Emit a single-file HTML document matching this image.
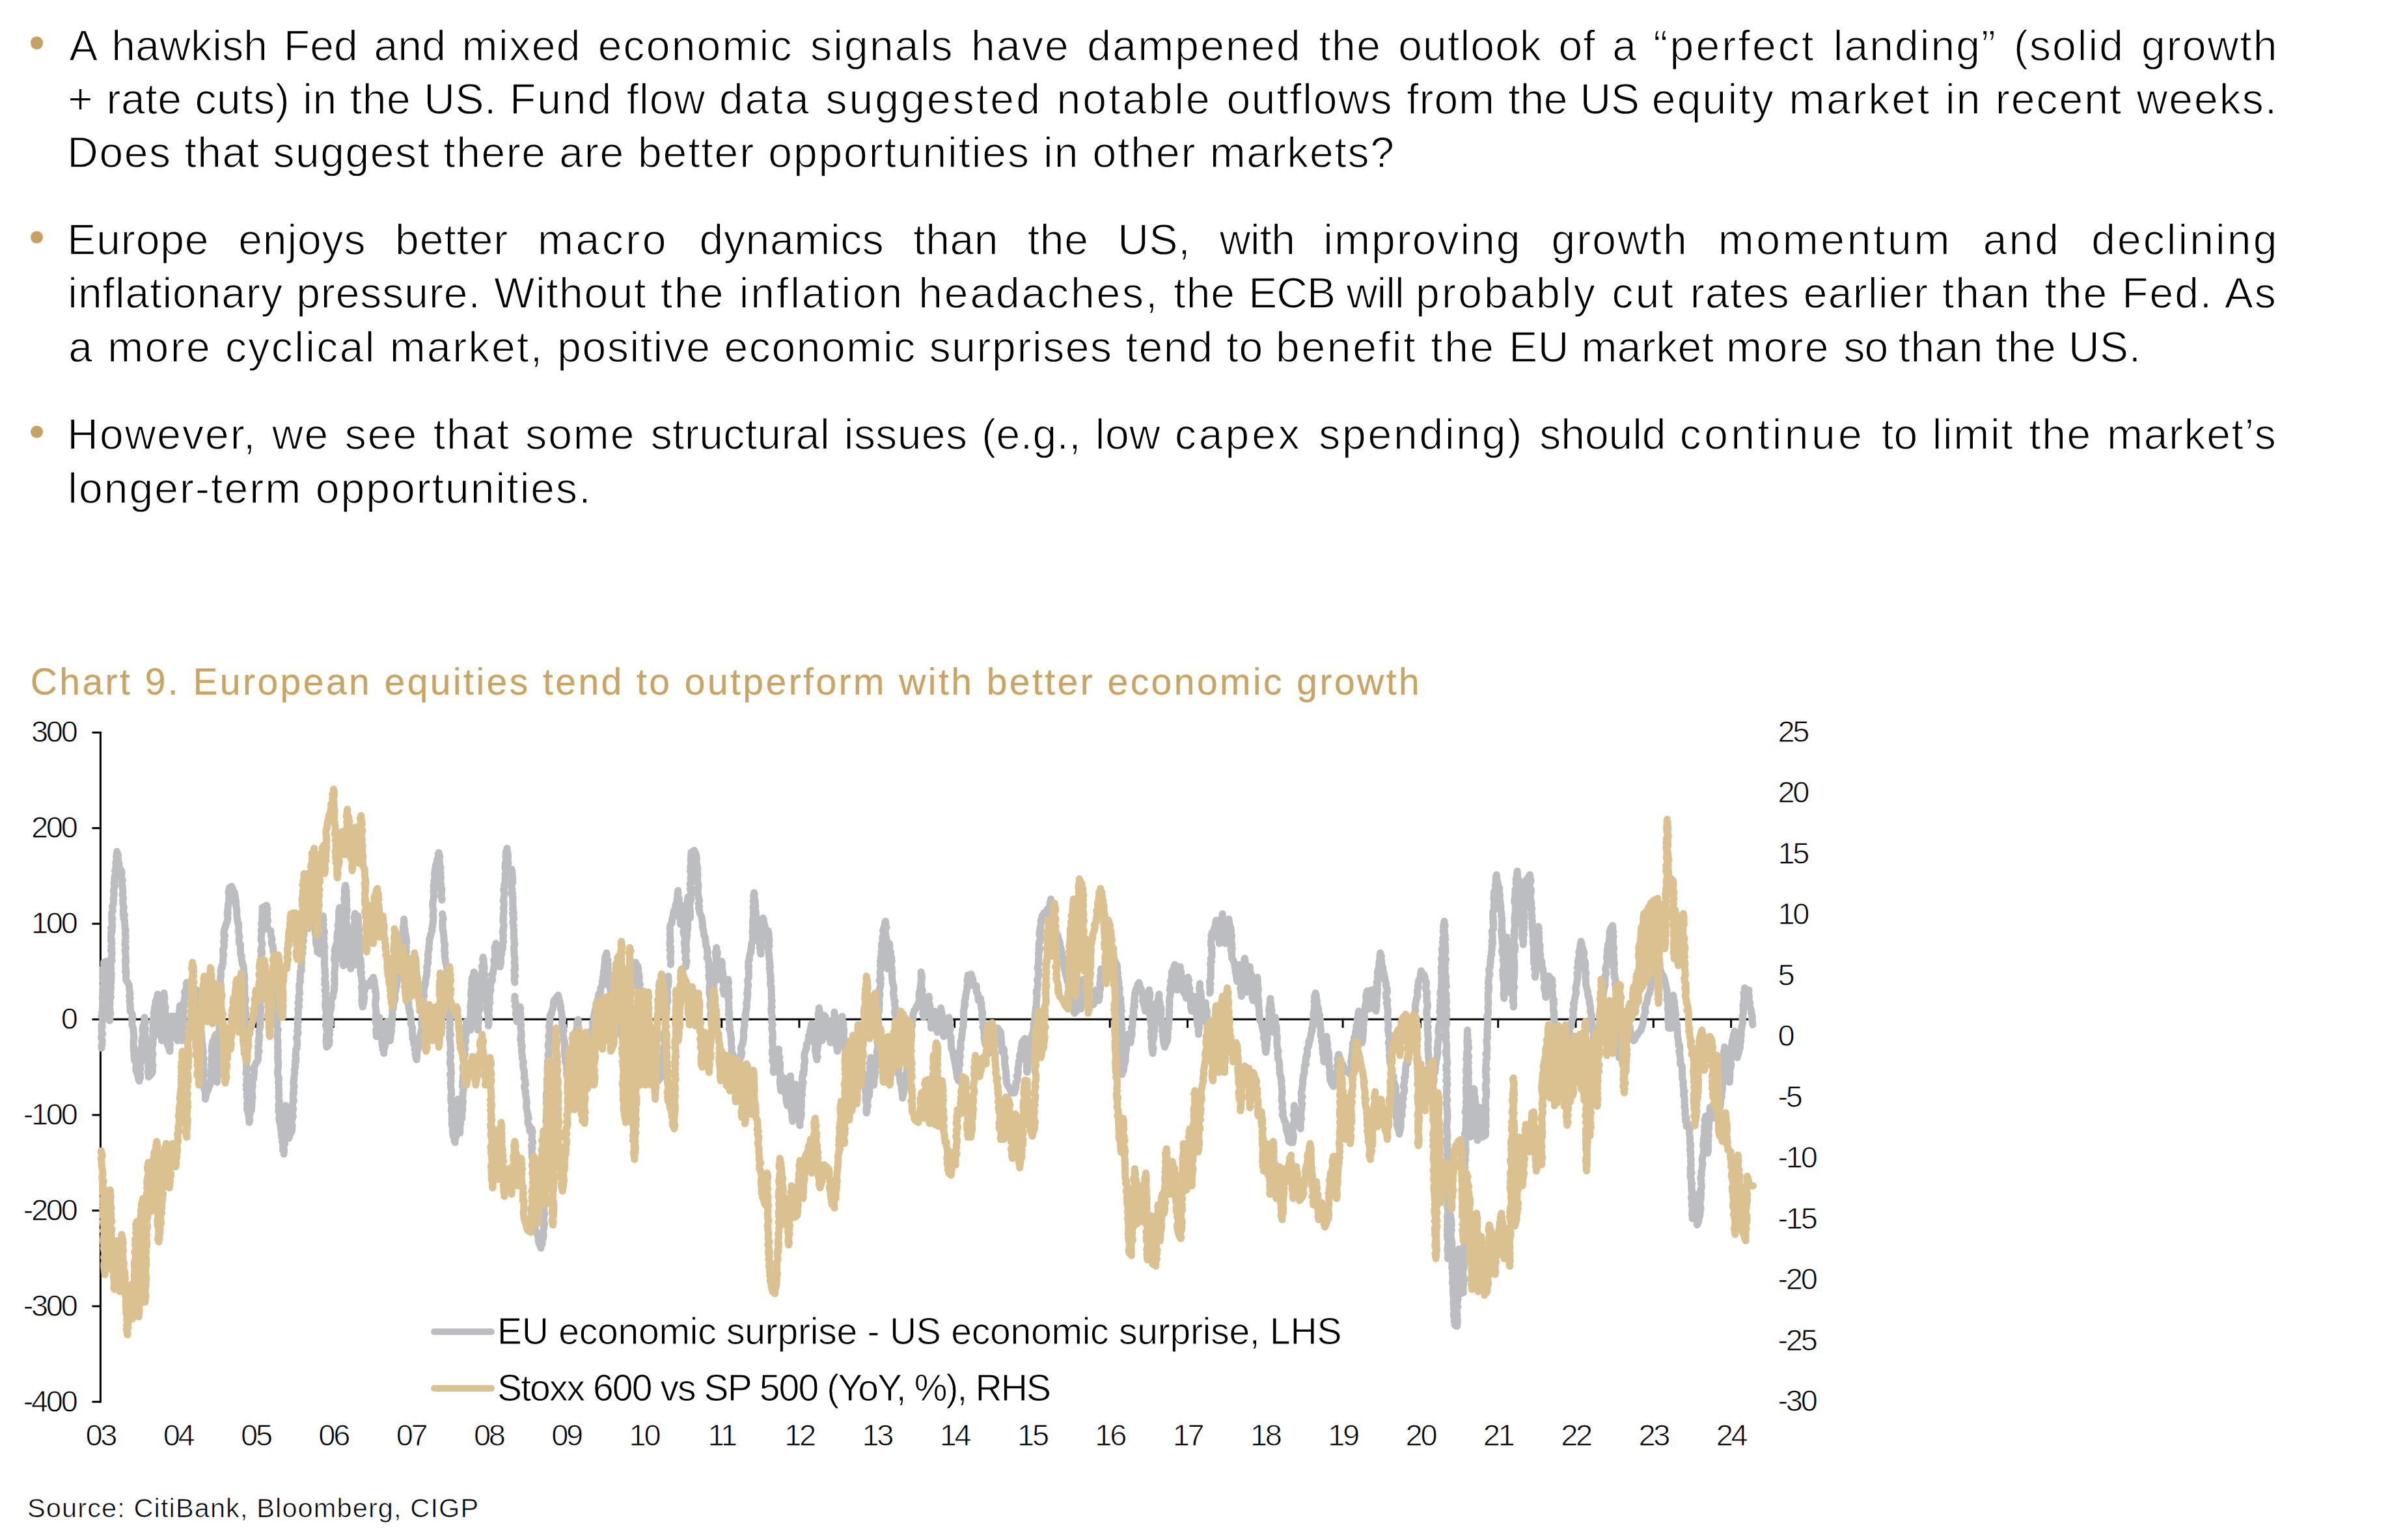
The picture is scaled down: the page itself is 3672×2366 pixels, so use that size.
<!DOCTYPE html>
<html><head><meta charset="utf-8"><title>Chart 9</title>
<style>
html,body{margin:0;padding:0;background:#fff}
body{width:3672px;height:2366px;position:relative;overflow:hidden;font-family:"Liberation Sans", sans-serif}
.t{position:absolute;white-space:pre;margin:0;padding:0;font-variant-ligatures:none}
.b{position:absolute;width:19.5px;height:19.5px;border-radius:50%;background:#C9A063}
svg{position:absolute;left:0;top:0}
</style></head>
<body>
<div class="b" style="left:46.95px;top:56.25px"></div>
<div class="b" style="left:46.95px;top:354.85px"></div>
<div class="b" style="left:46.95px;top:653.85px"></div>
<div class="t" style="left:106.35px;top:27.33px;font-size:66px;line-height:86px;letter-spacing:0.221px;word-spacing:5.798px;-webkit-text-stroke:1.3px #fff;color:#000">A hawkish Fed and </div>
<div class="t" style="left:709.55px;top:27.33px;font-size:66px;line-height:86px;letter-spacing:1.485px;word-spacing:5.798px;-webkit-text-stroke:1.3px #fff;color:#000">mixed </div>
<div class="t" style="left:918.65px;top:27.33px;font-size:66px;line-height:86px;letter-spacing:2.194px;word-spacing:5.798px;-webkit-text-stroke:1.3px #fff;color:#000">economic signals have dampened </div>
<div class="t" style="left:2026.15px;top:27.33px;font-size:66px;line-height:86px;letter-spacing:1.552px;word-spacing:5.798px;-webkit-text-stroke:1.3px #fff;color:#000">the </div>
<div class="t" style="left:2148.25px;top:27.33px;font-size:66px;line-height:86px;letter-spacing:1.162px;word-spacing:5.798px;-webkit-text-stroke:1.3px #fff;color:#000">outlook of a </div>
<div class="t" style="left:2540.35px;top:27.33px;font-size:66px;line-height:86px;letter-spacing:3.179px;word-spacing:5.798px;-webkit-text-stroke:1.3px #fff;color:#000">“perfect </div>
<div class="t" style="left:2816.85px;top:27.33px;font-size:66px;line-height:86px;letter-spacing:2.028px;word-spacing:5.798px;-webkit-text-stroke:1.3px #fff;color:#000">landing” (solid growth</div>
<div class="t" style="left:104.35px;top:108.63px;font-size:66px;line-height:86px;letter-spacing:0.551px;word-spacing:1.153px;-webkit-text-stroke:1.3px #fff;color:#000">+ rate cuts) in the US. </div>
<div class="t" style="left:782.95px;top:108.63px;font-size:66px;line-height:86px;letter-spacing:1.953px;word-spacing:1.153px;-webkit-text-stroke:1.3px #fff;color:#000">Fund </div>
<div class="t" style="left:962.65px;top:108.63px;font-size:66px;line-height:86px;letter-spacing:1.086px;word-spacing:1.153px;-webkit-text-stroke:1.3px #fff;color:#000">flow </div>
<div class="t" style="left:1104.95px;top:108.63px;font-size:66px;line-height:86px;letter-spacing:3.107px;word-spacing:1.153px;-webkit-text-stroke:1.3px #fff;color:#000">data suggested notable </div>
<div class="t" style="left:1884.45px;top:108.63px;font-size:66px;line-height:86px;letter-spacing:1.698px;word-spacing:1.153px;-webkit-text-stroke:1.3px #fff;color:#000">outflows </div>
<div class="t" style="left:2161.35px;top:108.63px;font-size:66px;line-height:86px;letter-spacing:0.901px;word-spacing:1.153px;-webkit-text-stroke:1.3px #fff;color:#000">from </div>
<div class="t" style="left:2317.35px;top:108.63px;font-size:66px;line-height:86px;letter-spacing:-0.274px;word-spacing:1.153px;-webkit-text-stroke:1.3px #fff;color:#000">the US </div>
<div class="t" style="left:2537.85px;top:108.63px;font-size:66px;line-height:86px;letter-spacing:2.154px;word-spacing:1.153px;-webkit-text-stroke:1.3px #fff;color:#000">equity </div>
<div class="t" style="left:2748.55px;top:108.63px;font-size:66px;line-height:86px;letter-spacing:2.757px;word-spacing:1.153px;-webkit-text-stroke:1.3px #fff;color:#000">market </div>
<div class="t" style="left:2989.05px;top:108.63px;font-size:66px;line-height:86px;letter-spacing:1.983px;word-spacing:1.153px;-webkit-text-stroke:1.3px #fff;color:#000">in recent weeks.</div>
<div class="t" style="left:103.35px;top:191.43px;font-size:66px;line-height:86px;letter-spacing:1.537px;word-spacing:0.000px;-webkit-text-stroke:1.3px #fff;color:#000">Does that suggest there </div>
<div class="t" style="left:859.35px;top:191.43px;font-size:66px;line-height:86px;letter-spacing:1.716px;word-spacing:0.000px;-webkit-text-stroke:1.3px #fff;color:#000">are </div>
<div class="t" style="left:979.95px;top:191.43px;font-size:66px;line-height:86px;letter-spacing:1.895px;word-spacing:0.000px;-webkit-text-stroke:1.3px #fff;color:#000">better opportunities in other </div>
<div class="t" style="left:1858.65px;top:191.43px;font-size:66px;line-height:86px;letter-spacing:1.683px;word-spacing:0.000px;-webkit-text-stroke:1.3px #fff;color:#000">markets?</div>
<div class="t" style="left:103.35px;top:325.13px;font-size:66px;line-height:86px;letter-spacing:0.873px;word-spacing:25.627px;-webkit-text-stroke:1.3px #fff;color:#000">Europe enjoys better </div>
<div class="t" style="left:825.95px;top:325.13px;font-size:66px;line-height:86px;letter-spacing:3.542px;word-spacing:25.627px;-webkit-text-stroke:1.3px #fff;color:#000">macro </div>
<div class="t" style="left:1074.55px;top:325.13px;font-size:66px;line-height:86px;letter-spacing:0.652px;word-spacing:25.627px;-webkit-text-stroke:1.3px #fff;color:#000">dynamics than the US, </div>
<div class="t" style="left:1873.75px;top:325.13px;font-size:66px;line-height:86px;letter-spacing:-0.349px;word-spacing:25.627px;-webkit-text-stroke:1.3px #fff;color:#000">with </div>
<div class="t" style="left:2033.35px;top:325.13px;font-size:66px;line-height:86px;letter-spacing:2.009px;word-spacing:25.627px;-webkit-text-stroke:1.3px #fff;color:#000">improving growth </div>
<div class="t" style="left:2639.65px;top:325.13px;font-size:66px;line-height:86px;letter-spacing:3.671px;word-spacing:25.627px;-webkit-text-stroke:1.3px #fff;color:#000">momentum </div>
<div class="t" style="left:3046.75px;top:325.13px;font-size:66px;line-height:86px;letter-spacing:3.083px;word-spacing:25.627px;-webkit-text-stroke:1.3px #fff;color:#000">and declining</div>
<div class="t" style="left:104.35px;top:406.93px;font-size:66px;line-height:86px;letter-spacing:0.947px;word-spacing:0.970px;-webkit-text-stroke:1.3px #fff;color:#000">inflationary pressure. </div>
<div class="t" style="left:759.05px;top:406.93px;font-size:66px;line-height:86px;letter-spacing:1.592px;word-spacing:0.970px;-webkit-text-stroke:1.3px #fff;color:#000">Without </div>
<div class="t" style="left:1014.85px;top:406.93px;font-size:66px;line-height:86px;letter-spacing:2.484px;word-spacing:0.970px;-webkit-text-stroke:1.3px #fff;color:#000">the </div>
<div class="t" style="left:1135.85px;top:406.93px;font-size:66px;line-height:86px;letter-spacing:2.862px;word-spacing:0.970px;-webkit-text-stroke:1.3px #fff;color:#000">inflation headaches, </div>
<div class="t" style="left:1803.35px;top:406.93px;font-size:66px;line-height:86px;letter-spacing:0.984px;word-spacing:0.970px;-webkit-text-stroke:1.3px #fff;color:#000">the </div>
<div class="t" style="left:1918.35px;top:406.93px;font-size:66px;line-height:86px;letter-spacing:-1.000px;word-spacing:0.353px;-webkit-text-stroke:1.3px #fff;color:#000">ECB </div>
<div class="t" style="left:2068.75px;top:406.93px;font-size:66px;line-height:86px;letter-spacing:-0.934px;word-spacing:0.970px;-webkit-text-stroke:1.3px #fff;color:#000">will </div>
<div class="t" style="left:2175.05px;top:406.93px;font-size:66px;line-height:86px;letter-spacing:3.213px;word-spacing:0.970px;-webkit-text-stroke:1.3px #fff;color:#000">probably cut </div>
<div class="t" style="left:2596.65px;top:406.93px;font-size:66px;line-height:86px;letter-spacing:1.342px;word-spacing:0.970px;-webkit-text-stroke:1.3px #fff;color:#000">rates </div>
<div class="t" style="left:2770.75px;top:406.93px;font-size:66px;line-height:86px;letter-spacing:1.323px;word-spacing:0.970px;-webkit-text-stroke:1.3px #fff;color:#000">earlier </div>
<div class="t" style="left:2984.05px;top:406.93px;font-size:66px;line-height:86px;letter-spacing:1.935px;word-spacing:0.970px;-webkit-text-stroke:1.3px #fff;color:#000">than the Fed. As</div>
<div class="t" style="left:105.35px;top:489.63px;font-size:66px;line-height:86px;letter-spacing:2.410px;word-spacing:0.000px;-webkit-text-stroke:1.3px #fff;color:#000">a more cyclical market, </div>
<div class="t" style="left:856.35px;top:489.63px;font-size:66px;line-height:86px;letter-spacing:1.564px;word-spacing:0.000px;-webkit-text-stroke:1.3px #fff;color:#000">positive </div>
<div class="t" style="left:1112.55px;top:489.63px;font-size:66px;line-height:86px;letter-spacing:1.589px;word-spacing:0.000px;-webkit-text-stroke:1.3px #fff;color:#000">economic surprises tend </div>
<div class="t" style="left:1884.35px;top:489.63px;font-size:66px;line-height:86px;letter-spacing:0.736px;word-spacing:0.000px;-webkit-text-stroke:1.3px #fff;color:#000">to </div>
<div class="t" style="left:1959.95px;top:489.63px;font-size:66px;line-height:86px;letter-spacing:2.738px;word-spacing:0.000px;-webkit-text-stroke:1.3px #fff;color:#000">benefit </div>
<div class="t" style="left:2198.35px;top:489.63px;font-size:66px;line-height:86px;letter-spacing:2.477px;word-spacing:0.000px;-webkit-text-stroke:1.3px #fff;color:#000">the </div>
<div class="t" style="left:2318.35px;top:489.63px;font-size:66px;line-height:86px;letter-spacing:0.362px;word-spacing:0.000px;-webkit-text-stroke:1.3px #fff;color:#000">EU market </div>
<div class="t" style="left:2652.05px;top:489.63px;font-size:66px;line-height:86px;letter-spacing:2.356px;word-spacing:0.000px;-webkit-text-stroke:1.3px #fff;color:#000">more </div>
<div class="t" style="left:2832.55px;top:489.63px;font-size:66px;line-height:86px;letter-spacing:-1.000px;word-spacing:-1.047px;-webkit-text-stroke:1.3px #fff;color:#000">so </div>
<div class="t" style="left:2916.55px;top:489.63px;font-size:66px;line-height:86px;letter-spacing:0.503px;word-spacing:0.000px;-webkit-text-stroke:1.3px #fff;color:#000">than the US.</div>
<div class="t" style="left:103.35px;top:624.33px;font-size:66px;line-height:86px;letter-spacing:1.998px;word-spacing:3.149px;-webkit-text-stroke:1.3px #fff;color:#000">However, we see that </div>
<div class="t" style="left:807.25px;top:624.33px;font-size:66px;line-height:86px;letter-spacing:1.903px;word-spacing:3.149px;-webkit-text-stroke:1.3px #fff;color:#000">some </div>
<div class="t" style="left:999.65px;top:624.33px;font-size:66px;line-height:86px;letter-spacing:0.394px;word-spacing:3.149px;-webkit-text-stroke:1.3px #fff;color:#000">structural issues (e.g., low </div>
<div class="t" style="left:1804.95px;top:624.33px;font-size:66px;line-height:86px;letter-spacing:3.930px;word-spacing:3.149px;-webkit-text-stroke:1.3px #fff;color:#000">capex </div>
<div class="t" style="left:2026.15px;top:624.33px;font-size:66px;line-height:86px;letter-spacing:2.783px;word-spacing:3.149px;-webkit-text-stroke:1.3px #fff;color:#000">spending) </div>
<div class="t" style="left:2365.35px;top:624.33px;font-size:66px;line-height:86px;letter-spacing:-0.068px;word-spacing:3.149px;-webkit-text-stroke:1.3px #fff;color:#000">should </div>
<div class="t" style="left:2580.85px;top:624.33px;font-size:66px;line-height:86px;letter-spacing:4.320px;word-spacing:3.149px;-webkit-text-stroke:1.3px #fff;color:#000">continue </div>
<div class="t" style="left:2890.75px;top:624.33px;font-size:66px;line-height:86px;letter-spacing:0.487px;word-spacing:3.149px;-webkit-text-stroke:1.3px #fff;color:#000">to </div>
<div class="t" style="left:2968.75px;top:624.33px;font-size:66px;line-height:86px;letter-spacing:1.629px;word-spacing:3.149px;-webkit-text-stroke:1.3px #fff;color:#000">limit the market’s</div>
<div class="t" style="left:104.35px;top:707.13px;font-size:66px;line-height:86px;letter-spacing:2.044px;word-spacing:0.000px;-webkit-text-stroke:1.3px #fff;color:#000">longer-term opportunities.</div>
<svg width="3672" height="2366" viewBox="0 0 3672 2366">
<g stroke="#000" stroke-width="3" fill="none" stroke-linecap="butt">
<path d="M154.4 1123.9 V2155.2"/>
<path d="M141.5 1125.4 H154.4"/>
<path d="M141.5 1272.3 H154.4"/>
<path d="M141.5 1419.2 H154.4"/>
<path d="M141.5 1566.1 H154.4"/>
<path d="M141.5 1713.0 H154.4"/>
<path d="M141.5 1859.9 H154.4"/>
<path d="M141.5 2006.8 H154.4"/>
<path d="M141.5 2153.7 H154.4"/>
<path d="M154.4 1566.1 H2695"/>
<path d="M273.6 1566.1 v13"/>
<path d="M392.9 1566.1 v13"/>
<path d="M512.2 1566.1 v13"/>
<path d="M631.5 1566.1 v13"/>
<path d="M750.8 1566.1 v13"/>
<path d="M870.1 1566.1 v13"/>
<path d="M989.4 1566.1 v13"/>
<path d="M1108.7 1566.1 v13"/>
<path d="M1228.0 1566.1 v13"/>
<path d="M1347.3 1566.1 v13"/>
<path d="M1466.6 1566.1 v13"/>
<path d="M1585.9 1566.1 v13"/>
<path d="M1705.2 1566.1 v13"/>
<path d="M1824.5 1566.1 v13"/>
<path d="M1943.8 1566.1 v13"/>
<path d="M2063.1 1566.1 v13"/>
<path d="M2182.4 1566.1 v13"/>
<path d="M2301.7 1566.1 v13"/>
<path d="M2421.0 1566.1 v13"/>
<path d="M2540.3 1566.1 v13"/>
<path d="M2659.6 1566.1 v13"/>
</g>
<g fill="none" stroke-linejoin="round" stroke-linecap="round" stroke-width="110" transform="scale(0.1)">
<path stroke="#BBBDC0" d="M1562 16102l-3-32 11-22 0-41 2-27-17-33 0-14 22-52-15-16-2-52 0-24 12-9-10-31 9-33 7-57-4-32-15-21 19-25-13-21 18-52-11-17 12-49-8 0 2-40 4-39-11-27 7-40 8-30-8-21 1-36 5-23 1-46 5-7-2-35-3-40 3-42 3-5-11-34 14-53-15-13 6-40 10-18 2-35-2-31 32-16 0 22-5 29 11 51-5 19 19 32-3 39 0 26-1 40-7 34 19 5-15 38 0 28 13 37 0 38-3 40 5 24 4 25 2 26 5 33-8 30 8 57 7 34-3 5 10 29 9 39-15 27 3 55 12 17-3 30-2-39-6-29 14-18 7-23-11-35 3-29-5-21-3-43 9-24-4-26-2-36 18-39-12-34 8-36-6-8 10-51 3-17-11-32 12-47-3-9 3-37 2-36-3-27 7-15-14-60 9-32-7-27-1-12 0-32 21-46-4-15-14-17 14-51 4-40-1-4-17-28 16-30-12-37 13-45-18-42 12-11-9-28-2-36 12-40-11-5 20-42-20-33 23-21-7-57-2-24 10-38-14-6 3-37-1-36 3-15 13-31-9-63 7-8 10-26 5-64-6-28 5-18 6-36 1-25-9-20 5-36 18-55-6 3-11-47 12-34-4-37 4-29 2-5 18-53-15-26 7-26 7-36 2-39-5-28 9-24 7-25-7-49 13-30-5-5 2-39 8 27 11 25-5 42 8 20-4 31 17 46-8 27 6 25 22 28 20 37 1 23-6 23-2 49 19 39-14 34 4 21 7 23 3 46 2 16 5 39-11 39 2-3 14 63-9 23 2 14-1 38 7 35 10 29-13 43 9 36-9 26 24 14-17 44 16 37 0 22 5 47 0 24 1 28 12 21-9 54 6 26-2 20 7 14-12 46 8 24-12 36 11 33 6 28-15 36 5 8 1 33 6 59 3 32-14 25 16 9-7 28-3 42 2 25 9 41-14 26 17 11-1 29-6 46 2 32 10 25 24 36 14 36 2 27 4 54 5 12 6 32-15 35 18 31-15 38 10 40 3 30-6 24 9 34-4 33 32 49 4 28-13 30 13 32-6 23-3 51 13 35 9 29-1 37 5 28 0 14 4 51-3 30-4 20-2 30 3 38-2 27 18 17-16 32 10 37-2 21 0 38 3 26 4 40 13 16 12 32 1 31-7 38 2 29 12 31 16 41 5 28 6 33 13 35 5-27 11-27 2-45-15-7 6-46 12-48-16-19 4-45 15-14-4-28-2-39 3-22 5-34 4-31-10-24 23-56-2-13-1-43-1-22-2-29 10-45 8-30 6-5-1-28-8-39-3-25 7-55 16-30 1 3 0-45 5-27 0-35 3 22 14 46-10 28-3 15-2 35 15 20-7 40-2 45 7 34 12 8-10 42 8 22 8 33 8 37 1 28-1 37 8 7 3 63-6 7-11 32 2 43 15 33 9 16-1 46-3 6 9 49-7 42-7 1 13 52 0 27 20-23 22-19 17-30 2-26-1-48 7-35-15-13 5-19-1-46-2-18 4-36 10-41-15-12-1-37 3-45 7-31 4-23 3-53-7-26 14-19 1-43-7-20-8-43 7-6-2-45 11-40-12-16 2-38-1-41 13-24 9-30-11-29 9-36 4-35 3-40 21-12-11-59 23-11-2-27 12-40 3-38 6 36-16 30 4 40 19 20-8 34-2 30 17 7-12 59-4 14 17 38-12 25 4 34 16 21-15 54 6 22 6 18-4 38 4 26 3 23 8 63 23 24-2 30 7 28 7-34 1-40-7-16 7-42-4-32 1-7-2-48 10-35 8-26-13-30 5-26 1-32-4-43 17-3-1-43 6-43-20-2 13-44 1-24 5-30-3-28 5-29 1-49-2-24 1 33 8 26-1 46-8 8 4 26 9 47 11 28-16 15 10 32-9 42 18 24-11 22 18 57-9 5 12 49-4 33-2 21 7 19-10 47 6 29 5 16-8 27 12 51-1 27 4 27 10 49 20 10 2 46 10 31 4-37-9-17 13-48-10-26-4-25 20-47 3-8-19-35 19-37-12-36 18-27 2-24-8-31-2-56 3-30-2-28 3-24 56 0 3 36 16 36-4 31-8 26 20 32-9 34 15 20-12 29 16 25-9 59 5 7 9 38 6-28 7-19-14-39 4-33-3-29 6-35 9-31 1-55 0-23 19-39-4-28-8-11 8-56-4-22 11-24-2-41 3-22 1 31-6 34 2 25 1 31 1 39 15 45-6 1 5 54-2 40 2 20-2 29 18 29-10 34 19 20-4 42 2 26-4 35 6-39 8-38-13-25 0-7 0-42 11-50 6 2-4-58-4-17 18-25-15-53 12-18-8-19 1-33 13-30-11-41 17-39-17-39 13-15 0-30 7-23 3-41 12-22-16-45 18-33 13-37 3 2-7-49 6-28 7 25 17 40-6 17 8 42 9 34 4 15 3 38 24 30 24 35 17-38 5-35 13-9 22-40 8-41 1 30-6 36 12 21 12 53-2 21 3 33-1 35-7 20 10 19 7 20 8 58-16 33 7 25-4 34 16 17-1 32 3 30-4 47 14 17 5 14 7 59 11 11-9 50 12 18 2 37-5 11 4 25 10 32 2 39 3 27-3 21 12 32-18 53 1 12 24 25-10 50 1 24 6 13-9 35 17 57-18 18 14 30 1 38-15 7 5 34-2 34 9 35-5 35 11 24-1 35 9 35 8 29-1 38 2 24-2 36 9-25 5-43 10-46 21-25 4-23 11-32 15-24 6-42 5-31 8-42-4-27 8-40-6-24 10-34-4-37-10-18 11-17-2-54-2-32 14-20-7-21 5-38-4-28-7-27 8-46-4-7 12-57 2-22 18-23 14-47 1-11 16-33 1 35 5 33 6 37-6 5-2 44-1 46 3 28 10 28-19 24 7 35-5 5 15 54 0 11 1 59 5 18-11 43 15 27-11 6 0 54-4 17 4 45 0 23 3 37 3 22-2-24 2-28 15-53-17-27 1-10 4-38-3-31 6-23 3-53 4-25-10-23 15-19 4-57-6-19 12-19-13-33 15-27-3-34 4-26-5-37 0-22 10-43-9-43 10-28-11-2 15-56-8-25 5-25-1-23 9-43-23-32 1-39 1-24 15-35-3-6 3-46 5-11 6-48-4-20-9-49 10-36-15 4 13-52-1-37-7-24 15-13-16-49 18-25 4-34-4-14-4-51 1-23-1-39 11-10-6-52 1-37 8-42 15-4-5-29 18-34-3-52 4-29 0-29 8-23-10-24-3-51 9-9 10-38 2-37-10-42 14-22-7-36 15-31-21-25 7-32 2-16 7-36 10-28 15-53 11-21 6-28 6-34-6-45-3-29 12-5-9-31 8-32 2-57-1-5 17-61-6-10 3-35 5-47-11-35 1-20 12-32 3-26 32-16 14 34 11 40 18 17 6 39 8 29 2 33 10 51-15 0 12 46 7 43 6 33 0 8-1 54 3 28 6 37 3 44 6 32 9 2 4 34-3 60-5 23 10 33 3 27 7 27-9 49 3 35 1 20 22 17-4 48 0 34 1 14 3 57 16 19-1 37 0 30 14 53-2 13 16 20 4 54 0 25 6 29 3 39 2 17 3 47-8 32-1 35 12 22-4 25 3 32-5 21 5 42-1 11-9 63 23 10-1 45-16 20 0 29 14 44 3 25-3 29 6 28-3 45-7 35-3 18 11 35-2 13 3 19 10 59-3 18-14 47-1 25 14 13 7 40-21 41 23 21-16 16 2 27 3 26 6 57-7 8 15 27-12 42-8 39 14 33-7 33 8 21-2 26 1 33 0 23 13 26-17 27-5 34 22 29-2 45-11 21 6 31 10 39-23 14 21 26-17 44 19 28-13 46 8 30-8 10 13 32-2 51-7 20 2 29 1 35-3 25 17 44 3 29 5 13 9 67-1 22 2 25 10-38-6-12-2-51 12-31 6-33 17-23-1-32 3-40 2-38 2-16-11-46 22-21-14-39 9-10-9-45 5-44-2-17 10-19-5-56 5-18 5-28 11-21-2-35 6-34 5-31-3-36-4-30 13-23 17-41 19-23 16-32 2-27 0-23-4-53 19-26-14-27-5-41 8-2 8-47-9-32 14-27-10-21 16-32-9-32-1-53 11-36 8-23 0-16 2-40-4-27 7-30-17-14 14-33 1-36-2-24 7-44-3-41-9-6 3-56-1-26 13-21-3-19-2-41 0-37 9-29-2-14-1-42-3-48-5-1 14-41-13-29-4-33 20-18-2-57-8-30 11-12 2-46-13-12 3-51-10-39 4-19 7-25-2-29 15-49-22-33 18-7-9-37 12-43 2-31-3-6-16-54 7-7-4-32 10-60 7-25-17-16 10-23 13-33-21-48 21-23-9-35 11-17-12-28 4-32 1-33 2-39-2-39 33-17 32-16 2 27 13 23-11 33 10 43-8 28 10 55 5 29-17 36 4 5 3 39 5 40 49 32 1 27 1 37 3 19 17 52-12 39 7 35 16 21-1 30 7 23-2 29 16 43 2 42 3 25-4 33 4 36 14 31-3 12-11 40 14 24 1 51 5 31-20 23 14 33 2 10 10 36 0 25-3 50-16 25 6 16 5 42 8 28 2 49 0 16-6 43 11 2 3 52-1 36-16 26 14 15-12 25 6 31 4 47 17 12-11 41 2 33 3 28-5 30 2 34 15 29-8 35-3 12 4 37-7 29 9 42 3 46-1 22-3 41-3 7 12 54-11 28 7 11-1 53-6 13 10 44-6 21 10 34-2 22-3 32-3 27-3 37-3 11 6 58 11 14 6 34-10 22-3 28 10 26-2 37-4 20 10 31-7 32 9 50-11 12 5 45 9 28-6 38-10 32 12 26-8 38-4 27 20 10-2 22 1 63-10 6 4 38 9 40 7 14 8 61-2 20 10 27 1 34 1 28 6 48 9 24-5 28 16 50-6 25 11 18-12 37 19 25-1 40 1-33 4-23-7-32 1-31 17-42-20-32 18-34-8-6 10-53-3-14 7-44 3-31 1-18-11-25 14-42-8-45-10-32 16-19-13-40 19-11-10-43 10-51-6-22 1-24 5 36 1 33-9 40 11 21 4 15 17 59-5 10-6 40 9 43 14 31 0 24 3 36-2 6-5 57 14 18-2 35 13-31 6-27 19-36 11-20 3-25-7-49 11-8-14-34 4-35 8-28 14-45-19-24 4-7 6-31 13-55-14-35 0-8 2-46 11-10 7-28-13-32 3-45-1-36 13-10-3-24-4-30 14-42-12-17-3-46 10-29-1-33 2-22 6-42 4-18-6-39 12-43 1-27-5-20 17-43-15-1 18-41-11-45 3-33 5-33-3-29 16-20-6-8 13-44-2-33 1-34-11-36 5-33 9-9 12-45-17-23 6-28 7-46-9-33 0-12 15-23-15-51 5-1 7-39 2-29 1-48-9-21 20-43 3-1-20-63 8 1 16-43-14-35 5-43 12-11-2-40-5-23-2-33 3-42-3-5 19-48-4-10-2-35 8-29-5-20 3-65 17-8 0-41-8-20 7-33 4-24-6-52-2-35 0 0 5-49 19-19-9-39 15-44-5-16-10-17 10-46 12-25-11-28 0-49 20-14-4-26-7-36 5-54 1-35 7 3-11-60 9-25 8-29-2-28 9-34-1-33 0-19 2-54-9-5 5-38 7-39-1-34 19-16 3-26-8-44 3-35-6-28 4-20 14-40-4-47 4-25-7-31 13-15 6-42-4-25 11 37-4 18 12 34 0 41 2 26 14 43-4 0 3 51 16 33 13 15 1 38 5 28 5 24 8 42-11 32 10 25-1 31-4 47 12 11 11 26 6 30-15 47 18 29-9 42-1 9 11 31-5 36 7 17 11 31-9 40 12 36 5 29-6 29 5 30-3 29 12 38 9 34 1 27-2 36 49 32 6-35 10-9-21-55 3-22 10-23-4-23 12-39 7-40-11-46 17-12-1-50 5-20 1-34 1-8 7-42-13-18 9-49 3-26 1-33-3 25 10 34-15 23 15 48-5 36-5 19 15 33 9 27-14 47 2 13 6 43-7 19 3 37 8 45-12 19 18 12-16 34 10 25-2 37 3 50 3 23-1 29-4 16 0 38 2 38 4 34 6 28-5 22 8 53 1 18-10 41-2 16 18 46-18 22 21 28 2 42-20 23 2 10 17 34-12 45 9 37 0 16-8 35-2 40 12 15-13 14 8 47 13 38-3 31-12 39 1 31 12-1 4 35-6 50-10 23 14 33 0 12 10 59 1 17-13 20 3 26-5 46-2 38 10 37-5 8 5 35 33-33 7-33 4-30-4-16-13-34 20-49-15-30 17-34-10-16 3-49 15-19-10-16 10-41-2-50-9-10-2-30 6-37 11-48 2-6 9-52-2-32-4-16-1-33 15-27 17-25 3-53 7-20 7-38 4-26-5-23 11-32-2-37-8-43 10-7-4-50-1-43-3-5 10-45-2-32 9-28-2-21-2-24-15-55 23-30-18-14 11-47-9-39 5-23 4-25 10-26 11-34 12-38 5-32-13-22 7-37 1-45 11-10 2-29 5-53-12-17 12-31 1-9 6-57-4-7 0-45 2-24-1-36 5-26 8-39-1 34-6 14 8 45-6 29 4 25 6 43 9 6-17 58 2 22 4 21-4 56 9 8 9 19-17 60 22 13-20 20 16 49 4 20-18 35 13 43-13 29 22 36-10 2 11 63-4 19-3 24 2-33-2-46 3-10-6-40 18-39-3-6-5-63 5-4-8-52 16-6-8-51 7-36-17-6 0-31 19-35 2-55-18-23 12-31-5-44 8-19-1-29 1 28-4 32-6 46 2 22 21 8-14 63 4 11 6 17 8 30-1 61-15 30-2 32 7 20-6 13 7 38-1 24 11 38-3 39 3 24-3 36-8 39 0 33 4 31 4 17 5 27 1-31-9-25 21-22-18-36 8-45 3-8-12-39 22-21-6-56-11-20 6-28-10-23 7-50 14-35-12-31-4-28 6-33-7-20 12-8-10-42 11-39 1-25-5-28 5-26 2-45 9-18-1-26-2-44-2-38 6-34-12-14 16-38-15-21-6-35 9-25 2-31 1-28-5-27 7-61 7-30 6 26 3 43 8 18-16 46 15 5-14 37 19 27-1 47-4 27 3 34-9 17 18 56-8 32-2 10-3 41 4 39-6 14 1 50 1 7 10 56 10 1-6 47 2 49-13 20 4 37 0 23-2 39 9 11-2 48 17 12 0 37-5 45-6 25 1 40 9 25-5 24 0-36-8-35 14-6 12-64 1-16-15-16 12-54 4-33 0-12 0-38 3-38-1-22-2 32 11 21-16 48 9 26-6 40 16 20-3 47-10 19 5 19 0 44 20 22-12 35-6 45 18 11-5 55-3 18 6 34 5-30-7-39 10-26 2-18-7-38 14-39-21-30 14-13 1-49 9-28-19-32 0-40 14-4-4-40 4-53-3-28 16-31-19-30 11-13 2-38 2 30-4 38 2 40 8 27-4 30 0 40 17 17 2 24 0 26-10 33 11 46 5 43-5 23-2 23-4-38-2-39-3-25 3-33 15-28-3-13-1-49-2-27 13-36-11-10 6-44-8-6 8-52 0-35 9-26-2-38-6-13 14-48-11-24-6-28 12-32 1-26 1 35-3 34 2 20 4 29-4 24-1 55-4 14 13 49-8 27-3 22 13 39-6 31 7 3-9 59 17 15-15 34 9 24 3 17-1 36-1 60 3 3 5 47-3 17 5 54-4 22 2 22-2-29 12-17-15-50 14-35-1-27-9-12 7-40 9-25 2-19-5-39-7-33-6-47 12-25-5-22 6-24-9-52 12-13-1-44 6-7 9-47-9-28 9-39-9-12-1-38 3-29 1 23 3 21 6 53-13 29 7 14-7 26 24 55-6 25-2 46 10 13-6 26 0 25 0 30 6 53-10 33 18 8-7 48 2 24-1 27 0 35-1 44 19 4 4 57-3-1 5 35 5 34-15 23 2 55 17 2-13 42 11 29 2 36 4 34 8 29-4 17-11 47 19 20-13 36 14 19-13 56 11 3-15 55 8 29-5 20 8 28 5 29 3-33 13-18 0-49 4-4 7-43-13-39 6-32 9-24-2-33 21-17 2-38-1-27 27 8 38 24 14-23-1-58 19-17 17-32 8 28 10 52-2 4 5 50 9 27 2 34-2 22 12 23-1 58 5 33-12 16 1 26-5 53 5 29 8 36-3 26 7 18-8 49 11 3-17 50 0 40 5 29 8 6 10 32-4 33-12 28 4 54 3 25 1 26 7-25 12-53 0-34-7-28 9-22 8-36 5-22 13-44 2-29-1 31 0 39 13 18 2 26 2 53 9 27-5 33 3 29 15 22 4 33-11 23 24 20-19 30 3 39 18 40-9 19 14 42 3 28 1-22-7-30 20-36-3-51 15-1-18-56 20-28-3-35-3-11 13-17 7-31 3-43 5-49 1-11-6-41 4-25 2 40 7 28-3 24 15 52 15 16-7 44 13 13 1 44 5 31 4-33 2-29 8-47 4-22 5-19-13-41 13-30 6-9-3-27 6-62-1-20-3-40 9-8-3-54-1-30 15-15 1-33 4-22-6-25 20-36 12-48-5-27-3-5 2-65 14-15-2-18 12-55-1-3 9-39 2-33 7-31 0-33 11-13 1-52 12-6 7-32-6-37 27-49 4-24 4-16 0-37 5-26 3-31 5-34 7-7-2-52 2-13 5-45-12-21-5-38 16-46 5-23 0-9-4-25-4-57 9-27-6-17 1-31 18-50-3 3-4-54 1-23 6 39-6 4 3 57 6 36 10 23-7 11 10 56 5 11 6 38 2 24 6 20 2 34-16 44 10 42-6 20 10 29-6 25-3 35 5 18 16 35 1 34-5 24-9 26 12 61 6 30-13 23 8 31-2 29 9 35-5 4 10 38-9 24 1 40-3 20 1 57 7 12-13 30 6 23-1 36 15 36-4 36 10 37-8 23 12 27-6 26 23 53-10 8 14 35 0 23 7 38 8 34-4 30-6 15 17 40 11 35-5 38 2 25 2 26 5 38-3 36 21 25-4 19 2 42 20 37 2 15-10 28 21 19-13 56 9 8 5 51 8 22 6-39 1-32-3-4 7-43 8-41 18-37-12-15 1-26 15-47 15-33-10-32 6-2 8-49 5-22 6-26 6-20 7-45-9-39 2-41 4-3 5-41-1-24 10-22 1-66-12-5 16-31-2-48 5-29-10-21 17-34-14-49 20-16-8-23 1-40 5-27 1-34 12-20 9-42-1-24 4-31 11-60 6-7-2-41 9-33-2-28-6-29 17-47 7-23-10-25 10-44 1-26-10-25 8-18 4-44 12-29-7-26 5-32 3-26 3-26-3-37 19-35 3-47 10-15 15-49-9-10 11-41 4-28 7-48-1-11 2-24 3-51-10-4 6-27 5-60 0-2-9-29-3-33 0-60 10-27 2-22 2-25 6-43-5-30-5-15 19-28-13-30-3-31 19-42-12-21 7-37 8-35-5-21-2-28 3-32 11-11-4-33 11-58 0-6 22-36-4-21 6-33 18-30-6-41 8-23 7 35 10 36-18 1 14 63 1 3-3 31 5 32 14 28-13 45 12 29-12 12 16 50 0 24-5 23-4 47 12 23-3 45 16 28-13 29 10 21-5 19-5 50 14 30-1 26"/>
<path stroke="#BBBDC0" d="M6796 14040l3 25 12 51-10 20-4 14 4 47 0 40-1 2 2 51 9 19 1 36 4 15 3 36 3 34-2 36 12 30 7 20-10 31 3 39-7 22 16 26-10 43 2 25 6 11 3 31 6 49 7 27 7 30 6 34 1 47 0 32 14 26-6 18 10 40-4 28 17 46-2 3-2 55 4 31-15 8 16 51 4 19 1 20 2 57-14 1 7 53-4 8-1 58-3 34 4 4-2 59 20 6-18 43 20 7-5 61-3 20 9 19-12 45 8 26-4 45 0 21 15 21-19 24 1 27 7 41 6 33-2 29 6 38 1 19 0 37-13 31 5 35 10 15-6 38-3 15-6 65 17 10-2 25 2 55 2 13 5 46-22 12 10 26 4 26 3 56-10 21 5 27-2 33 9 46 4 8-1 24 1 41-10 25 0 51-1 11 3 28 14 46 0 43-5 0-5 48 14 46-4 6 3 56-5 31 15 19-9 14-8 28 14 56 4 25-5 29 13 28-9 16 11 46 23 22-9 41 10 26 1-30-5-18 20-34 2-45-20-32 23-24-15-42 1-20 21-14-3-35-11-29 2-39-2-18 4-41 15-28 2-40 5-10-3-29 8-63-2-29-1-18 0-28 6 22 9 23-20 29 4 66 19 28-14 22 17 32-11 39 13 21-9 20 14 35-5 45 0 28-7 19 18 12-1 44 0 35 5-31-7-18 6-62 9-35-5-7 4-41 22-35-2-25 0-39-3-38 12-10 2-36-7-22 7-38 5-56-4-11-16-43 18-21-3-39 1-9 11-43-5-47-14-14 18-46-16-17 7-37 3-25-2-32 13-41 2-35-12-9-4-44 6-34 19-33-2-4-10-33 4-34 8-46 9-19-12-35 1-41 17-7-17-33 15-63-13-16 21-15-14-46 18-40-18-23 16-15 6-62-15-26 12-21 5-26-4-33 18 36 8 43 27 24 12 27 4-37-13-30 16-37 5-7-4-45-12-19 1-42 15-26-12-23 3-47 3-21-8-34 11-25-2-39 15-50-4-16-11-38-1-11 0-26 9-56 7-20-2-41-4-24 9-38-3-25 9-34 13-13 4-39 7-30 6 26 10 19-13 59-1 13 0 54 19-1-6 33-10 33 18 42-8 33-3 22 3 48 9 27 1 20 7 25 2 50-10 10 1 41 4 32 3 31 5 39 15 38-6 28 11 11 5 53-18 24 15 26 0 22 0 35 5-27-10-18 15-63-15-27 17-11 8-25-16-56-1-24 10-31 11-22 1-22 1-44-7-30 3-26 11-30-13-35 6-47-6-19 16-25-4-35-2-24 14-35-14-42 10-25-2-26 15-31 0-35-6-22 21-30 1-54-8-38 15-2 6-41 0-23-9-51 8-24 7 39 3 26-6 39 0 1 14 30 0 52-12 22 6 44 15 13-13 31 9 40 14 20-17 41 9 34 8 23 6 18 1 30-5 44 4 14 0 36 1 37 5 32 1 24 8 51 9 3-15 38 11 40 3 23 12 47-2 4 2 23 6 54 2 19-5 29 0 34 7-36-15-33 17-22 5-26 1-21-16-61 7-30 8-10-7-39 3-48 2-22 12-5-13-48 11-26-6-19 5-45 4-31 13-29-9-27 4-39 2-24 14-50 13-10-5-34-4-52 16-9 5-39 7-41 4-27 8-47 6-13-17-46 19-15 6-19-7-46 8-10-9-47-2-47 1-18 15-19 1-36 8 38-3 34 7 13 10 52 4-4 3 48 13 15-4 30 11 38 1 34 12 31 3 28 6-32 10-42-17-31 13-22-3-42 17-29 0 3-6-44 18-36 4-45-5-3 1-29 15-30-8-39 3-34 5-28-14-44 14-35-10 0 9-31 8-38-9-51-8-32 11-17-8-37 6-16-1-32 9-28-8-55 6-32 3-6-1-58-11-16 10-53-1-3 7-48 9-8-22-58 13-24 0-29-2-25 16-37 3-27-5-33 6-17-5-46 9-18-1-55-10-23 0-32 10-39-3-12 20-46-2-24-15-12 5-47 0-37 12-26 4-28 2 41 5 22 8 33-1 32 3 20-11 54 16 20-15 42 9 26 7 34 48 0 5 36 5 11-1 28 7 56-4 35 2 27 3 6-19 53 2 34 8 29-7 23 16 38-12 12 17 51-7 3 3 52-2 26 3 39 3 34-8 12 19 56-20 17 15 31-6 21 14 23-19 53 0 17 14 42-6 29 11 37-3 35 0 30 0 24-1 28 9 18-2 38 4 23 4 25-13 36 1 41 3 38 1 28-1 22 7 23 5 40-5 32-7 18 16 43-10 41 12 20-19 19 7 36-2 27 15 17-19 45 5 27 6 33"/>
<path stroke="#BBBDC0" d="M7910 15307l-2 32-1 35 13 18 3 37-12 29 17 29 9 38-10 12-3 51 15 22-3 26 1 31 5 29 3-30 14-29-2-53 9-11 11-30 6-43 8-31 6 25-11 39 11 26-1 30 4 47 4 22-7 42 0 19 11 33-10 32 5 37 2 17 9 31-13 45 14 3-20 55 16 16-4 33 0 34 17 16-9 47-2 22 1 32 5 16 7 33-3 31 10 36 10 34-8 23 4 50 1 20 17 44-4 25 3 24 4 26-10 25 18 39 3 52 4 13-20 25 7 44 11 34-1 24 6 40 3 24 8 25 1 49 5 8-13 65 6 15 7 33 5 33 13 49-9 3 18 44-12 21-1 48 10 32 20 30-1 25-1 40 33-32 4 35 8 9-10 50 3 28-7 46 16 24 2 25-20 36 2 33 13 11-11 26 2 64 2 27-2 12 9 31 13 27-11 29-8 49 8 23 3 31 3 23-12 45 24 6-12 66 10 30-6 29-10 13 20 27-9 32 0 44 15 9-14 51 11 31-1 34 5 20-12 10 15 59 2 9-3 54-11-3 0 38 13 52 4 25 5 41-11 28 7 6-2 28-3 53-3 20 7 30 12 28 2 37 21 25 14 39 6 33-2 37 7 19 14 43 15 22 2 25 4-33 17-26 2-22-4-42 19-29 1-27 5-36-14-24 7-27 13-51-6-18 11-14 1-34-12-35 5-39-5-21 16-45-12-33 1-22-5-21 9-31 3-36-3-25 15-47-14-1 2-53-6-12 5-28 6-56 11-4-5-40 1-18-13-56 14-23 6-15-11-55 3-14 0-24-2-25 4-57 6-30 2-2-16-57 13-20-8-20 0-52 6-4 5-50-5-23 4-34 9-31-20-33 10-36 7-25 0-34-5-15-6-43 16-27-11-22 9-22-2-31 9-28 1-38-4-42-14-11 8-52 5-15 7-53 0-1 5-31-9-32 2-32 10-47-20-17 20-25-10-47-8-16 5-57-3-1 9-41 2-35-4-31 12-20-12-41 16-14-16-42 20-29-1-42-6-41 8-10-13-17 1-63 14-28-1-29-14-8 16-33 3-28-12-41 12-15 2-43 5-18-12-54-5-5 6-41 9-28 11-30-17-38 1-32 15-21-2-22 10-53-6-16-15-18 11-44 3-34 2-31 0-11 4-62 23-11-4-16 15-48 6-12 10-50 3-34-2-11 8-38 24-29 19-27 22-26 8 31 3 27 16 45-9 15 22 43-1 27 0 27 9 29 6 29-2 30 7 23 8 25 1 47-9 21 3 27 20 35-19 45 24 17-15 41 5 26 8 50-2 8 11 38 7 26-5 33 1 31 4 30-7 18 8 62 5 13 2 41 0 16 2 38 6 32 14 21-5 54 5 26 4 7-2 36-4 23 13 59 5 14 4 44-7 25 2 25 8 22 4 46-2 36 14 5-4 28 6 42 6 38 1-36 17-41 13-32-1-25 3-28 6-31 6-32-11-15-4-58 5-15 17-42-3-9-11-34 5-57 11-17-1-22-7-32 6-18 10-57 3-23-9-18 11-28 10-31 7-50-7-21 3-24 2-37-1-33-3 0 6-29-6-39 4-18 15-43-1-7-1-41 12-32-1-13 10-46-7-46 14-18 4-25 5 36-9 24 8 43 10 40-10 18 19 22-13 42 7 18 18 58-3 30 1 26 7 31 9 49 9 31 1 36 9 20-8 35 18 11-8 34 2 46 9 32 10-40 18-23 11-52 9-15 17-33 1-36 7-7 16-31 7-58 4-9 11-52-12-27 12-22 2-13 17-32 0-37 0-39 9-17 12-30-10-42 3-28 23-46-6-41 17-23-7-29 8-30 4-24 23-39-5-35 21-49-6-12 12-36 7-32 1-35 30-23 1-27-1-38 23-42 4-30-3-31 20-48-12-11 10-22 4-55-1-28 14-23-4-44 4-30 7-36 4-29-6-18 7-44 16-16 4-36 5 39-11 34 20 28 8 8-19 63 22 1-8 59 6 1-7 60 1 11 19 28-4 37 1 37 0 33 15 28-9 44 16 7 2 51 12 35-6 21 2 41 3 21-5 39 18 46 3 13-7 37 0 6 12 64 6 18 0 15-11 54 9 6 4 44 1 26 9 24-5 37 18 47-13 7 12 51 9 12 2 33 26-30 23-18 18-29 11-15 12-53 10-29 16-1 14-36 11-21-5-31 23-38 8-42 10 1-10-61 24-11 10-31-11-40 16-24 5-26 14-25 3-21 13-47 3-28-7-41 13-33 22-12-8-44 18-18 8-24 3-32-2-24 17-46 1-23-13-46 9-21 7-33-2-37 9-30 8 30 23 28 8 40-4 30 5 19 14 59 2 27-5 29-6 13 21 64-14 19-1 43 16 30-2 24-3 39-2 30 24 10-7 53 8 31-1 19 0 39 7 27 6 16-10 35 0 42-3 38 6 20 14 21-1 34 1 38 21 21-10 29 15 17 6 50-4 17 10 27 7 24 4 56 12 16 3 30 5 27 18 31 10 37 3 30 9 17 20 43-5 4 10 41 19 52 3 5 6 38 11 23 8 46-3 34 28 9 2 26 16 52 0 22 5 12 14 35 29-38 20-27 5-26-11-22 14-42 6-34 6-24 0-35-6-33-3-12 12-28 3-36 1-39 9-44-3-34-10 5 0-37 26-34 2-50-4-13-3-50-8-4 4-34 2-32 0-18 18-57 9-33-10-14-1-30 7-34-1-25 15-20-19-46 16-47-14-4 18-51 2-8-9-40 13-48 1 2 8-29-3-32-8-54 11-32-11-17 5-19-4-51 19-32-2-23 7-43-9-25 4-16 0-38"/>
<path stroke="#BBBDC0" d="M10303 14820l6-32-1-21-13-55 9-29-6-3 11-59-19-27 17-38-15-27-3-16 1-35 13-20-8-28 3-29-8-48 7-10 0-47-6-34 3-27 6-24 22-27 1-39 7-40 12-32 4-34 7-46 24-32 5-11-4-40 13-32 10-24 0-31 8-50 0-21 2-31 6-38 2 35-8 24 2 38 22 27-5 33-6 22 11 40-3 25 2 33 10 23 3 49-2 35-3 29-1 10 18 19-4 54 1 24 9-30-6-41 11-42-11-3 18-59-1-28 14-32-3-21 1-37 0 26 4 32 3 27 7 34-15 43 20 27-7 37 11 0-9 31-2 38 5 46 11 15-19 57 20 15-14 12 21 47 0 40-1 31-11 10 6 50 10 30-3 20-8 37 13 25 3 47 7-1-14 49 11 18 7 37-5 24-2 38-2-39 11-21 5-28-14-40 2-36-6-14 6-38 11-37-6-29-2-18-4-40 1-21 5-20 6-42 2-25 5-37-15-48 18-21 6-23-3-26 5-34 0-39-15-42 0-2 11-62-14-15 13-35-11-34 21-14 0-47-3-33-8-3-1-55 4-16 5-37 5 34 9 29 5 44-11 13 9 40 9 40 2 31-8 37 15 26-3 30 3-35-11-28 12-20-3-37-8-49 1-20 3-37 3-24 12-9 5-37-23-49 24-14-3-48-14-34 7-21-1-39-10-21 22-21-8-52-3-19 5-30 5-35-1-40-14-2 18-48-15-7 10-62 10-13-17-33 3-28 1-38 6-29-3-27 49-33 15 37 12 22 5 39 6 36-10 43 9 6-5 63 16 4 4 26-4 54 6 42-4 24-1 26 1 39 1 31 9 19 4 41-14 26 10 31-9 35 10 31-1 5 7 53 9 27 5 17-17 39 15 44-12 24 10 28 4 30 5 26 18 33 12 38 4 33 3 27 6 38-2 49 11 25 6 29 2 27 2 40 13 12 7 29 3 41 8 40-2 29 17 40 6 31-4 23 12 13-7 45-8 42 20 11 6 35 2 32 7 29-9 34 8 26-2 31 15 37-20 34 23 16-16 31 8 15 9 51-10 36-4 33 18 15-17 29 1 34 2 29 8 23 5 38 9 27-7 40-8 23 1 29 9 44 13 9-2 32-13 38 2 43 16-3-3 54-4 23-3-27 8-46 6-36-7-12 13-34-10-29 8-32-9-15 5-54 2-2-1-43 14-45 7-32-14-36 13-21 0-23 7-29-6-19 7-55 21-35 2-21 2-36 4-32-8-29 10-47-12-21 0-13 23-39-14-33 14-20-6-33 9-31-15-21-3-57 4-22 10-20 0-36-1 37 17 37-3 20-6 15 0 33 2 25 16 43-19 20 11 29 7 38 2 32-4 50 3 31 8 25 0 23-1 29 4-28-4-43 24-9-14-33 16-51 17-17-11-19 6-42 11-34 5 36-2 20-4 48 9 5 7 56 4 23 0 36 4 19-11 52 3 2 12 59 6 39-17 30 7 2 5 37 5 39 3-39 16-42 15-34-4-27 7-38 18-22 9-25-3 22 13 27-9 53-6 17 17 40-16 27 18 32-13 19 16 37-16 27 10 52 3 22-7 17 8 36-8 44 16 35-19 28 11 6 8 48-7 22 1 38 3 32 10 48-13 32 9 1 11 61 4 9 2 60 8 12 0 23 0 48-2 31 7 38-2 18 1 49 5 8 20 50 13 19-5 35 8 51 2 25 10 25 5 41-10 29 20 42-2 10 3 41 4 55 12 21-4 25 11 35 6-38-12-34 7-22 7-24 15-48 6-15 4-29 2-34-7-39 4-41 1-28-5-16 20-64 10-10-9-35 17-16-16-55 5-38 3-10 16-24 8-33 6-55 5-16-1-25 4-28-7-36 8-31-2-23 14-45-6-29-2-23 17-37-3-12 9-56-8-3 13-57 0-23 6-12 8-51-10-37 7-13 6-33 3-31 6-46-13-28 15-14-7-23 0-29 16-58-4-14-8-44-2-26 17-33 2-30-1-32 0-20-1-44-9-35 14-19-11-24 2-51 16-19-3-30 5-30 7-41 17-21-5-40 9-19 1-53 4-16 11-40 7-25-3-31 3-53-7-20-2-25 19-22-13-43 14-27-13-29-2-25 6-46 11-39-7-32-1-24 16-16-18-53 0-21 13-14-3-58-9-16 16-22-12-58 5-16 6-31 6 27-7 20 8 35 7 38 2 19 1 43 5 22-10 27 14 55 1 18 2 45-2-3 3 40 3 35 6 33 7 41-10 12 10 54 6 16 11 28 4 35 4 41 2 39 7 31-2 15 17 45-8 36 15 38-5 31 7 25 0-33-6-12 12-45 11-48-13-31 6-32 12-13 0-18 4-51-5-18 9-44-5-12-1-57 8-32-7-21 2-9 9-38-4-38 10 24 3 43 8 28 8 19 7 62-3 20 6 32 42-33-4 36 14 10-6 32 12 51-1 23-1 19-6 44 10 21-19 34 6 21 1 54 6 11 1 38 4 28 2 33 8 40-8 19 13 39-14 22 8 34-1 31 9 30 5 21-8 21 12 58-9 13 0 48 15 33-2 11 2 34 1 27-3 42 5 10-5 53 8 31 5 1-11 54 2 21 9 23-16 28 9 44-8 13 16 53-1 28-4 38-6 26 14 29 7 12-14 37-3 29 8 27 8 26-2 47-7 37 12 1-11 46 3 29 5 35 2 33-3 37-10 22 13 25-12 15 18 49-4 28-11 30 24 33 0 8 1 48-7 43-3 21 4 27 8-24 3-47-4-43 5-33 22-6 7-36-14-48 19-9-7-42 9-36 33-33-1 24-3 33-1 48 19 19-14 36 11 32 10 32-2 30 2 9-4 39-8 37 17 34-16 14 21 25-10 35-5 51 1 31 8 23-1 35 6 27 2 25 9-25 6-50-1-19 23-32-2-32 14-37 8 30-4 14 18 41-20 27 7 55 20 29-11 0 4 52 3 19 13 33-9 25 7 38 4 24 9 35-1-34 4-39 0-17 10-18 13-50-12-21 2-47 19-34-15 1 17-36-2-35 8-33 10-19-11-35 6-37 2 28 3 50 5 11-3 27 8 30 1 31 5 46-18 13 8 36 4 34 8 25-15 41-1 18 1 51 16 9-2 22-8 30 1 39 11 42 1 39-4 5 9 43 1 28 0-36 13-35-10-10 19-37-6-36-9-10 16-45 9-29-11-41-3-10 20-53-16-6 2-37 23-49-18-4 5-44 18-27-12-21 8-38 5 21 13 30-11 54 13 32-1 31-9 17 13 26 10 44-14 22 8 15 6 30 15 49 2 12-7 33 10 28 3 42-5 41 11 33 2 26-5 26 6 21 0-26-1-33 4-23 16-56 2-4 1-57-17-11 10-39 9-44 0-21-4-48 5-1-2-30-8-51 23-30-16-32 13-31-2-31 8-34-9-9 20-49-17-16 0-26 3-56 22-35-14-27 19-20-1-38 3-12-7-37 15-33-2-46 2-4-7-27 1-62 6-21 7-22 13-32 8-21-3-47 18-31 12-32 5-40-1-37 22-33-2-20 7-47 2-2 9-47 7-33 6 30-5 37 26 44-10 18 3 35 19 33-9 24 8 36 11 35 1 24 11 43-4 24-2 41 16 27-4 38 9 34 5 29-4-23 16-21-19-47 8-37 8-12 0-34 9-46-19-31 13-39 4-15-2-46 13-34-19 0 20-32 0-59 3 0-7-34-7-38 5-30 1-18 1-53 5-15-9-40 22-40-11-13 2-39 6 33 1 16-10 63 13 5 1 55 6 25-7 34 12 26 11 12 1 43-3 29 14 19-8 34 6 35 2 51 3 23 7-36-4-38-2-6 10-50 2-6-4-43 9-48 13-25-15-30 14-12-10-51 10-20 3-24 18 24 10 37 20 36 6 40 13 26-7 32-2 38 14 23 8 48-7 27 16 38 0 20 8 33 8-33 0-13 9-64 11 1-7-38-6-34 21-29-14-44 24-20-5-41 3-36 10-32 5-27-1-31 1-30-1 23 10 24-2 59 6 29 4 2-6 58-5 9 12 37 7 33 5 43 6 4-15 27 12 55 6 29-14 22 1 33 5 33 7 24 6 29 1 28 10-35 2-33-3-31 15-39-2-37-3-35 3-21 21-33-1-28 6-33-8-38 23-11-6-42-6-34 26-26-2-37 0-23-3 33-3 43 22 19 5 30-4 18 1 20 8 35 2 37-2 30-4 36 1 34 19 35-3 6-9 33-2 32 11 39 11 23-4 42 2 23 12 32 20 28 16 12 0 46 18 15 18 55-2 8 16 32 21 22 22 44 11 11 26 28 17 50 19 5 14 34 22-34 18-5 4-47 21-22 5 28-4 27 15 20-1 47-16 25 16 45-13 9 13 51 1 28 9 3 3 32-8 44-1 40 3 21 11 31 4 45-7 24-1 35-1 10 4 36 9-30-11-42 22-28 0-12-10-51 11-36-4-32 27-32-4-24 9-34-6-21 6-31 2-41-7-31-4-26 1-35 6-44 4-6 6-34-1-26 7-31-14-48 15-26-12-44 5-27 5-19 3-39 8 23 10 42-10 25 8 47 0 6 1 51 2 9 5 49 15 11-13 28 18 35 9 53-11 5 7 38-1-33-1-29 7-40 8-22 6-45 4-32-2-26-2-11 0-24 15-50 7-7-18-48 4-22 17-29 5-46-2-20 1-35 4-33 10-15-1-47-7-26-4-28 18-22-7-65-8-5 10-27 1-55-2-5 13-31-20-52 16-8-10-36 8-33-1-27-5-58 8-13 11-44-2-15 0-26 5-60-1-10-3-38-2-39 13-37 2-27-5-10-10-40 11-30 7-18 7-58 0-13-20-35 24-33-10-25-4-57 0-19 4-12 12-60-13-28 12-9-11-54 20-6-14-56 9-17 0-32 0-38 13-22-5-37-4-19 3-41 19-27-3-29-4-29 2-22 15-33 3-34-14-27 8-31 15-35 4-44 13-35 5 37-11 11 22 48-20 18 1 40 0 25 8 45 4 16 8 37-11 34 0 32-1 23 12 15 3 60-11 2 19 60-1 10 2 47 9 22-13 32 14 41-10 15 8 29-4 32 7-26 0-21-9-34 9-56-1 3 13-49-12-35 2-8 2-59 3-2 0-41 6-36 6-26 6 37-5 38 2 28 19 31-16 15 7 42 17 10 3 21 6 54-13 29 1 42 10 20 2 23-2 24 9 37-8 27 4 28 0 36 5 26 1 42 9 17 11 39 1 32-2 18-8 47 4 15 8 34-2 27 8 36 11 12-9 34 2 24 13 46-5 16-10 53 8 27 7 23 11 14 0 48-1 29-1 32-4 30-2 42 21 23-7 19-1 46-4 23 6 38-5 32 2 17 22 39-9 33-6 35 0 28 21 17 2 32-14 53 14 7 3 36-5 30-1 38 4 32 8 41-14 19 8 44-1 25 26 39-6 18 1 31 4 35 15 34 6 12 0 32-2 23 12 59 1 18 5 29-2 34 5-32 12-36 3-23-1-25 17-47-5-5 13-39 1-30-3-35 7-37 2-30 2-40 16-11-1-60 6-24 14-27 10-24 7-23-11-38 17-30-3-45 9-7-1-41 4-41-8-24 5-16-2-43 5-21 11-45-4-18 16-36-2-51-7-24-2-32 5-28 17-30-11-31-1-40 19-10-1-35 2-38 9-34 11-44 20-17 9-35 20-24 18-47 11-26 2-25-8-32 0-23 6-49 6-22 13-24-5-32 7-51 1-10 3-38 3-55 0-20 0-19-2-39 0 29 11 18 3 34-5 51-6 12 5 47-4 40 3 28 14 16 0 44-5 29-6 5 8 30 15 33-7 40 1 43 8 30-12 29 2 8 16 33-16 31 11 43 3 25 3-34 4-29 7-41-7-10 21-65-2-31 8-18-2-31 20-26 29-39 6 36-9 16 0 24 18 60 3 14-17 41 19 10-8 33 4 33 16 38-3 41 2 5-4 33 5 32 4 38-4 33 12-26 4-53 13-13-7-29 5-45 17-17 4-42 1-35 10 38 2 25 1 19-3 34 19 53-4 43 12 7-3 31 7 46 8 29 10-40-2-40-1-21 20-24-3-19 0-26 19-39-10-30 17-27 0-40 3-40 2-28 7 34-9 23 18 22 3 41-13 40 21 25 3 41-7 14 7 40-2 44 14 37-13 21 8 26 5 31-1-31 4-29 15-30 1-56 2-25 13-27-1-30 28-36 20-29 7 33 6 11-13 62 8 4 15 35 4 20-13 38-3 42 4 18 19 45-8 12 8 48-1 22 1 33 4 49 3 17 15 23 9 40 3 28 7 23 4 33 15 51-4 10 11 44 4 44 9 27 1 32 7 41 3 40 18 20 4 29-1-36-7-10 7-29-4-42 14-48-9-21 12-44 12-22-17-33 10-27-2-18 13-43-8-26-3-48 3-4 19-57-11 3 7-56-3-23 3-22 13-32 2-24 3-52 6-20 3-51-3-2 16-41-1-32-3-26 7-20 3-49-4-41 5-30-7-34 6-27 8-31 0-34 14-11-10-40 4-30 12-38-1-28 7-34 7-37 7-26 5-27-3-24 14-43-12-43 1-25 11-31 1-34 48-16 9 37 14 38 4 1 4 35 2 39 0 28 49 0 2 42-4 39 5 22 20 21-2 25 4 38 7 41 32-33 2 39 13 44-11 21 13 31-7 18 20 57 1 34-12 6 9 40-3 32 8 35 8 36 10 36-19 9 25 58-7 18 5 22 3 57-5 12 10 39 2 38 14 36 21 24 8 43 5 22 17 37 9-40 7-16 16-23-6-58 29-43-4-9 14-38 18-30-4-44 30-19 4-34 17-35 22 29 27 36-2 35 6 15 6 54-13 17 19 39-12 28 14 31 2 37-4 36 33-33 3 26-4 52 0-1 20 60-11 14 4 30 0 23 3 44 10 25-5 21 10 28 3 32-1 36 6 22-7 32 9 24 2 49 6 25 22 35 20 32 11 24 12 39 49 0 16-55 7-23-5-46 7-38 10 4 10-39 3-29-13-36 18-19 6-46-8-28 2-20 10-42 2-27 3-40 18-20-6-55-3 1 9-46 18-29-4-46 8-22 5-32 1-36 19-32 29-33 7 29-9 29 18 34-5 37-1 25-7 43 21 20-7 40-6 10 12 48 3 26-3 27 11 11-9 45 6 44-6 28 8 23 9-32 2-16-4-45 8-29-7-41 15-7-4-58-2-1 19-31 1-49-4-8 3-47 9-12-4-43 7-35 11-30 8-35-1-27 13-47 10-15 8-41 3-31 6-22-8-33 20-51-4-22 9-37 0-17-3-24 10-47-1-25 2-34 12-26 0-18-2-42 5-25 0-31 7-49-13-31 9-10-7-31 18-25-1-38 7-26 1-20-13-60 14-20 6-43 2-33-4-26 6-17-19-37 3-29 20-39-7-22-3-23 6-40 2-36-8-34 18-37-13-27 19-8-16-40 0-47 19-19-9-21 14-21 3-57-20-9 3-56 17-12-11-36 13-27 0-28 5-30-3-39 12-32 8-38 17-20 12-24 48 16 14-27-10-47 21-7 17-59-3-20 14-38 2-29 10 40 18 27 15 30 2 36 11 23-1 44-11 34 1 32 15 23-9 35-10 14 4 47 13 3-18 35 18 42 2 27-3 38 0 24-1 30 49-32 10 24-5 41 21 23 9 32 2 40 11 35 9 34-5 29 16 18 6 55 7 26 6 21 2 26 3 37 17 48-7 11 9 44 11 22-5 17 12 42 8 29 9 28 2 23 16 33 8 22-6 24 17 48-9 20 10 27 11 41-1 19 8 45 9 23 11 39 11 14 1 33 12 46 3 35 10 27 33-32 9-35-10-19 18-49-3-27 3-24 15-27-4-63-2-18 6-30 7 36-8 40 8 10 10 56 12 21-13 44 13 15 4 37 6-29-5-37 5-16 13-56-4-27 2-2-3-37 7-55-1 3-3-46 6-48-3-2 18-55-12-21 6-26 9 34 22 8 14 56 19 16 2 14 15 34 8 31 1 12 21 35 12 35 8 20 1 30 21 32 10 32 10-30 4-23-5-27 15-44-4-56 7-15 5-32 7 31 19 38-5 35 20 32 8 27-2-36 15-27-2-39 1-12-1-49 13-8 1-36-10-35 3-27 7-36 3-43-6-14 3-26 11-43-6-26 2-30 13 38-2 34 14 30 20 19 4 41 18-30 7-34 26-5 0-46 20-22 10-25 14-39 19-10 17-37-3-46 18-31 19 33 17 39 13 26 7 25 0 50-1 39 11 12-7 43 11 38 1 13 6 35 4 37-2 24 15 58-13 28 11 17-6 32 5 29 21 47-6 10 3 41 5 38 6 35-10 31 15 27-21 18 5 27 14 64-7 29 5 14-3 43 12 21-18 12 19 51-15 39-7 29 5 25 8 43 9 18-6 38-10 6 1 25 17 57 2 20-19 50-1 25 6 31 11 11-8 43-5 32 6 18-2 53 3 8 3 33-9 50 7 21 3 25 4-28 21-33 0-24 3-47 11-30 7-22 8-45-3-10 5-53-5-19 10-40 3-24 5-24-6-18 5-58 7-6-1-33 7-30-7-38 7-35 12 25 3 23 16 43 18 39 6-26-9-32 18-34 8-29-1-39-2-34-6-38 14-11 3-41 1-41 1-33-5-42 24-11-4-26-6-40 10-24-10-20 25-39-17-32 19-49-13-8 7-50 7-26-5-26 11-25 5-36 11-22 15-21 5-42 18-28 7 22 3 30 13 26 19 44 6 24 5 32 10 34-4 30-1 46 14 21 3 33 11 24 6 39 5 33 11-42-9-16 21-56-5 1 16-47 11-25 3-46-4-17 11-37 4-40 6 39 8 15-1 55-8 18-8 36 15 26 7 24-2 25-14 23 14 45-6 26 0 31-3 21 16 29-8 37 6 37 8 38 3 28 3 22 5 17-16 48 9 28 0 37-7 26 17 39-5 28 15 30-18 17 11 49-4 8 10 44 2 28 2-27 10-52 0 0-17-40 6-50 6-32 5-25 1-34 8-6-5-30 11-52 0-40 2 0-8-44 5-33-5-35 15-19-3-34-13-19 7-41 5-36 9-34 4-33 23-25-12-24 20-31 16-63 0-16 5-34 3 27-8 48 8 11 9 35 4 46 1 6 14 34 4 46-8 17 5 19-5 45-3 23 20 48-2 27-7 26 13 29 1 33 9 25-11 26 22 47-11 15 11 62-3 24 7 35 6 23 9 35 12-35 17-37 13-26 1-35 5-14-9-50 10-14-8-46 19-36-18-37 15-1 8-61-7-1 10-32 3-27-4-57 8-31-7-21 4-48 0-25 5-25-9-31 7-24-3-30 12-43-1-13 9-35-16-45 8-29 5-30 12-27 1-22-12-23 9-25 11-36 1-38-4-27 7-29 26-38 5-37 11-25 5 38-5 39 1 17 9 30-8 32 17 12-12 54 13 30 0 30 3 25-7 22 9 32 7 28 2-31 11-17 4-31-9-36 12-49-3-8 10-44 8-30-2-18 2-31 13-37 1-25-1 25 10 41 7 16-11 33 17 36-3 44 14 30-5 8 15 20 3 51-8 25 5 28 6 33 20 25 14 31 14 41 2-41 1-39 9-17 8-49-20 1 8-45 10-30 4-34-6-37 7-34 8 37 7 10-15 29 14 55 5 36 10 10-11 20 9 61 10 1 0 58-3 8 8 49 1 19 2 31-3 36 7 28 9 32 0-34 9-43 5-21 14-42-13-20 14-32 4-35 5 25-4 35 25 55-15 30 6 30 19 24-7 33 3 35 10 23 7 34-1 34 3 20-2 35 10 46 10 15 3 45 1 26-2 39 0-26-5-24 18-50-8-32 0-35 10-33-1-33-19-24 22-18 2-50-10-16-5-20-2-35 17-30-14-24-2-57 9-13 1-58 13 3-10-36 9-60-11-1-2-38 5-29 3-40 2 25-1 20-6 43 20 40 2 20 0 53 7 7-6 31-3 33 4 45-2 7-1 58 4 7 18 24-7 62-10 1 15 60-3 20 6 28 1-31 8-36 13-14 8-38-7-43 10-48-1-25 5-32 12-25 4 35-2 28 7 27 3 13 11 35-3 53-5 23 14 23 13 40-12 42 1-1 11 34 8 37-2 33"/>
<path stroke="#BBBDC0" d="M18586 15258l7-24 2-48-8-13 13-56-14 0 0-39 7-32 14-33-10-40 6-23 0-33-1-31 3-39-7-20-1-30 17-22-12-46 17-33 2-36-2-36-4-4-2-37 10-17-17-48-2-36 3-39 12-33-10-34 13-17-3-26 32-33 2-30 17-30 2-36 8-37 4-29 8 33 9 40 3 17-3 37 5 5 12 35-6 39-5 35 16 38 4 11 2 45 4 22 4-24-10-30 8-49 6-30-2-29 7-29 16-36-11-32 11-24 4-30-5-21 0-16 15-48 3-18 2-39 3 29-4 28 16 38-9 41 0 11 18 50-5-2 5 45-10 28 24 19-15 35 18 35 0 44-7 22 8 32 0-26 9-41 13-15-13-57 10-23 8-27 17-23 4-33-13-33 3-30 9-27 9-38 5 43 4 19 12 53 11 31 5 34-1 13-7 27 18 33-4 26-10 52-1 11 18 38-20 46 25 24-22 26 15 24-4 48 5 28-1 24 22 33 11 32 11 26 0 45 15 25-6 48 6 3 5 40 10 52-3 18 11 35 8-27 6-42 9-16 0-43 0-47-10-37 10-15 9-32 7 31 4 39 6 13-9 54-2 22 4 11-3 38-2 49 10 7 13 22 1 47-14 28 23 18-15 35 9 37 0 36 7-34 9-42-14-34-2-25 15-17 6-43 0-3-4-58-1-4 13-48 0-46-4-8 3-38 18-42-8-10 9-29 7-40-11-33 6-31 7 25-8 25 16 27-16 49 16 24 3 41-7 8 9 50 8 33-19 13 8 49 2 13-2 32 10 47 10 8-6 54 2 22 2-37 9-12-11-56 10-20-1-40 11 1 7-54 14-30-16-36 1-1 16-28 3-55 3-22 2 28-4 18 16 59 8 8-5 31 9 54-17 5 23 59 2-3-3 56 3 23 7 13-2 63 3 9-7 49 13 25 1 23 11-27 8-22 3-44 4-16-5-30 14-44 1-11-3-61 16-27 14-1-5-48 7-27 4 38 3 38-6 15 10 41-5 17 13 42-6 16-3 25-1 30 1 50 10 39 2 13-3 48-7 7 12 30 1 31 7 57-3 22 3 26 3 25 5 50 11 25 23 32-2 31 9 32 6 32 3 17 15 52 2 34-12 18 13 22 9 42-1 47-3 10 11 22-1 41 7 36 8-29 4-28-9-41 18-23-6-38 10-38 1-14-1-21-3-48 1-26 13-28-9-35 5-37-2-27 0-40 12-36 7-12 4-36 4-21-4-33-4-33 3-46 11-2-1-58 7-29 1-14 1-35-1 27 5 40 8 41 1 30-7 6 20 50-11 4-1 43-3 38 24 21-11 28 4 43 0 10-3 62 16 2-2 49 4 26 3-30 18-40-9-40 11-21 1-39 5-23 3-35 7 35-13 12 10 33-3 30 18 28 1 43 1 30-10 28 18 44-4 17 5 21-5 38 1 47 0 15 6 34 5 29 13 34-17 26 10 38-2 51 14 24 5 24 5 34 1 39-3 26 6 25-1 56 9 23 13 40-4 17 13 35-8 28 6 35 6 29-1 45 6 26 0 45-6 8-1 47-3 35 2 7 13 38 1 27-10 42 11 34 7 46-14 22 6 26 18 28 4 39 20 26 6 37 4 39 3 41 11 35 2 9 17 49 5 13 1 45 6 28 32 17 26 0 5-29 3-29 4-39-3-28-13-36 7-34-5-14 8-43-2-33 15-26 2-31 6-34-19-50 21-13-7-27 5-45-8-25 4-33 5 33 6 49 21 22 5 30-5 22 8 40 9 32 7 25 29 28-3 47 16 30 1-27-11-52 10-4-3-43 15-20-6-53-7-29 8-2-4-41 14-41 2-41 6-33-14-32-2-30 9-23 11-22-20-18 0-43 10-37 3-26 5-39 3-23 8-24-10-30 13-44-4-36 10-16 12-29-5-55 9-38-4-19 25-17-11-51 8-23 1-37 21-30-10-8 12-40-6-49 11-20 11-19 9-39-8-35 24-22 0-26 9-35 5-44 10-23 7-15-7-38 24-42-11-30 11-33 0-36 17-41-16-20 2-40 4-19 12-15-4-64 13-10 4-25-20-37 11-33-5-52 13-15 2-31 10 26 3 37 2 33 11 27-3 16-1 47 15 25 9 31 3 34 2 32 16 30-15 42 23 33-4 37 4 30-3 25 9 31 0 28 4 33-5 25 3 40 4 12 21 43-14 27 20 46-1 9-8 33 7 45 5 36-3 13 17 44-4 16-1 35 4 34 7-36 1-24 4-47 5 2 5-60 1-21 2-24 11-43 3-17 4-23 4-50-11-22 6-24 3 32-7 33 16 33-9 13 12 24-6 32 19 60-1 25 5 12 3 37 3 34-15 36 17 27-1 24-3 34 7 13 9 52-8 29 5 14 3 56 2 20 1 31 11 28 19 38 19 31 9-30 6-39 20-32 14-29 8-25-15-53 15-8 8-38 8-41-20-19 7-11 16-33-15-62 8-26 8-24 4-23 13 32 3 21 8 50 16 31 21 17 12 25 8 36 28 24 21 36 28 13 21 24 1-23-3-50 7-23 7-19 9-46-8-10-5-26 7-33 3-22 4-38 14-54-5-20 1-26 7-26-4-55 16-28 10-31-5-37 17 0 5-51 3-31 6-25 5-31 3-54 14-18 8-33-9-39 5-28 16-35-7-21 7-41-2 30 17 44-16 8 13 34 2 39-3 44-1 24 10 35 1 9 8 54 17 8-11 38 1 38-3 7 14 38 2 37 9-30 4-29 3-39 2-24 5-49 1-23 1-3-6-47 10-34-7-45 17-30-4-8 7-22-7-35 5-40 14-44-3-14-2-36 4-27 13-34-2-24 3-44-6-33 6-28 11-21 3-33 4 35-2 17 20 37-18 18 24 49-10 29 16 46-3 21 2 24 3-32-6-28 15-36-9-51 9-11 0-24 14-56 3-29 3-25 1 30 10 21 20 41-16 25 22 32 14 38 5 3 0 36-6 32 10 43 12 24 1-30 0-22 11-39-13-16 11-41 1-42 6-43-12 3 18-55-20-33 21-14-20-47 21-22-16-43 22-17-7-41-4-25 12-32-12-25 6-33 7-26 12-18-1-54 1-21 5-27 8-37-1-15 2-45 6-33 4 23 15 31-14 29 16 41-4 33 6 26 18 44-4 19 5 30 12 33-7 15 21 43 8 49 3 16 12 39-5 22 11 44 8 12 2 59-20 11 2 36 1 28 22 45-10 40-8-1 16 41-4 25 10 26 0 44-1 31-2 26-4 48 7 31 4 31 2 10 3 60-8 23 1 17 5 38 7 31-1 14 12 28-1 52-15 28 7 39 13 34 1 0-10 37 13 47-10 42-1 4 12 57-3-4 2 53 7 25 7 25 9 54 5 13-6 40 7 11 26 57-4 22 1 33 14 40 7 21 13 27 2 36-3 33 5 14-1 43 5 21 0 45-2 21-7 46 1 22 7 40 10 24-12 24-3 36 11 34 0 17-2 30 14 40-4 25-3 37 7 28 8 29 19 23 2 45 3 21 8-30 7-32 5-23 3-50-3-23 3-37-3-29 2-31 22-34-8-12 5-43 1-30 6-34 9-25-5-24-9-43 20-41-4-3-4-40 1-13 15-37 10-26-6-58-12-11 4-21 9-35 7-27-8-53 19-19-3-31 3-24 4-18-4-36 7-40 4-47 24-9-3-34-6-38 24-16 0-45 9-26 5-38-11-16 13-19-9-51 27-39 4-28-6-26-6-11 9-38 3-20 25-29-2-31 8-25-12-62 19-11 1-35 9-31 9-39-12-31 8-21 15-55-8-30 0-37 7-14 2-26 9-40 1-24 18-36 2-27-6-40 1-22 19-57-11-15 8-39 1-30 22-46 7-25 3-44 3-10 6-40 19 31 30 34 10 28 0 48 19 23 3 31-1 29-5 14-1 53 18 34 2 15-12 32 3 29 6 21-5 47 15 44-3 23 5 8-17 57 2 25-4 27 3 11 1 44 1 39 19 30-10 12-4 40 17 37-14 8 3 42 9 49-7 20 5 15 6 59-3 6-3 39-3 30 9 35-8 30 2 12 3 43 6 29-4 28 8 57 3 18-4 25 14 30-8 40-8 11 14 41 6 28-19 25 21 39-9 48-4 13 8 41-2 39-2 2 3 54 9 17-11 55 13 6-2 46 4 24 5-22 14-37-7-34 1-17 21-31 2-29-14-38 27-47-14-30 21-15-13-28 3-26 4-24 21-38-2-51 7-4-8-35 16-40-3-40 10-16 7-37 5-27 4-41 6-15-14-49 11-20-1-27 8-43-7-20 4-24 17-31-1-50-7-15-5-25 3-46 4-47 5-5 8-37 3-18 7-54-1-23 6-25-3-41-10-16 5-57 16-20-18-22 17-37-13-35 19-26-7-35 1-11-10-28 0-45 19-22-6-48 11-19-9-13 10-42-6-28 7-51-6-17 7-43-14-7 10-25-7-36-1-31 17-31-5-25-10-62-1-4 17-36-4-36-3-37-3-39 17-24 4-11-5-53-5-17 20-26-16-34 20-47-6-31-10-28 13-23-10-56 19-1-8-52 5-24-2 24 13 43-12 42-4 20 11 13-7 56 14 19-4 18 9 44-14 30-5 17 17 31 1 45 2 24 1 53-6-3-8 53 8 32 12 25-15 14 7 38-8 42 0 37 5 9-5 34 2 58 5 4 10 35-4 36 1 27 2 33 9 46-14 16-8 42 5 33 13 33-4 22 0 22 2 15 5 36 0 35-8 27 1 24 5 46 7 12-17 49 14 19 2 24-16 42 13 44-1 3 3 33-18 51 5 11-4 34 10 57-9 0 11 54-9 31-1 24 13 38 0 9 3 28-3 51-13 34 15 13-11 36 11 13 3 57 2 9 6 59-4 16-18 24 12 22-11 28 17 34-11 50 5 13 7 48-19 29 15 23 8 40-15 24 1 33-1 39 10 9-13 48 2 27 8 26 5 26-1 13-15 39 10 41 0 19 3 39 5 32-1 30 1 21 4 37-6 35-3 34-3 30-7 27 5 26-1 36 8 13-6 24 12 48-2 20-4 36-11 31 6 18 12 35-13 36 10 37-1 26 10 25-22 46 16 33-2 33-6 11 11 28-15 50-2 19 22 26-22 46 19 16-17 29 16 24-6 30-10 42 12 12-14 26 2 35 16 60-12 28 4 7 3 50 7 11-19 35 2 34 15 19 6 51-16 33 3 29 9 33 0 20-4 26-11 43 19-3-14 49-2 18 15 46-16 20 13 49-15 22 7 36 0 35-8 10 12 50-7 8 15 27 1 30-10 54-2 28 5 12-10 20 17 50-6 43 1 22-2 21-2-29 7-27-6-27 10-39-1-31 7-22-10-34-1-49 13-12-7-23 16-25-1-52 7-11 3-60 2-9-9-18-4-48 22-28-8-27-4-51 4-18 4-25-3 36 11 20 5 42-17 8 20 39-12 53 12 32-10 4-1 31-3 33 2 54 2-2 14 47-3 18 7 24-9 61 4 10-2 40 8 28-12 40 1 27 8 19-6 41 9 37 0 14-8 49 17 4 0 41-9 25 6 37 3 33-2 29-3 39-4 13 10 50 13 15-9 34-4 19 3 55 1 28 3 12 5 38-6 53 11 13-10 17 5 40-1 43 17 27-18 49 1 27 19 4-3 60-9 15 16 35-4 28 32 16-2-35 8-12 2-61-10-9 2-52 5 4-3-35-8-53 6-23 15-18-13-36 4-43 8-39-13-11 11-39 3-26 0-21 6-37-15-26 10-22-7-54 7-35 2-6-11-32-4-47 17-18 4-18 3-39-5-44-5-26-10-37 11-10-3-53 5-26 9-24-17-48 13-15-6-36 4-23 2 24 12 33-1 42 1 37-13 8 10 54 10 6-4 61 11-1-8 54 7 20 5 34 0 22 2 45-1 19 7 34-9 47-1 11-5 49 9 28 3 23 5 32 33-16-3-33 1-34-2-30 10-38-6-20 12-27 0-12-11-57-7-24-1-12 4-63 12-23-5-19 12-35-18-12 8-43-7-48-3 0 9-36-8-41 12-33-12-11 9-50 11-30 0-44-18-29 21-22-1-16-15-26 14-46-16-21 1-48 1-29 1-4-3-55 5-31 3-21 9-35-1-37-2-11 3-32-1-48-13-11 9-37 8-28-16-46 16-10-5-30 3-41 7-11-1-42-2-30-1-36-4-31 5-12 7-29-9-59 5-25 2-26 5-20-16-21-4-60 14-31-7-7 3-55-10-15 20-39-7-31-6-16 14-52 2-24 2-38-1-7-8-51 7-24-9-24 3-28 8-39-5-35-14-32 14-10-2-35 4-33 6-12 1-59-6-1 2-60 2-32 8-27-5-36-18-27 4-2 15-62-5-17 9-24 1-28-12-21 13-37-2-44-6-14 2-38-4-24 4-35-6-21 19-61-5-7-14-24 13-41-9-15 15-40-11-40-5-37 1-28 9-7 1-44-1-29 10-28-19-48 4-6 7-49-3-34 4-24 9-13-1-31-7-61 12-10-14-31 7-43 0-14-5-23 7-51-4-26 6-29-4 29 5 37 1 40-5 24 9 30 8 17-14 43 14 23 3 37-13 25-3 15-3 29 21 57-12 24-4 43 12 29-4 10-5 23 6 44 0 36 4 32 1 11-9 55 3 32 3 10 2 43-10 20 14 51-4 13 4 48-9 5 8 36-10 41 2 18 6 37 12 27-4 38-2 28 7 13-9 47 8 19-8 55-1 27 11 4-8 33 8 48 4 28-13 30 0 35-3 12 17 56-5 10-1 36 2 32 33-16 4-34 4-38-14-36 10-19 10-19-17-27 22-32 0-29-8-50-6-29 10-26-6-17 5-37 12-49-10-26 0-6 7-47 6-21-1-21-3-43-6-50 19-12-13-38 7-24 7 26-7 43 10 43 9 25-5 25 5 21 9 52 4 24-2 38 6 9 1 37 3 47-8 29 3 43 6 4 10 28 5 53-14 43 5 22 6 43-5-4-5 55 6 30 3 33 3 26 5-25 7-25-7-32-1-59 16-15-3-33 1-46-1-21 1-41 12-6-1-35 13-33 2-30-19-55 16-16 1-31 4 24-10 53 16 14-9 29 5 39 7 20-4 18 7 48 0 15-1 58 20 4-12 50 17 18-9 27 2 37 49-32 3-36-1-28-13-24 14-33 7-28-17-45 12-25 3-26-2-11-2-51-2-42-4-1 11-40-7-45-8-25 9-20-3-28-5-26 12-41 6-36-5-15 8-35-19-43 15-3-13-61 5-33 9 0 4-50-9-42-7-6 10-21-10-41-1-47 19-6-17-41 5-28 3-47-3-17 17-32-3-39-17-28 18-23-1-15 3-26 1-31-4-40-5-37 0-38 15-43-3-7-5-56 8-18-8-32 10-49-5-24 3-30 1-28 1-27 0-39-11-17 15-30 6-43-3-20-6-49 7-27 3-25 0-36-8-20 4-22-1-34-2-55 13-30 0-30-11-12 15-26-15-53 5-24 4-30 3-30 15-42-5-16-9-49 2-17 16-36 0-9 3-58 8-13-8-21 9-36-3-27 16-33-6-35 8-33 3-25-5-29 17-48-16-28 11-9-2-33 3-27-3-32-8-53 7-9 17-29 0-55 3-24-10-13 9-30-12-27 7-35-7-22 3-59 10-12 6-25 0-33-2-25 8-31-5-44-7-38 5-27 0-22 0-39 13-19 4-20 11-38-9-30 11-26 6-39-6-25 1-45 8-27 7 39-3 38 14 33 8 36 0 29 21 31-4 37 2 40 7 25-2 40-5 12 12 51 5 38-2 32 9 11-7 46 10 32 6 33-3 30 7 28 3 47 2 6-6 24 4 54-4 36-8 30 19 20-16 23 6 40 1 38 7 31-2 28 2 11 3 19 8 41-16 51-1 19 10 41 12 32 1 4 2 54-11 1 13 49 0 28-2 11 1 31-16 41 7 27-4 49 16 4-11 57 11 6 4 46-3 35 5 38-5 22 2 38-2 12-6 20 3 35 6 39-3-30 15-46-4-3 4-27-17-53 7-12 7-24 1-32-1-60-5-16 16-42-1-29-11-37 6-27-1-15 17-45-10-23 12-14-4-48 3-8-14-47 17-23 6-37-9-38 3-35-5-29 11-3-1-33-11-45 6-30 5-31 4 26 7 52-14 7-1 45 4 9 12 32-7 47 3 26 2 28-5 38 7 28-7 26 14 13-12 43 4 26 3 28 6 21 0 59 10 9-17 34 14 42 2 36 0 27 0 9-7 52-6 16 9 29 1 37 6-34-1-23-10-25 3-59 22 0 2-43-7-21 5-38-6-52-3-14 0-20 7-56 10-36 5-31 0-25-18-25 12-25-6-51 7-22-2-32 7-15 11-52-1-17-4-31 1 36 4 39-7 10 3 53 16 27-1 14-5 52 3-1-9 35 11 33 8 29-11 45 0 9 8 43-9 37 17 44-7 15 0 37-4 5 0 60 15 7 5 36-21 51 8 25-3 38-1 5 23 55-11 21-6 23 13 17 2 38-3 36 6-38-10-30 3-31 2-10-9-45 8-14-2-42 5-32-3-30 16-32-14-30-5-17 7-35-4-44 13-14 0-44 1-32 3-32-10-40 13-15-7-26 3-16 0-53-10-40-2-19 5-16-7-39 18-34 2-21 3-24 0-48-10-15-9-49 2-35 12-20 1-29-15-17 14-38-10-18 8-43 8-34-4-34-5-39 7 0-8-58 14-2-8-40 10-51-3-3 1-28 2-50 0-20-15-42-2-30 1-8 9-40 1-35 3-36-3-41 19-13 1-40 0-21-9-25 11-43-10-19 11-36 6-21 1-47 3-22 4 37 0 20-1 39 19 31-7 10-2 37 6 39 9 15-3 60 13 11-3 41-3 24-3 41-1 31 2 14 6 46 6 20 21 49-3 39-2 28 7 24 0 33 2 37 9 11-11 41 15 29-9 28 16 28-16 45 18 48-18 19 13 25-4 42 16 17-2 42-3 26 0-35-1-37 0-31-4-5 19-44-14-28 12-51-14 0 18-44-11-43 14-16-22-54 21-9 3-52-14-5 0-37 8-49 1-18 3-40 2-12 2-33-17-35 18-30 5-27-22-33 2-52 22-30-19 3 10-38-2-50 2-23 23-30 26-35 32-48 5 34-2 12 14 44-6 19-12 53-1 38 23 31-8 32 7 5-14 38 2 42 6 44 6 7 4 44-13 40 22 33-12 23 5 29-2 25 13 43-10 33 11 32 2 11-6 33 1 22 0 61 16 18-7 29 1 40 0 33 11 32-3 36-6 13-1 18 12 54 9 34-12 16 4 34 2 31-3 47 11 1-9 47 7 8-9 37 20 23 6 29-16 31 13 28 7 34-13 43 7 30 4-33-1-36 6-13-7-49 18-2-17-50 9-40 5-24 5-7 7-30-9-59-5-31 13-13 4-44 5-10-7-32-10-37 4-29 2-22 22-20-9-41-4-31 16-21-9-40 4-33 2-32 8 25-11 49 14 15-7 30 5 35 5 27-11 36 11 42-3 1 16 32-6 36 2 33 0 36 12 37-7 25 5 28 11 39 10 15-1 32 2 47 15 28 2 34 4 23 10 49 6 21-10 26 17 29 0 47-5 22-6 39 2 16 14 42 3 17 3 50 4 25 6-36 4-12 7-38 13-39-12-25 1-30 17-32 9-53 3-35 1-25 21 29 27 20 4 26-7 52 14 19-15 34 5 38 5 14 3 26 0 22 1 64 18 18-15 30 18 25-12 29 2 32-1 52 13 19-6 29 7 39-11 16 10 35 4 30 6 26 11 30 6 38 1 43 2 29-10 10 2 53 12 15 7 39 5 10-9 31 22 58 8 2-9 59 2 6 9 38 14 25 1 49 17 40-2 20 17 41 8 18 10 35 25-14 24-26 16-25 6-37-7-36 6-11 6-54 7-9-16-29 17-26-16-48 24-13-14-46 3-10 1-54 0-23 11-48-3-26 11-24-4-26 11-41 17-13 3-36 8-40 5-33 14-30 2-22 1-31-9-61 20-12-2-48-6-39 15-13 3-35 3-33 5-18 10-48 9-17-7-36-3-48 8-23 7-37 0-22 9-33 6-27-5-46-6-29 21-10 2-59-18-20 11-25 7-25-10-39 10-27 6-28 6-36 4-26-10-33 15-28 4-47 3-31 10-19 0-40 13 33-4 30 19 46 3 13 11 41 9 28-14 52 5 34 7 8 15 25 7 57-9 21 3 35 6 39 11 29-16 40 1 6 8 33 0 60 1 17 3 33 12 39 6 28 12 31-4 27 9 49 9 6 11 66-2 27 9 28 5 26 3 24-5 46 14 44 12 19-15 38 14 41-4 15 3 21 11 51 0 26 2 27 11 47 4 11-5 59 5 25 13 30 2 28 12-41 17-37 21-31 2-14 13-39-1-29 19-39-8-25 11-22-10-32 1-38 9-16 15-36 2-41-18-30 5-37 18-15-9-22 1-27 15-47-1-31 3-38 7-34 11-15 4-58 7-26-1-14 18-50-2-17 1-41-1-38 2-9-6-32 21-38-5-44-6-24 3-27 7-26 7-24 8-31 1-56-9-12 8-49-2-7 5-37-1-23 3-32 17-37-11-21 19-26 2-51 8-10-2-49-1-23-1-35 9-18 7-32 32-49 4 37-9 39 17 20-10 26 0 20 14 29-12 44 6 17-4 49 8 39-1 17 7 11-10 49-3 15 16 58-16 9 14 44 4 38-16 15 20 15-19 52 16 18-3 37-3 35 15 29-10 37 14 11 11 62-16 24 15 36 0 26-4 26 15 18-8 46 10 42-12 36 4 8 0 38 0 15 19 34 3 43-9 26-1 49 9 0 9 61 0 23-8 15 5 39-2 24 13 37 0 30-18 40 20 17-1 34-7 21 6 30 1 53-14 15 4 33 9 34 1 40-7 17 15 21 0 41-1 28-3 37 9-38 14-16-11-50 22-38-5-7 14-48 6-30 7-32 10-35-13-29 17-29-4-10 13-52-6-23 15-29-11-34 1-19 9-39 22-33 1-42-3-14-1-36 8-31 9 25 9 34 9 44-1 11-8 30 23 35-11 10 27 62-12 13 15 25 5 36 15 32 6 31 20 26 8 40 16-23 16-41 22-17 11-32 33-32 15-17 5-33 8-14 14-49 8-40 0-38 4-15 10-38 10-39 9-12-12-58 9-16 3-32 17-30 9-40 4-33 8-40 20-39 5-8 7-34 9-41 2-40 5-5-5-36 0-51 12-31-12-28 14-14-14-33 22-42-2-22-16-29 15-46-4-18 3-35-5-24 13-27 6-40 0-44-12-10 16-48-6-24 0-35 28 34 21 31 11 27 2 23 9 31 12 47-12 16 17 51 14-4 1 39 2 34 0 37 9 24 13 40 2 29 35 45 4 17 11 31 3 27 12 26 9 52 1 18 14 39 1 33 6 44-4-1 6 35-11 32 15 43 3 14 2 31-6 61 11 1-5 39 2 30 2 35-6 48-3 10 7 49 8 5-3 42 0 34 49 0-2-39-4-16-1-52 12-10-2-57 7-28-10-34 4-24 9-26 12-45-11-6 8-35 5-38 0-45-3-20-1-29 4 26-3 31 20 48-4 36-3 9 13 40 0 16 4 42 8 49-13 4 4 41 13 39-1 25 10 25 8 34-3 48 7 36 1 12 0 48 0 21 10 36 3 34 4 38 0 33 18 9 1 63-13 21 12 32 0 22 7 40 6 37-9 45 9 27 17 5 9 46-4 47 3 19 2 34-1 22-1 35 10 38 8 19-7 44 7 26 3 39 0 35 15 7-18 53 15 24 2 37-1 32 3 30 4 29-10 21 15 45 0 20-2 27-1 36 21 50-18 14 4 32 21 15-7 45 2 26 43-32-4 38 13 30-5 21-6 40 1 9 9 42 3 47-4 6 2 61 13 7-2 51-5-1-7 39 14 31-7 43 5 41 9 32-10 15 3 32 7 37-14 40 12 31-12 2 21 50-20 8 0 58 11 10 3 29 0 54 12 5-12 48 11 43-8-2 4 35 9 46-18 39 1 12 16 51 1 30-11 17 9 43 4 35-5 26 1 18-4 35 8 24-3 37 9-27-4-34 17-20 0-27-15-30 16-39-1-59 8-10-6-44 11-32-2-24 9-28 6 36 1 18 2 23 8 55 5 9 0 64 3 26-8 31 9 24 0 45 7 7-1 42-6 12 5 48 2 31 13-27 9-25 4-53 8-4 8-37 3-27 3-45-13-31 22-4-5-44-13-44 16-39-10-16 15-25-6-25 7-40-4-21-6-28 18-40-1-40-7-17 3-57-8-11-2-33 14-26-3-37-2-25 11-23 6-63 6-33-4-7-9-58 7-12 3-31 15-45-1-27 5-30 6-18-16-43 1-38 10-36-7-27 9-40-2-5 13-44-8-38 13-2-2-34-7-33 13-35-3-51-8-27 13-14 3-37-1 25 4 47-10 13 10 58 16 18-12 29 6 33 0 27 9 40 7 29 0 42-14 4-2 30 11 29 3 32-8 36 6 51 7 25 7-37 4-12-6-48 4-19-5-38 9-38-12-35 7 1 8-51-10-25 2-44 6-10 7-36-2-30 2-51 7-29-7-29 2-26 12-27-9-26 12-26-5-30 0-32 48-33 11 30 4 45 0 21 16 18-9 47 11 34 15-26 18-44 12-24 20-36 8-25 5-30 6-37-1-48 5-18 15-42-4-37 7-35 4-20 3-32-2-35 7-44-1-13-3-40 16-21-2-19-13-44 9-41-1-34 1-15-3-30 11-26-2-45 3-23 14-39-19-31 6-14 17-41-18-11 15-47-2-26-1 34 17 37 5 18 3 54-15 12 14 50 4 20 5 35 1 37 10 43 8 9 11 27-5 46-1 21 21 36-13 40 11 22 4-39-3-9 7-59-8-1 6-40 1-37 9-29 6-35 5-26-10-44 5-32 9-17 9-55-14-28 8-21-1-25-8-42 11-38 3-29 1-33 22-36-7-23 6-28 12-32 5-27-3 31 19 42-10 29 3 34 4 20 10 48-10 28 9 14-5 33 20 50-14 10 18 30 1 37 6-32 19-51 4-29 0-12 14-25-2-51 7-27 7-23-9-53 9-11 7-47-9-13 3-20 12-57-1 2 3-30 12-44 5-40-10-27 4-27-1-32 11-17 3-52-5-25 11-43-15-15 17-41-6-13 13-44-8-18 8-20-11-53 7-6 9-49-1-26 20 33 13 32 32-33-3 37 2 37 6 18-2 20-1 53 16 36-8 29 7 30 7 24 15 39-3 35 13 32 5 34-10 21 13 61 2 30"/>
<path stroke="#DCC190" d="M1556 17683l-4 24 14 22 6 36-22 39 7 12 5 51 0 48 5 24 3 5 6 53 3 26 0 34-10 12 1 46 21 26 0 18-16 55 16 36-17 20 3 39 10 28 7 44-9 31-4 25-5 24 23 23-14 43 13 25-12 22-9 31 9 37-8 21 4 26 25 49-9 13-15 16 13 72 6-3 8 31-26 43 12 11 14 41-14 19-10 71 27 16-25 9 3 25 19 50-20 22 12 42 3 14 8 29-9 58-9-1 25 61-21 29-2 37-1 0 5 53 19 14-6 39-3 33 0-26-6-25 4-54 9-15-16-11 21-52 2-16-21-61 14-14 6-42-14-20 24-46 0-5-16-52 3-15-10-32 25-6-5-55 5-45-3-1-15-45 8-11 6-55 7-19 0-36-12-31-4-11 15-46-1-18 11-54-24 3 25-37-11-20 11-68-5 1-11-30 19-44-13-26 12-27-1-37-6-30 21-40 27-25 4 32 1 51 8 20-5 9-3 33 0 60 4 23 2 14 8 40-13 21 9 50-15-4 17 39-13 57 13-1 10 42-24 13 5 68 15 25 1 30-9 16 5 44-2 32-3 18 10 14-11 55 3 22 21 38-6 30-10 12 1 30-1 46 11 35 0 25 2 22-1 33-5 57 4 20 1 20 3 49 15 27 11 7-14 41 10 45-3 10 11 22-7 27 4 43-8 40 9 24 9-32-18-10 11-45-7-33 24-45-10-1-6-52 0-36 24-44-4-8 9-23-1-36 7-29-16-62 14-10 9-47-16-8 4-44 4-32 14-5-14-61-5-23 22-31-5-30-3 24 1 54 11 30 6 7-3 61 5 24-16 10 10 25 6 60-5-4 2 69-10 23 10 5 15 47 0 14-17 43 16 18 1 34-17 30 15 66 14-1-16 51 9 26-7 24 5 40-3-21 14-25-19-49 18-11-6-41 6-26 12-31-2-39-6-18-13-57 16-21-15-30 10-31-2-27 4-39 2-20 12-28-10-32-3-32 1-25 6-16-8-26 23-40-23-32 8-26 1-41 16-38-11-35 5-20 3 25-5 43 18 15-8 37 15 10-13 51-3 43 18 19-9 25-4 48 5 37-1 19 4 22 13 41-1 20-4 28-3 31 15 50 10 35-10 33 16 38-12-5 6 42-2 40-3 25 6 50-9 17 20 41-10 15-5 20 11 41 14 47-12 13 0 50 10 3-8 37 5 51 2 11-3 31 9 42 4 12 4 60-9-4 16 57-17 33 5 2 11 52-17 7 12 47 3 35 2-20-11-52 3-38 16 5-1-43 5-53-7-17 12-44-9 1 15-52-10-15 13-34-13-24 15-46 3-15-17-23 12-61 5-36-1-25 13-39 0 10-6-38 4-34-6-37 6-33 2 34-3 20 19 39-2 50 5 23-11 5-5 33 5 40-2 40 4 7 0 24 21 53 3 48-16 20 15 25-10 38 7 21-4-26 5-41-9-14 7-21 20-43-11-26 8-36 8-32-5-48-10-15 18-29 4-32-2-59-16-21 3-39 2-25-2-27 17-10-7-41 7-32-1-28-5-15 7-56 4-30 10-26-17-27 0-8-2-40 7-46 13-41-1-17 9-23-22-41 2-17 15-22 2-56-13-29 7-26-1-37-4-23 16-8 9-61-15-33 20-11-20-55 19-3-20-55 12-22 1-21 4 30 0 22 0 19 2 47 5 36 7 32-5 39 4-1-14 69-3-5 8 55-10 5 3 58-1 11 3 25 16 54 2 36 4 17-25 45 1 24 6 31 10 11-15 57 24 31 1 30-3 14-8 28-9 11 7 30 3 49-5 44 3 37 7 19-8 12 11 56 10 3 4 41-11 32 1 43-15 15 16 19-2 49-1 32 1 47 16-4-20 51 10 20-1 35 7-41 2-34-19-2 6-52 1-3 19-47-4-20 3-41-7-54-4-7-4-39 12-27 0-35 4-13-20-51 19-7-14-43 6-21 16-23-5-65-11-3 20-44 0-20-15-25 6-54-2-37 1-7 1-50 4-2-15-55 15-25 3-36-3-15-11-57 22 7 2-52-23-18-1-33 6-61-4-16 8-34 1 0 8-69 2-7-16-16 3-38 24-56-2-2-20-26 7-43 4-39 5-26-3-50 21-21-10-55-6 0 5-31 18-34 2-43 4 27-14 20 2 54-1 16 24 13-13 36 2 59-3 2 16 43 2 46-11 0-4 49-8 24 20 34 7 45-14 24 12-3-14 50 8 15 2 26-15 38 14 26 1 28 8 38-19 52 0 27 15 17-1 24 10 58-5 10-5 50-11 14 15 32-5 46-7 2-3 56 10 25 16-4-18 58 8 14-3 57-8 29 7 33 17 9 4 38-4 24-12 22 12 22 0 57-1 10-1 29-10 39 7 31 6-33-9-49 18-5-11-36-14-19 14-50-11-8 22-61-15-15 16-41-20-23 24-24-18-52 16 5-14-30 7-47-6-37 7-10 10-41-8-23 6-55-9-34 4 0-6-27 10-64-8 1-3-54 18-23 5-47-9 5 4-45-6-26 3-39 4-29-15-48 0-5 25-50-22-34 24 4-21-65 12-20 10-37 3-43-9 5-8-47 0-10 6-33 2-33 0-55 7-33-7-2 14-27-10-66-14-36 14 10 6-60-12-25-4-8 17-72-16 4 1-51 5-13 4-30 18-63-8-31-11-29-1-32 22-4-12-45 2-23 4 24 10 31-9 17 6 65-7 31 7 21-2 34-3 41 3 0 17 65-14 32 1 5 14 48-7 35 4 26 11 45 9 25-6 24 4 10-15 22 5 34 24 60-15 24 7 28 1-39-5-29 14-10 3-64-4 7 2-46 7-35-19-41 14-33-4-29-5-39 6 6-3-50 11-13-7-40 6-27 12-46-12-20-2-40 25-23 1-49-23-35-1-27 20-20-4-37-1-24 22-54-16-12 7-32 8-19 24-41-6-45 7-27 4-39 3 27 11 48-10 38-6-6-2 27 21 30-25 69 7 7 2 20-8 38 6 37 21 40-6 15-12 28 5 26-9 60-1 19 2 18 4 32 1 38-3 21 6 45 2 23-4 21 1 44 18 7-6 63-2 11 2 12-10 69 3 14-5 19 7 37 9 37-1 46-9-5 6 65 5 2 13 56-24 1 0 39 5 28-4 28 20 31-4 46 5 30-6 30 3 43-14 25 20 18-5 26 9-38-12-15 15-30-11-42 18-16 3-55-2-20-8-33 1 1 25-40-11-59 3-12-10-41 8-6 19-36-11-43 11-39 2-12 0-33-3-24 9-42 8-27-8-22 13-55-11 2-7-42 9-42-9-4 3-59 16-23-12-2 7-60 9-41-11-6 7-52 11-13 0-12-17-40 12-47-8-37 0-33 10-22-6-13 4-21 11-55-5-19 8-40 5-24 11-26 9-40-5 41 2 2 0 60 18 36-16 2 3 33 10 24 16 40-11 53 15 4-7 43 4 31 9 17 1 30-16 37 21 30 7 40-15 22-5 56 24 41-15 9 8 31 0-30 9-24-11-46 16-6-4-46 17-42-1-21-16-36-1-19 17-56-7 6 8-45-2-50 19-23-3-5-10-52-1-41 4-21 0-53 7-22 9-19-1-31 8 35-9 9 5 46 2 40 27 8 2 31-9 45 1 29 21 19-13 39 11 19 3 37 9-38 1-15-15-18 21-70-3-34-3 7 13-68 4 8-1-44-11-37 5-24 15-52-3-38 2-21-2-37-5-30 26-35-5-1-11-57 9-18 2-27 3-33 5-30 10-34-24-25 6-41 24-7-13-27-6-41 14-58-7 6 16-58-11-40 5-30-8 7 16-68-7-7 7-45 3-21 8-34-7-48 5-25-4-24 8-3-8-54 14-22 5-50-16 5 9-42-14-33 10-25 19-25-20-24 20-39-13-36 10-42-11-14 8-39 11 31 10 50 8 5-12 33 19 51 6 25-4 33 2 18 5 31 3 58-16-5 12 43-10 19 0 51 13 37-7 7 7 48-8 4 17 42-12 28-5 50 9 10-5 31 12 44 10 42-6 2 7 36-5 23-10 68 11 30-3 23-5 13 17 20-22 58 15 4-15 63 7 1 3 59 15 6-21 18-3 46 11 31 4 33 3-31-10-18 7-21-12-41 18-43 5-37-2-22 6-28 1-37-7-13-14-36 7-17 7-68-2-14 12-43-26-34 25-29-23-31 6-18 8-37 0-25 8-25-14-22-4-52 10-26 7-11-16-30 9-15 16-44-24-51 25 3-9-51 2-13-15-30 19-63 5-7-9-30 9-43 2-22-21-24 19-35-22-17 25-37 0-41-4-25-12-41 4-23-3-22 2-40 25-47-6-35-3 1 8-59 5-26 5-46 8-5-7-52 5-26 5-41 2-9 4-52 7-11-14-22 14-59 0-1-5-65-8 1 3-27 14-48-6-46 8-30-5-22 0-18-6-49 6 4 2-52-12-21 1-57 13-32 4-27 8-33-2-19-3-37 3-18-15-23 13-50-1-6 2-39-4 21 18 38-3 48 6 33-12 31 12 34-19 15 9 45-12 2 28 36-26 37 20 39-18 11 4 36 17 53 2 14-12 21 11 37-4 34 6 25-15 32 9 24 11 54 10 4-13 47 0 8 1 62-3 8 7 62 17 11-20 49 23 13-5 14 2 54-10 33-1 44 10 18 10 8-5 50-2 29 5 28-9 21 17 39 5 54-11 20-7 29 23 8 8 57-5 25 5 8-9 54 4 8 12 35-5 48-10 28 0 45 24 19 1 47 8 34-13 1 6 41 6-27-11-28 10-45 4-30-5-32 14-4-13-48-8-29 0-13 23-38-19-44 18-28-18-11 25-41-14-31-1-50 15-29-14-23 10-27 1-34-6-17 0-53 9-29 2-16-14-28 14-53 0-14 6-44 0-18 1-27-1-50 7-21-3-27-6-30 9-24 4-51-10-4 16-26 6-36-12-45-2-30-5-36 25-6-8-61 13-33-15-17 3-8 3-51 18-34-15-26 6-19 13-55-4-29 6-5-2-37-4 33 20 11-6 41-10 48 14 35-13-6 27 30-10 31-6 44-1 35 19 12-4 30 14 44-12 40 9 8-5 28-9 36 16 45-6 27-3 14 4 37 6 37 9 38 5-29-3-36 4-13 5-47-3-46 17-6-8-43-6-38-2-19 16-34-4-36-12-4 3-61 22 4-14-69 12-31-16-16 12-45 16-25 4-15-2-24-2-59-5-9 18-35-13-26 9-31-5-35-2 22 4 48-10 15 25 21-1 68-13 16-6 6 16 66 1-3 7 62-13-2 7 40-2 36 6 30-1 45 10 1-11 51 3 39 4 24 13 36-15 27 10 47 0 25-5 19-6 16 12 30 6 51-6 25 0-27 14-37 5-41-11-34-1-3 14-40 7-21 0-27-6-51 6-50 4-8-12-38 3-25 4-32 1-48 21-24-16-7 24-35-5-33-3-36-4 28 18 22-4 34 6 50-1 7 3 64-12 18 7 9 14 39 3 51-6 11 5 29-7 43 1 45-7 17 22 31 0 34-2 23-4 29 6-38-8-23 13-13 11-66 3-22-7-17 2-50 11-33-10-2 10-40 13-35-24-26 21-36-13-15 19-36-14-28 17-50-1-22-4 28 6 48 0-3-2 64 14 7-5 38-13 37 6 19 1 50-6 12 8 41 9 41-2 11 4 38 15 1-25 47 9 36 2 14 18 62-7 33-17-4 12 35 0 47 0 22 11 39 5 11-10 44 7 28-4 31-2 38 12 12-2 37 9 17-4 31-2 31-2 50 5 15-12 28 22 32 4 69-9 6 5 28-4 37-3 24 0 53 21 3-10 56-2 28 7 22 0-38-9-4 28-36-7-60-11-29 12-32-8 1 15-30 4-52-21-29 7-27 6-45 18 7 1-58-5-37-14-24 19-11 4-36-3-46-14-15 6-53-3 9 24-30-6-43-8-23 22-33-14-31 5-39 4 33 11 37-14 19 6 31 16 27-6 32 6 69-6 9 18 27-2 40 5-30 4-43 2-6-13-45 5-35 10-20 9-60-13-32 10-1-8-60 13-18 8-6-22-52-1-21 17-30-6-59-6-1 13-47-5-31 9-41 16-17 1-32-14-30 5-29 1-30 24-22 6-50-1-13 4-46 8-28 2-36-3-46 11-24 6-30 4 36 3 20-14 35 19 31 6 32-5 42-4 26 0 28 3 19-10 31 18 52 7-1 0 36-3 45-11 7-6 46 28 42-7 27-14 28-2 10 9 37-6 47 2 31 15 36 7-9-5 49-1 29-1-42 1-23 15-22-11-25-1-24 5-62 7-6 0-55 2-33-9-31 6 6 11-29-23-43 1-24 25-52 1-31-7-40 0-25-6-28 9-3-15-66 26-27-9-6-5-32 14-39-22-26 18-37-6-44 8-18-2-23 2 26-5 20-1 33 17 50 1 26 2 37-16 32 4 23 5 29 2 16-2 25 11 59-20 22 25 44 0 33-23 28 16 2-13 44 2 14 24 53-23 14 7 50-5 16 1 27 14 59-1 32-9 8 9 47 3 22 4 44-5 9 7 21-5 67 9 20-4 20 1 25 12 43-2 42 14 32-12 22 25 34-2 40 11 29 1 25 10-22 6-36-1-16-1-33 2-65-5-28 20-28 4-15-4-46-9-31 7-23-1 1 6-73 18-19-3-20 6-39 20-46 5-32 2-18 16-28 0-34-7-33 23-42-11-8 23-28-18-46 18-17 0-54 8-22 3 1-14-57 16-42 5-14 8-51-12-4 7-36 4 31 27 20 10 47-6 41 13 24 7-37 2-28 7-43-16-28 4-3 7-61 7-11-22-20 7-62 0-1 16-43-12-25-10-40 17-40 7-36 1-23-20-8 3-41 11-42 0-25 39-9 26 9 1 43 15 37-2 19 0 42 6 28 9 17 3 46 1 30 0 30 3 36 0 21 10 38-3 4 8 38-4 29-4 31 12 65-18 13 25 37-19 17 17 45 5-2-12 45 15 34-3 29-3 31-12 41 3 14 7 60 3-7 11 51-4 4 0 58 0 32 19 30-2 2-12 51 7 30 5-29-12-20 5-31 2-59-1-17 11-7-5-29 11-47-2-27-16-24 8-32 0-57 10-9-10-17 23-49-5-28 3-37-10-28 3-38-9-29 24-1-22-44 17-45 6-31 1-6-6-40 9-53-15-11 7-32 5-25-11-19 23-46 0-24-3-34 4-44 7-20 2-59-1-7-12-21 19-42 0-33 28 3 36-3 8 23 0 44 9 33-17 40-4 31 2 2 2 27 9 50 1 24 6 31 8 37-6 6-11 41 4 36 5 26-4 51 1 37 10 32 13 10-9 15-16 40 24 29-1 38-2 20-6 64 8 4-3 33 2 37 16 35 2 27 14 35 6-41 3-14-3-55 2-26 3-14 3-36-21-40 22-40-6-15 0-43 3-5 1-39-5-52-2-2-2-43 1-39 1-37 11-19-13-15 15-26 5-55-4-27-1-52-9-6 7-38 48 33 0-28 9-26-2-22 4-25 12-44-16-28 6-26 14-46-13-14-2-53 17-36 8-32-18 1 12-49 2-27 4-21-7-40 1-31 10-29 0-25 9-20 2-65 0-15 11-38-3-15-6-21 8-30 3-40 39-11 26-5 4 26 8 27-3 37 1 47 6 7 6 43-9 29 7 25-4 18-10 33-4 42 28 28-5 27-18 42 22 15-8 48 12 19 5 41-17 41 14 22-17 17 7 53 8 27 38 7 27 10 5-27-8-54-7-18 6-27 13-35 2-9-6-39 8-36 2-12-4-59 4 4 0-62-12-11 9-56-9-14 5-43-4-12 13-51-2-23-1-10-1-50 5-35-13-11-2-44 4-9 19-44 1-24-15-35 4-31-1-32-8-30 22-14-13-36 16-43-12-20 9-38 9-31-20-37 29-22-21-36 12-21 11-40-8-14 1-41-4 25 2 58 20 1-15 19 4 62-3 4 14 48 6 22-10 48 14 14-6 33-6 45 18 24-12 32 18 28-6 27-7 51 14 20-11 38 1 13 8 38 3 28 5 49-2 26 28 36-2 25 0 31 2-42 1-32 8-10-3-52-14-9 11-54 10-21-10-37-2-41 19-11-18-34 21-47-6-19 9-15-14-41 6-23 4-33 14-25-1-31-17-23 9-42 3-33 10-23-9-22 7-38-16-20 21-61-3-23-1-11-3-46-8-30 9-42 6-10 4-37 0-34 5-40-5-47 32-11-3-22 3-42 1 25 0 29 7 26-2 27 9 39-5 50-1 30 5-1-11 30 1 32 20 35-8 46 5 20-1 35-14 50 2 2 5 52 21 22-24 5 22 67 3 22-1 12 0 52-16 14 22 13 0 33-11 29-3 62 3 23 12 18-14 41 16 35-5 2-4 36-1 46 2 46 7 3 11 25 0 27-10 60 10 29-12 32 3 15 5 35 2-23 4-34 11-37-19-42 15-34-11-26 5 1-8-32 1-27 24-62 1-19-17-30 12-8-10-35 22-49-26-11 17-34-4-57-4-20 17-19 0-18-13-50 19-27-13-25-2-24 1-60 5-27 14 10-9-60-4-7 16-59-15 0-2-38 3-43 19-21 1-31-9-42 9-24-9-34 6-23 9-38 4-21 22-40-9-37 13-8 10-35-2 34 7 45-2 12-11 31 4 44 7 35 19-3-9 35-1 53 6 16 2 41-11 27 12 40-5 28 5-33 4-45-18-8 3-26-1-30 2-49 27-6-12-47 13-22-9-58 9-14 2-33 5-34-22-33 21-37-4-39 4-8 0-16-6-57-3-40 0-29 14-27-2-23 11-43-2-21 10-37 7-20 5-63 20 8 0-48 14-36-1-27 12-30-11-32 25-36 0-30-4-19 10-54-9-19 17-35 0-42 8 29 3 30-11 45 12-1-18 43 12 54-7 17 9 29-1 28 8 39 3 16-8 59 5-9-2 30-5 69 13 23-10 5 17 58-2 20 6 42 2 8-18 52 2 4 26 34-5 28-13 30 20 38-11 46 6 37-12 40-1 31 26 16-21 18 1 60 22 16-20 47 22 9 3 55-10 16 3 10-1 56 10 44-8 7 4 35 5-31-13-21 18-19-15-50 17-42-1-36 10-2 7-40 3-15-15-26 21-62-20 0 6-28 7-56 2-26 4-24 7-30 6-64 13-34 3 2-5-41 9-47 12-22 8 35 4 13-12 65 8 17-3 12 26 37-4 55-11 40 20 19-6 30 2 34 5-36-6-33 16-30-5-41-10 8 10-45-3-25 5-24 9-51-12-43 22-1-13-60 9-20 10-42 1-25-8-29 3-7 9-33 3-56-21 3 11-47 0-23 7-38 1 25-4 48 8 18 16 34 1 45 10 18-15 23 14 44-7 36 8 10 7 40-4 41 20 38-16-2 10 23-4 72 11-9-6 66 13 33-11-10-5 67 16 32 5 26 4 18-23 13 24 35-2 54 5 22-9 19 6 32-1 31 8-32 1-49 3-4 9-57-8-3 3-49 11-16-1-35 0-14 8-50-7-7-11-32 25-35-1-42-9-48-7-30 4-18 26-6-1-45-3-27-5-35 4-32 3 20-11 33 18 26-2 33 6 24 10 40-15 58 24 2-1 34-15 39 12 18 17 54-13 22 14 46-20 16 17 38 2 28 2 21 0-23 0-35 14-37 0-44 3-28-18-11 15-25 5-34-15-51 2-4 16-22-4-55 5-10 8-31-14-30 13-44 1-40-10-36 4-24 9-22 1-43-7-41 16-6-2-34-1 29-4 23 15 35 4 50-5-5-12 35-1 63 26-2-25 66 9 21 1 25 8 24-3 28-5 23 8 21 9 37-10 30 6 64-13 26 20 21 4 21-8 34 0 29 5 24-2 56 13 24 14 15 1 39 2 36 0 40 8 30-1 3 9 54-21 30 18 8-10 57 7 11 2 34-13 38 5 32-1 23 11 47-16 4 17 23-14 29 22 42-12 41-12 46 8 3 12 16-10 52 18 18-1 60-1 13-11 46 17-2-16 45 11 30 4 20-5 17-1 38 1 26-10 38 10 28-5 55 3-1 12 69-16 16 7 23-5-26-3-30 10-26 11-25-5-57-9-25 8-30 1-39 13-43-14-20 17-5 7-69 0-8 1-46-21-34 19-29-2-26 7-7 3-52-8-34 16-3-7-60 0-21 7 42 6 17-12 53 12 30-10-2 14 31 7 38 2 42 0 45 7-1 2 57 7 3-11 30 12 62-3 4 12 38-6 25 18 33 1 38 5-35-2-14-9-60 9-33 7-27 0-5-19-28 12-61 6-37-14 8 12-31 6-64-2-32-10-9 13-50-14-24 24-27-25-27 9-19 8-53 12-20-14-36 2-30 16-39 10-30 8-40 14-21-5 41 16 41 4-3-3 67 8 21-6 5-15 31 22 50-18 15 21 26 5 46-12 55-9 14 18 17 6 18-23 56 28 9-22 62 14 31 5 38-5 1 15 63-17 8 6 34 7-30-4-34 18-55-15-28 15-18 18-44 3 2 10-36-4-49 1-32 6 29 2 50-6 25 17 31-1-4 4 46 0 33-12 23 7 34 2 24-3 17 19 44-3 37 9 39 4 46-8 2 6 38 11 49-10 39 21 15 0 32-1 27 8 45-5 37 1 3 1 37 9 58-3 5 6 60 7 11 9 42-1 41 7 16-2 18 17 52 1 18-7 25 22 52-2 19-16 12 14 49 11 12-11 31 14 47 2 30 3-38-1-14 7-51-2-27-9-6 20-64-6-11-7-28-4-37 14-5-1-67-2-13 7-9-9-49 2-36 2-38 9-30-22-10 13-52 8-3 1-40-10-55 1-9 13-23-2-52-2 1 12-30-11-65-4-4 1-45 11-38-7-8 9-48-2-4 2-50-8-4 11-48 6-15-11-48 0-28 6 35 31 40 6 14 6 40-5 41 10 2 3 71 6 4-7 45 18 24-24 49 7 8 21 27-22 55 22 29 7 5-11 59-4 22 0-3 4 46 7 36 1-20 15-49 8-30 3 0-16-50 27-26-11-21-1-37 10-53-6-24 19-16 0-31 6 20 2 45 1 35-4 16-2 29 6 53 11 17-8 41-3 1 1 41 21 38-2 42 6 3 0 28-22 62 10-8 3 61 1-3 12 30-16 49 26 34-16 42 2 27 11 8-2 41 10 26-5 34 2-36-1-25 3-28 1-42 16-45-17 4 11-34 1-55 8-9-14-48 6-42-8-18 4-42 13-15-4-42-10 2 7-50 22-23-14-47 4-25 2-30 6 23-9 39 4 34 20 44-5-2-7 51-5 24 15 36 15 21 1 30 5 30 2 51-15 20 19 45-19 31 17 2 10 45-10 30 5 31-5-41 4-40 10-6-14-29 8-38 2-22-3-31 7-31 0-39 26-4-2-32-4-66 10-3-2-33-2-43-9-25 22-27-7-20-9-56 4-2 14-51-1-27-1 29 2 23 15 21 8 48 2 41-6 8 7 59 2 0 0 57 6 37 4 34 5 12 4 37 0 19 7 31 2 59 3-4 5 69 5 12 6 9-22 32 5 65 22 18-10 11 4 35-1 38 12 45-3 15-2 33 7-23 22-37 4-51 7-16 9-35-3 37 2 5-3 37 5 56 0 18 17 47 0-8 3 27-4 69-5 5 9 20 7 64 9 6-16 17 16 63 6 30-4 36-2-9-15 44 11 41 3 33 4 32-4 9-1 41 10 38 3 21 3-23 14-28-12-25 8-61-5-16 0-27-2-58 19-21 7-15-9-31 12-35-13-20 14-54-2-32 2-28-14-2 2-42 18-58 8-11-3-15-9-37 9-42 2-34 7 37-2 14 3 61-7 15 3 27 4 47 7 30 8 2 9 62-13 12 9 28-3 46-4 15 20 38-6 41 16 34-4 18 2 25 7-29 1-45 9-19-8-49 15-21-5-38 8 8-1-67 11-1-17-37-1-51 14-24 16-24-10-36-7-35 11-20 5-31 6 23 11 30-22 25 24 39-16 40 14 27-6 33-2 13 7 48 15 18-4 35 0 30-5 55 14 2 12 48-12 48-2 22 14 29 5 19-4 33 7-21 2-39 1-33 4-52 0-24-20-32 22-4-3-48-17-30 5-9 11-30-3-37-4-21-1-45 11-35-19-29 17-45 2-33-4-30 7-34 8-36-15-7 14-17-1-59 3 1-19-56 12-3-11-74 8-30-10-23 12-27 7-6-12-42 17-32-12-51-2-3 6-41 7 32 6 23-12 44-4 9-5 47 3 49 14 11-5 52 1 16-9 35 9 30 10 12-9 61 4 6-10 43 13 6-11 65 0 35 18-4-11 27 2 39 6 24 8 50-10 52-6 24 7-2-12 55 1 23 8 30 5 36 2-24-11-54 19-16-14-27 17-31-14-16-5-58 13-35-10-13 22-15-18-54 15-31 3-39-17-35 10-21-6-34 12-33-9-17 8-41-13-18 25-17-17-24-1-43 7-36 4 23-10 59-1 35 18 4-8 55 10 0-6 68 10 4-14 53-3 35 17 18 0 33-3-24 7-22 11-70-20-31 6-10 6-45-8-1 23-66 2-33-9-2-14-57 1 3 6-52 7-33 3-31 0 28 10 42 5 26-8 39-8 23 10 28 2 56 6 19 1 29 1-25-2-39-2-51 22-14-17-26 17-21 2-44-17-30 17-44-3-30-4 40 7 34 4 10 3 23-7 58 16 14-10 32 9 33 8-29-10-22-7-31 14-50 1-36 3-22 1-35-3-26 11-53-18-11 20-28-5-37 3-38 7 39-13 39 16 29 5 21-25 26 26 41 2 26-13 31 0 12-11 47 28 41-20 7-5 56 20 5-15 39 4 40 7 21 13 21 3 25 21 57 4 18 7 41 22-23 27-42 7 34 7 7-4 58-1 27 11 18-14 20 23 33-4 33 7 55-2 34 13 19-9 22 10 48-6 42 9-7-3 53-1 31 6 25 7 24 2 32-5 22 16 32 19 71 6 3-3 36 6 40 10 39 12 25 0 40-6 21 7 14 1 38 0 22-2 54 8 13 7 38-4 15 18 49-2 21 11-40 2-17-2-35 4-31 12-46-5-17 6-32 23-32-1-42-1-32 17-30 19-16 4-49 9-19 1 39 14 32 2 44-4 31-6 31 7 10 11 26-9 26 11 34-1 62 12 29 4-5 7 42-1 37 0-32 8-50 5 5-5-31 24-32-18-29 22-20-19-37 30-63-20-29 10-15 8-23 4-33 9-38-7-20 0-20 27-44 2-25-4-44-14-41 4 4 3-56 14-22 10-21 2-39 3-24 2 33-5 32 22 33-1 25-17 30 4 17 3 38 7 48-4 5 14 35-5 46 9 21-8 13 8 46-9 12 13 45 1 11 7 46 4 54-20 5 23 49-2 6 8 35 2 23-3 33-5 38 5-37 19-4 4-49-13-17 14-53-2 0 24-54-3-25 13-26-3-23 5-44-10-17 14-39 8-34-3 26 18 45 1 29-13 31-8 27 5 7 3 35 18 48-13 43-13 3 24 47 1 6-5 38-9 23-6 43 10 18 2 49 4 24-1 29 7 37-18 44 6-3 12 63 6 12-24 8 18 31-16 43 8 25 2 54 6 1-13 56 21 11-15 59-8 17 0 45 25-3-8 43-7 9 2 31-10 28 12 57 11 45 2 11-16 50-10 22-1 21 22 17-18 52 10 24 0 22 10 33-6 8 8 56-3 25-16 31-1 28 10 14-3 58 3 19-1 29 13 55-13-5 7 49 16 22-14 51 8 27 5-20-4-32 0-52 8-4 9-27-16-62 23-32 1-15-22-10 27-46-24-11 23-42-7-43-4-14 14-33-17-25 0-27 12-39-6-29 3-47 14-8-5-48-4-40 17-17-16-23 17-48-13-40 9-7 5-36 0 30 17 11-2 37 0 53-18 25 29 40-23 16 20 40-16 42 25 4-13 40 6 22-12 25 27 31-21 51 19 16 10 28-8 45-12 44 16 15-9 48 18 34-6 28 1 22 0-24-7-34 20-31-16-41 1-2 23-49-27-12 6-44 10-30 11-17-4-41-14-28 9-56 2 6-10-47 21-45 1 2-18-71 16-22 5-26-14-31 20-26-16-17-5-50 6-35-4-15 19-22-2-34 0-35 8 37-19 34 22 16-10 57 12 31-13 19 11 36 1 1-10 52 11 5-8 57 7 16-7 31 19 24-7 61 4 5 10 30-15 61-3-2 23 23-21 34 13 59-1 17 15 18-19 66 13 12 1 48 10 9-16 30 21 39-21 44 16 11-7 33-1 51 21-4-10 49-1 27 4-34 16-43-10-20 19-28-12-39 9-38-3-28 23-13-18-51 6 12 29-71-22-3 20-34 4-33 7 33 11 43 0 34-1 0-2 56 6 30-3-4 19 59 4 34-3 23 0 41 13 11-3 30 4-34-9-38 0-39 19 8 7-67-17-17 9-20 5-13 4-69-11 8 8-43 9-56-10-8-1-47 22-11-1-32 0-28-9-18-4-61 17-17 0-8-4-63 10-8-12-33 1-45 8-14 4-39 5 26-7 22 15 28-13 43 10 34 17 52-23 12 22 23-1 43 2 22 7 23-20 39 4 33 26 44-24 28 20 44 5 22-3 9-2 24-6 39 14 46 1 26 8-34-8-33 19-38-3-7-9-44 9-46 14 3 3-23-4-41 4-28-5-46 23-43-13-9 10-33 6 28-13 42 19 12-16 33 22 43-12 41-2 25 8 10-8 34-2 51 9 13 0 15-1 68 11 21 11 2-6 47 2 48 10 1-14 32 5 43-5 38 23 8-6 40 0 49 1 31 1 17-6 9-4 42 5 20 5 54 6 25 12 41 7 9 12 56 7 32 11 24 48 33 3-32 3-16-6-32 1-42 1-51-5 0 3-52 10-24 3-10 1-45-10-47 2-17 20-46 0-14 4-18-12-36 12-23-15-34 18-41-2-36-15-14 10-28 13-43 1-26 2-48 4-5-4-42-8-40-5-9 21-38-15-46 8-21-1-25 13-24-16-56 16-40-9-18 3-30 3 22-12 27 23 39-7 12-4 36 3 30 4 46-5 46 5 9 7 41 12 14-8 45 0 33 12 31-22 7 8 44 15 35-4 53 9 25-20 38 18 18-7 4-4 32-5 39 13 35 14 38 1 38-15 33-1 1 22 59-23 10 16 17-1 46 2 36 8-22 4-51 0-19-10-39 22-24-21-25 22-14 4-35-13-57 23-30-4-39-1-13-5-18 2-59 3-24-2-32 22-13-8-43 3-28-5-34-6-42 17-29 1-3 9-54-5-21 11-8-7-45-10-34 1-22 12-42-3-17-6-61 22-6-11-44 19-35-5-31-14-18 16-39 2-14 7-42 2-25-21-30 19-27-2-22 9-50-8-22 4-27 3 37-1 17 1 50 12 15 0 30-9 36-14 12 26 64-19-3 17 62 5 20-22 49 8-1 9 63 0 19 8 9-20 25 16 62-15 1 24 32 2 37-23 35 17 17-14 43 11 41-13 26 22 21-20 43 27 47-18 3 1 31 0 39 1 21 12 25 10 65-7 7-4 36 4-32-15-26 17-26-1-45-10-18-3-51 8-25 13-7-16-33 20-31-22-21 25-41-9-22-8-48-7-11 1-40 3-46 15-6-2-33-14-65 19 5-13-23 5-44-6-27 14-22 5-55-13-8 11-51-18-4 18-68-7-10 2-17 3-69 4 1 1-23-15-40-2-41 8-16 19-62-19 13 12-64-3-24-8-31 13-15-6-55-10-12 16-54-16-2 20-38 1-37-16-9 0-53-2-22 11-27 12-47-10-9-8-29 6-46 5-23-3-33-6-16 0-31 12-39-8-45 12-23 9-47-18 11 2-46-2-19 8-32 20-31-7-53-3-24 8 39-17 3 18 29-7 64 0 32-6 32 11 2-5 39 13 56 1 12-7 15 8 52 7 7-15 29 3 36 0 39-4 44 21 38-3 25-18 31 0 39 24 35-6 13-10 15 14 46 6 33-13 40 15 32-3-2-17 51 7 24 15 14-7 58-8 14 8 41 2 41 1 34 2 5 5 24-17 51 6 21 0 42 18 38-19 12 16 23-15 57 4 1 14 33-2 59-19 20 22 22 0 7-2 43-2 45-9 37 2 10 5 49 5 13-14 38 11 42-8 11 3 55 9-6 13 61 0 28-5 16 5 23 5 24-19 40-6 16 6 53 4 43 2 26 7 18 3 29-10 11-3 48 22 32-6 30-16 39 2 34 6 13 4 34 4-28 2-32-7-43 11-34 1-5-3-23 7-68-1 4 2-62-7-27 3 3-5-43-4-39-5-34 0-1 5-32-8-45 13-18 4-65-3 9-1-70 12-6 1-47-14-7 14-43-16-9 4-40-8-33 19-42-12-8 19-46-18-13 17-66-7-5-15-29 16-25-5-40 4-40-12-44 18-31-13-8 8-23-10-60 16-16-12-26 0-23-8-37 8-18 18-59 1-6-6-29-11-35 2-16 3-67 6-29 0 5 9-33-3-30-2-33 8-56 1-15-24-26 4-42 2-42 13-14-19-20 6-28 14-56 0-22-9-40-10-23 14-6 0-24-11-44 24-20-6-41-5-33 6-28 4-40-19-21 3-53 11 5 8-51-4-19 1-56 5 7-4-43 4-47-20-28 26-39-20-18 20-30-18-39-1 2 15-60-14-37 16-25 0-36-10-15 7-32 3 22 6 54-18 25 3 38 8 2 11 45 0 40 3 6-22 19 6 58 5 36-4 3 15 49-5 24 13 12-19 52 1 25 17 12-5 39-2 52 7 38 6-1-14 24 3 57-4 11 15 52-1 22 7 16-10 43-7 49-1 14 8 14 13 47 1 21-10 55-12 33 22 16-5 12-8 42 2 25 11 51-14-2 4 34 3 31 1 61-9 32 16 3 5 42-5 26-1 15-12 32 1 40 24 30-8 52 11 30-24 8 0 17 7 47 1 30 0 12 11 65 4 23-5 23 2 29 1 33-6 44 17 0-7 59-4 20 6 44 13 8 4 27-6 33 15 11-17 74 25-10-6 49 12 35-8 16-9 23 3 39 15 43-1 23 6-36 7-30-1-32 6-9 4-60 5 8-13-57 6-14-7-52 8-11 11-53-10-4 13-21-3-64-3-25 5-24 5-23-3-54 16-8-4-31 7-29-1-46-10-12 18-29 8-55-9-14-10-21-3-58 20-11-12-30 0-27 4-39 12-12 10-59-20-19 13-18 3-29-13-60 20-39-6-4 2-39-3-19 13-40 6-38-18-13 13-59-14 5 10-53-1-9-12-42 6-13-1-36-4-62 23-19-6-14 7-20-6-36-7-23 0-60 10-7-7-24 2-54 4-43 1 5 14-29-16-30 10-43 9-19-21-57 18-18-14-23 6-38 8 40-18 25 8 26 4 31 5 48 5 15-12 25 15 40-15 19 18 40-1 28 7 39 3 18 7 26-10 40-11 11 10 45 3 36 7-36-2-33 0-19 11-20-20-35 8-59 1-31 1-19 2-11-8-61 6-31 13-38-4-18 3-30 13-36-9 0-6-61-1-2 6-70 6-18 6-22 6-29 3-34-6-44-3-22 5 39-18 26 14 29-4 36 7 29-19 35 1 38 5 5 22 32-2 64-21-4 26 39-1 39-12 37 12 34-8 8 2 52 0 16 12 24-14 58 5-5-2 24 7 50-17 19 9 22-9 68 24 9-6 31 1 13 4 63-18 6 13 29-7 21 22 40-4 54 2 9-10 46 2 23 0-30-3-34 0-37 20-17-7-19-10-64 13-26 0-39 0-29-9-8 10-44-9 0 25-61-19-17 12-39-1-45-2-17 3-26-1-25 13-53-13 6 16-52 6-13-8-43 7-46-3 1-10-34 13-24-9-57 9-28 5-24 19-33-22-48 15-9-10-15 3-33 10-43 16-53-14-19 6-26 4 38 3 34-17 23 18 19-16 38 23 52-2 18-13 7 16 56-21 17 24 30-14 33 3 37 9 6 1 64-10-1 4 45 11 47-2 30-2 42 5 17-17 34 23-1-20 58 2 41 6 5 2 31 14 59-24-6 5 64 3 21 18 6 1 32-8 31 10 47-14 45-1 13-1 37 16 31-9 19 3 32 0 37 14 36 7 26-5 39 28 7 5 38 5-40 5-40-13-26-4-16 21-47-4 8-9-70 3 3-11-44 9-24-2-32 10-22 4-45-14-30-7-21 22-57-9-27 13-1-12-64 14-20-12-44 12-4-15-45 17-42-21 10 7-54-5-18 11-45 4-5 4-47-19-40 19-20 4-55-6-17-5-41 3 1-1-56-1-19 10-13 6-42-8-34 4-21-8-58 6-31 0-15-5-31 4 29 2 17 10 56-7 3 5 28 2 43-8 50-12 8 19 42-5 42-8 17 7 34-6 27 6 17 5 46 14 44-17 30-5 13 0 44 12 37 11 25-20 24 19 33-16 54 15 17 4 36-9 10 4 40-1-23 16-23-25-49 24-45-5 0-8-64 12 1-15-55 1-4 3-54 1 0 0-32 7-31 12-41-12-46-4-15-5-34 8-27 3-43-7-28-1-21 1-42 16-38-4-23 32 17 32 16-5 41 3 10 8 32-1 54 0 21-8 20 20 20-10 44 2 23-8 54 10 23-14 21 12 39 4 24 7 25-19 57 8 27 0 43-6-10 8 46 6 35 7-19 3-51-4-22 10-10-3-53-14-31 13-42-12 5-1-37-3-28 11-49 7-26 1-46 8-9 0-41-22-20 14-22 2-56 12-3-8-31-9-28 7-36 6-44-1-20 2-33 3-32-18-22 14-19 10-52-5-31 11-47-9-2-3-57-2-25 4-15 8-21 4-34 5-19-20-59 8-14-4-39 7-26 42-32-3 41 16 10-18 49 20 34-14 40 4 23 0 39 2-5 6 41 0 24 14 40 5 22 2 45-6 29 5 25-1 48 7 9 9 56-23 5 2 67 20 30 2 25-4 24 4 25 3-26 2-15-5-50 18-28-14-58 12 4-9-57 10-9-1-56 8-6-7-30-10-51 19-31-13-6 7-42-8-40 6-7-2-66 19-21-22-24 14-19-8-69 9-29 7-7-3-36 49-32-1 36-4 43 8 22 6 17-15 37 6 35 20 36-11 18 5 35-4 5 9 32-11 66 26-7-9 26-10 40 22 48-17 36 14 37 10-5-5 55 2 38 7 15-21 8 17 68 12 0 2 30-16 35 6 38 13-23 6-25 23-45 7-37 1-39-10-4 11-44-1-34-12-43 23-7 1-42-15-33-5-12 19-68 6-28-17-18 6-23 1-53 11-19-20-31 10-7 0-59 14-27-5-6-17-33-4-51 16-38-10-13-2-42 11-40-5-23 15-18-19-30 12-25-3-44-4-8 1-43 4-36 3-31 12-36-4-26 8-51 0-33 25-16 2-17-6-51 12-29 3 26 3 29-3 44 0 23-10 29 16 53-14-11 11 69-9 27 20 4-19 64 1 11-1 17 6 43 9 44-5 35 4 14-4 19 7 54 12 21-24 18 8 54 10 17-14 46 24 9-21 28 20 30 1 53-7 14-2 28-1 19 7 35-5 40 3-40-11-41 22-28-24-13 18-9 0-52-13-8-4-43 8-47 19-11-1-59-9 5-7-55-2-41 2-27 11-14-10-33 0-38-2-22 8-30 6-14-10-43 20-48-2-10 2-14-8-54 8-18-1-25 2-47-13-4 6-39-11-51 17-21 2-12-17-30 7-38 16-37 3-30-16-34 6-32 1-27 6 37 4 37 4 27-22 40 1-2 16 36-10 40-6 35 10 15-10 32 10 24-5 43 17 24-19 29 19 50-14 33 18 23-16 1 4 45 12 23-8 39 5 43-14 11 4 32 16 21-10 52 5 15-15 29 17 40-20 37 10 5-5 66-5 32 22 18 0 41-12 9 17 26-3 57-7 25 8 1-16 53 19 0-3 67-7 17 13 18-10 37 9 16-2 25-16 60 20 4-12 28-1 51 14 9-10 57-15 12 26 56-25 8 9 34 2 18 16 50-4 43-16-4 18 26-13 29 11 53 4 48 0 8-6 30-4 53 7-6 2 62-19 15 4 45 9 27 5 15-6 52-3 26 1 23 8 37-9 28 4 31 15 13-1 33-7 25-1 45-2 19 9 25 13 29-8 41 19 47 1 15-1 38 0-34-11-34 0-18 23-23-20-38 3-15-1-63 3 1 8-63-8-30 15-5-8-23-6-43 5-30 1-23 2-57-2-32 0-6-2-45-9-34-1-6 1-51 3-22 12-31-13-43-1-19 4-35 19-10-18-34 7-37-2-33 11-8-21-51 27-24-9-35-9-32-5-16 10-42-7-50 8-19 1-36 3-31-13-19 13-42 2-7-3-16-6-31-6-32 6-37 11-27 7-55-10-41-5-4 6-40 5-16 3-55-6-34-13-29 14-21-7-28 16-41-12-19 9-24-18-49 2-7-4-33-3-12 2-66 3-24 15-20 2-26-10-28 3-34 5 27-17 24 0 21 15 33 9 50-14 12 0 66 9 20-10 41-2 17 21 40-3 27-1 29-2 38-8-5 12 40 2 37-10 13 6 36-6 40-7 50 21 14-14 35 9 39 5 3-7 66-11 16 3 16 12 42 8 47-15 20 10 29-14 31 0 20-5 33 16 28-1 25-1 56 14 27-22 25 11 16-5 33 19 41-27 29 6 33 5 30 3 27-3 9 9 56 2 17-16 49 11 23 8 4-6 59-1 24 5-33 9-30-22-36 12-33-9-2 4-37 7-38-14-20 21-63-21 4 20-38-3-52 6 0-6-31 2-32-4-22-7-36 5-49-12-24 22-51-1-1-20-20 16-39 2-41 4-19 3-41 3-21-8-58-17 2 7-47-2-41 8 6 1-37-2-54-3-2-7-40 15-35 8-18 6-34-19-50-6-31 6-5 13-27 3-50-1-45-11-9-3-51 4-26 15-2-20-51 4-4 13-65-2-24-7-1 4-37 12-36-17-49 17-15-2-21-20-45-1-36 11-14 3-38 3-29 6-28-13-11 3-57-3-47 2 8-8-37 12-37 0-32-4 37 18 11-17 47 3 6-4 36 11 64-13-5 13 56 0 12-2 33-14 57 9 31-7-6 6 64 0-3 13 61-19 37 9 15 18 44-26 20 17 8 9 24 1 52 2 13-14 58-13 30 22 18-19 20 10 53-4 14 12 14-15 56 20 20 5 37-18 46 19 18-3 24 0 41-5 18-8 34 6 35 6 25 0 16-2 60 5 8-6 46-16 26 4 8 16 63 7 14-21 43 17 29 4 18-23 14 9 62 6 34-1 29-11-3 13 38 10 46-18 27 10 20-10 19 16 31-17 35 9 61 2 23-12 6 8 55-6 33 18 3-8 38-10 51 22 35-12 0 13 48 1 23-3 55-12 29 8 5-8 31 6 35 6 39-4 24-1 25-7 34 5 37 18 4-14 48 17 15 4 50-2 36 9 37-9 29-8 15 12 35-12 44 23 22-1 45-5 27 7 5-3 61-13 30 9-9 1 62 10 17-3 31 1-37-10-21 21-41-15-14 16-36 4-14-5-56-16-9 15-52-16-14 5-20 9-30-7-32 20-33-25-63 4 8 24-60-4-8-6-21 13-67-10-13-5-48-7-22 8-3 5-27 5-31-18-44 15-19 13-27-3-51 4-48-25-11 7-30 4-12-1-47 6-34 1-22 2-56-5-23 3-29-8-34-2-30 1 0 14-53 7-45-6 9-9-40 4-51-2-13 2-56 21-21-8-16 5-54-6-20 10-18 2-46-1-5-5-45-11-30 3-17 11-36-15-46 10-12-3-38-9-31 16-35 11-13-14-33-5-41 10-28-5-22 9-52 1-15 4-14-19-70 7-21 6-21-1-44-6 1 15-52-5-4 0-39 6-41-1-25-2-36 3 33 0 45-1-3-4 43 16 43-22 38 5 31 17-8 4 42-19 39 11 11-9 36 20 30-11 67 10 4-16 31 2 23-2 25-5 34 25 26-4 27-14 63 8 2 1 60-7-2 3 54 17 21 4 20-8 32-12 65 5 6 16 33-10 38-5 45 15 2 4 27-17 30 8 29 4 32-14 61 6-4 5 38-9 26 21 30-17 48 6 34 2 21-1-23 4-52-3-36 17-2-11-17 4-38 3-21-3-45 3-19-1-69 6 11-13-65 3-26 8-4-10-31-3-43 27-51 2-14-25-41 2-5 16-51-6-32-9-28 7-31 8-32 12-33 1-35-8 7 0-59 10-17 4-38-6-19-4-36-12-50 19-7-2-23-7-49 16-13-20-52 11-9-6-39 1-41 4-27-3-38 24-14-5-12-5-54 0-22-3 24-6 34 2 40-2 9 8 26 2 47-6 21 11 55 12 36-4 3-18 38 12 33 3 12-1 28 1 47 11 13-21 58 15 10-16 27 12 44 1 13-1 29-4 38-1 41 2 21 5 51 3-4-8 65 7 33-5 26 23 3-6 30 0 44-12 43 12 7 8 29-17 37 19 45-1 26-6 18-11 21-5 59 2 3 16 26 8 61-18 31 13 22-4 22-1-24-4-36-6-14 7-57 11-15 7-45-6-29 3-36-9-19 20-12-2-51-21-18 19-45 6-5 0-50-18-32 16-11-17-67 14-12-14-18 7-56 18-24-14-8 8-56-13-13 20-30-19-46 15-34 0-20 5-28-10-23 6-42-5-46-1-20 9-19-6-53 1-27 7-1-7-58 2 3 4-66-1-27 3-1-1-65 17 7-6-39-2-40-5 38 10 43-5-5-7 65 9 21 1 10-10 51 16 16-11 46 4 33 3 26-1 22-1 22 13 46-9 6-5 61 17 3-8 34 16 40-19 35 17 10-1 48-18 22 12 47 9 29-6 38-12 1 19 35-16 34 14 14-2 62-5 32 2 33-4 30 10 27 2 15 2 22 14 23-12 72 4-12-7 41-2 21 9 31 13 35-8 31-7 37 4 37 1-35 12-22 1-29 2-17-9-69 0-22 13-13-14-20 22-62-23-24 14-39-5-15-5-46 4 12 11-53-7-18 16-46-3-41-2-5 10-48 4-36-1-5 6-36-18-19 16-32 6-46-13-17 15-41-4-32 0 35-12 10 17 34-12 55 23 15-9 46-10 16 6 28 11 29-1 18-6 61 1 0 9 26-21 65 11 10-3 47-1 12-1 55 12 18 6 20-19 53 8-3-9 28 23 71-25 21 21 37-10 3 12 23-1 67-18 14 13 28 8 13-14 29 7 27-2 55 2 27 3-41-2-3 5-63-14-10 11-34 13-22-10-40 13-39-7-7 8-47-23-46 14 0 9-32 2-43-10-11-7-57 11-16 1-30-3-38 17-38-20-22 17-14-1-18-17-54 5-28-4-48 2-12 13-29-8-39 13-24 12-13-17-23-4-30 17-43-18-56 10-26-8-2 9-44 5-34-8-7-1-58 12-26-2-42 19-4-3-45-1-8-12-38 5-54 4-29-13-36 13 11 9-55 3-7-11-63 2-22 10-37 2-24-6-23 4-30 12-45 12 4 11-30-7-55 7-22 2 38 1 39 14 36 6 18-7 20 14 23-14 55 9 16 20 44 0 2-11 63 16 12-2 40 1 38-1 25-2 11-1 33 23 54-5 16-19 54 7 24 21 29-20 18 6 15-3 47 22 33-19 4 4 70 9 23-9 16 20 20-6 27 0 50-1 40 3 11-7 35 15 24-17 28 4 33 8 33 2 24 0 24-13 52 26 44-21 24 9 12 8 13-11 69 20 25-11 19-12 13 18 27-1 56-7 30 8 49 5-4 3 50-5 16 9 29-23 30 24 47-17 24 5 31 3 35 24 16 1 60 6 27 15 24 5 40 10 16-3 55 21 35 3 3-16 54 7 37 14 10 7 43-4-20 15-29-8-40-10-10 6-59-8-31 16-14-2-28-11-41 24-13-15-47 14-7-9-48-4-41-7-44 15-8 5-28-9-31-6-34 18-28-7-48-3-13-13-36 3-24 22-27 3-18-17-56 13-12-18-43 16-44 0-27-10-14 15-36-11-4 2-50-3-47 19-5-10-55 4-34-3 9 1-36-15-27 13-27-12-57 1-5 7-36 6-29 6-18-6-57 2-24 10-41 3-31-17 1-4-60 8-32 11-22-19-32 10-35-1-23-3-43 13 3-12-34 4-26 8-65 7-10-20-12 12-56-10-35 0-9 1-46 7-24-4 38 13 5 4 53-6 13 0 62 14 13-2 46-2 42 0-3-6 40 3 23-9 62 8 28 16 23-18 18 12 36 4 34-6 35 18 40-10 12-9 13 3 35 18 59-14 11 5 41-1-33 8-20-16-50 22-3-17-64 15-13 12-26 1-52-13 4 6-44 9-19-7-47-2-30-2-23 6-26 1-55-11-26 19-7 7-60-23-15 1-55 27-5-14-42 4-13-11-46 25-13-21-59 8-31 19-31-5-10-14-28-2-51 8 0-6-68 18-21-2-21 14 28 4 30-1 30 19 31 13 43 17 22 15 43 8 39-17 2 11 67 8 24-14 32 17 25-10 12 12 49-5 9 14 28-3 24 9 69-16-4 11 54-9 24 5 12 21 54-8 23-5 10 15 47-5 33 9-23-18-46 7-14 8-33 11-16-10-55-5-45 7-25 12-26 14-22-5-47 3-3 0-23 3-66-3 2 10-70-10-25 9-27 0-20 5 33 5 10 9 36-2 35 4 46-15 25 22 44-10-2-4 55 6 8-7 38 25 38-19 34 7 4-1 47 18 15-1 35 4 40 0 35 3 24 4-35 11-42 1-13 1-21 6-61-18-5 19-29-3-32 4-42 1-46-2-40 0-22 27-33-22-22 19-18 1-42-2 33-8 9 13 41 15 60-1 2 0 60 1 19-17 10 15 54-4 40 2 4-8 29 3 33 23 37 4 29-23 52 8 18 13 29-14 25 17 30 2 37-4 41-12 15 8 28 6 49 9-3-17 46 16 35 11 41-2 19-15 47 3 2-4 21 3 58-2 33 8 23 8 30-2-34 21-44-20 4 15-73 12-14-7-48 0-21 14-13-2-57-3-12-7-30 4-50 16-9-20-59 8-20 11-26 2-29 8 31 10 20 3 30 0 38 2 30-9 53 9 3 4 49 16 14 3 24-3 67-13-8 10 62 0 24 22 15-1 29-3 45 9 16-10 36 8 38 1-33-4-22-3-52 18-7-7-27-5-38 22-38-3-24 7-47-17-16 5-43 5-35-8 3 17-71 1-30 0-4 7-52-5-28 2-20 1-29 5-51 8-22 3-25-16-12 1-33 1-35 6-29 4-61 8-33 2-7-2-34-10-24 19-33 4-50-11 2 4-62 19-6-4-63-11 3 4-50 7-28 6 21-3 45 15 36-6 32 9 6-9 55 2 4 10 36-2 43-3 18 20 20-3 71 6-3-14 46 15 29-4 28 2 28 3 35 6 49-6 28 21 36 11 15-9 44 11 25-4 33 8 33 7 16 5 51-13 21 15 25-17 50 12 7-2 26-12 37 2 23 2 37 4 48 13 13-5 28 3 47 4 44-1 8-6 31 10 45 1 26-5-22 10-54-2 2-4-40 14-27 6-45-2-47-13 0 4-38-8-36 21-17-14-49 23-4-7-40-4-37 2 42-6 5 2 41 3 35-3 56 9 31-6 28 7 22 10 44-7 1 8 42 5 42 8-26 7-15-12-48 10-47 3-7 0-31 11-31 1-30-16-52 14-22-3-24 1 30-2 49 11 29 1 5-9 55 22 7-7 38-11 63 14-10-13 66 15 3-11 39 18 30-6 41 1 31 2-37 15-43-7-26-12-34 2-11 14-50-8-25 0-45 10-23 6-30 5-29-2-24 9-47-10-5-1-37 6 24 6 50-3 28 6 24-11 25-2 31 10 43-2 12-11 18 2 28 23 61-6 0 10 39 3 43-5 8-13 40 8 33 3 33-3-28-1-42 6-24 4-37 6-32-15-28 20-26-7-25 9-24-7-50-7-38 25-19-16-32 16-54-4-8-2-33 2 22-7 40 16 37 7 36-8 45 0-3-2 50-2 34 10 3-12 33 4 34 5 29 9 58 1 27-2-29 20-28-8-52 7-12 7-23 0-31-4-45-4-23-9-18 9-46 8-35 1 31-1 52 9-10-2 74-4 21 15 23 3 33-21 42 13 25-13 3 21 50-13 50 0-2 13 64-3 6 16 36-8 29-3 39-4-39-1-13 3-45 14-34-17-31-1-21 14-43-11-34 26-32-4-13-19-12 18-52-16-15 6-25-3-32 12-31 14-35-22-27 3-28 15-57-3-25-2 25 8 33 5 19-5 47-1 39 9 20-15 17 22 40-8 39-11 19 21 29-2 25-19 56 10 30 1 37 10 15-11 29 20 16-10 36-4 31 5 40 1-21-1-60-6 5 5-30-6-63 20-7-3-55-3-16 18-33 1-22-7-36 6-38 4-20-22-49 8 0-4-60 23 5-13-56 3-27 2 30-10 23 8 20-5 66 14 10 8 25-6 38 7 42-1 12-17 47 21 3-2 61-21 23 23 35-11 6 13 72 5 8-20 11 0 58 23 13-6 25 5 56-5 12-12 35 12 35-8 42 6 20 6-29-15-51 12-3 15-41-3-24-6-57-3-5 5-20-5-63-3-38 18 9-2-32 0-57 1-35 0-32 4-29 7-25-16-45 13 8 1-36-8-43-6-32 11-32-2-33-5 27 18 45-8 7-15 59 13 34 14 23-9 13 11 38-14 45-10 19 12 31-6 34 16 36-6 42 1 9 4 31 5 52-7 26 2-2 9 37 2 34-9 31 9 54 6 15 0 33-5 37-5 29 8-33-4-27-4-26 8-40-5-32 4-39-5-13 12-22-5-54 1-29 2-26 0-29 1-29-4-42 6-38 10 12-5-49-4-52 1-27 9-2-16-30 18-66-9-17 10-21-22-33 11-36-4-36 8-20-4-36 6-25 16 32 5 33-14 37 21 8-14 47 5 14 0 66 18 21 3 5-19 64 5 21-3 19 7 53 9 22 7-23 11-16-8-48 10-47-2-36-16-21 7-26 15-43 5-4-5-35-1-35-6 26 3 29 14 41-19 21 13 54 3 25 11 3-11 38 14 46-8-3 5 30-4 62-4 35 10 33 4-7-14 30 9 71 9-6-12 34-10 64 21 4-6 34 1-37-1-2 14-60-18-8 9-64 5-18 5-10-18-34 20-34-8-55 9-14-12-11-2-53 7-25 1-25-6-63 19-23-16-34 21-14-1-50-1-18-5-23 2 25 3 28-5 42 14 21-17 33 17 33-9 53 11 9-6 38 7 19-5 62-1 27 1-8 4 48-9 18 10 34 15 51-1 30 5 36-11-7 12 66-12 17 8 29 11 40 18 33-1 28 4 29 2 36-13 35 25 36-7-5-11 50 19 50 5-9-11 59 0 11-9 22 10 33 12 59-1 7-5 38 5 40 6 42-9 35 9 3 19 54-16 13-4 21 3 54 12 19 8 43 8 21 5 55-12 33 5 32 11-3-14 23 5 39 18 61-17 7 4 44 22 20-10 38 7 20 13 25 5 33 15 39 8-38-9-19-4-16 3-55 26-23-17-10 19-40-9-54 1-32-1-21-1-29 18-48 4-7 4-40-6-19-4-36 0 34 3 32-2 36 1 40 1 9-9 20 10 48 7 23-19 41 2 6 15 65 3-2 3 28-14 61 9 19 9 43-19-6 9 54 3 34-6 34 3 40 6 26-7 4 17 37-16 56 4 11-11 16 12 47-5 18 8 25 4 35-5 40-2 35 11 37 10 10-26 44 12 13 7 69-10 22 20 14-20 13 17 59-15 35 20 37 7 28-17 6-3 44 13 16-1 62 16-1-16 59 14 17-4 31-1 43 15 37 11 6-10 44 7 22 10 43 39 32-1-29 5-43 15-39 4-36 0-3 0-37 3-40 1-30 12-43-4-20-13-51 7-31 2-27-6-10 8-56-1-1 12-25-4-53-6-22 20-55-16 8 6-39 14-51-14-28 17-10-14-38 5-32 7-36-6-23-5-17 15-36-3-65 10 1-4-25 4-48-18-5 18-41-14-58 2-22-5-43 10-2 6-56-6-29-1-12-5-21 16-59-11-18 3-35-12 1 2-62 9-13-4-18 20-30-10-65-2 11-9-64-1 4 9-46 11-48-8-12 8-19 8-33-23-55 6-20-7-19 13-30-3-41 3-28 7 43-3 27 15 14-8 43 12 14-1 60 10 26-4 35 15 32 3 22-10 31-2 49 6 13 11 44-19 38 19 3-9 44 13 38-15 32 4 8-3 39 12 27 9 51 2 19-8 28 8 22-4 68 6 19-13 23-3 29 15 45 0 21 4-39 0-31-5-17 24-34-4-32-14-8 15-45 6-23 2-58-16-23 24-33 0-16-4-31 7 36 5 31-3 11-8 63 16 8 3 56-12-8 16 34-18 50 3 46 1 14 3 45 5 20-2 9 19 57-9 27 2 28 10 49 6-1-8 25-3 62-1 24 7 28 7-37-18-31 12-21-5-49 1-26 17-10-14-45 11-16-10-59 18-1-16-59 10-12-8-37 15-5-6-57 5-15 7-19-11-51 14-34 3-9-8-60 4 3 8-25 6-47-9-15 14-57-18-14 23-58-4-10-5-33 6 22 13 48-19 17 16 55 10 0-12 43-2 18 22 22-5 32-7 69 16-11 7 58-13 19 3 14 14 44-1 37 39-32 2-36 7-23-3-43-8-5 21-53-13-33-4-9 16-51 2-22-1-43 5 5-5-56-8-15 8-54 12 0 0-23-11-30 0-59 2-5 14-28-14-56 9-20 13-28-12-56 18-9-20-19 14-38-2-35 4 39-1 38 12 14-14 22 26 19-25 31 22 40 2 56-3 14 2 30-7 51 24 16-5 15 2 38 1 43 14 41-4 19-10 19 9 39 4-23-13-21 17-60-13 2 1-58 14-5-7-58-1-8 17-33-1-35 3-20-3-37 10-36 7-27-15-47 2-41-8-23 2-25 22-31-10-34 5-29 10-23 19-35 19-40 0-23 2-34 19-27 9-50 3-28 6 20-8 54-5 1 13 69 7 19-20 25 2 24 6 22 1 61 4 8 14 18-15 64 9 27-11-4 21 48-5 39-3 24 2-29-8-29 22-40-15-6 1-54 11-33 13-40-17 5 21-55 3-13-23-51 22-13-5-12-5-32 14-64-17-3 7-26 2-46 7-19 0-36 18-40-2-23-5-53-8 6 24-53-25-3 13-52 5-30 2 31 5 15-12 67 23 3-10 24-7 56 25 42-21 24 19 13-11 45 1 8 2 47 14 44 0 25-14 7 17 35 11 44-8 29-5 48 15 1-4 42 6 32 3 43 0 13 4 20-12 60 1-3 24 62-19-6 5 41 11 35-5 49 1 32 11 10 3 34-1-23 13-15 10-49 12-17-1-60-7-37 6 1 12-47-4-33 18-22 1-17 6-38 25 25 21 21 19 18 9 24 3 51 0 0-9 45 16 31 5 40-4 4 8 31-12 51 3 39 18 20-8 43 6 36 9-3-6 31 9 40 1 37 8 30 24 17 11 34-3-31-4-15 7-65 9-34 15-6-16-36 16-19-6-45 14-33 3-29-16-55 17-3 7-58-6 5-1-39 1-36 2-37 8-33 2-39-4-13 10-24-2-45 8-45-6-16-3-32 14-49 5-28-3-24 20-17-23-68 19 0-7-55-9-8 2-45 5-18 18-52-15-19 21-58-26-8 10-31 5-48 8-27-3-27 11-22-5-29-5-48 16-31-20-4-1-52 9-36 2-20 4-33 7 22-10 60 1 31 19-9-3 44 6 22-15 43 19 18 8 29-5 69 11 20-4 21 8 11-4 61-12 17 24 53-23-2 8 33-1 26 19 47-5 34-5-31-5-14 6-36-6-44 21-36-13-7 15-56-8 1-3-56 7-8-10-57 11-1-14-39 20-31-7-57-6-16-4-23 7-39 1-26-3-22 8-30-7-33 5-12 5-59-5-39-5 8 2-30 6-65 7-1-22-47 8-24 9-40 0-26 11-15-3-42 3-13-14-68-5-12 19-31-15-12 1-58-6-40 19-10-11-12 6-33-4-48 0-28 4 39-7 25 3 17 0 56 16 7-24 38 23 34-14 14 15 44-6 17 0 63-15-9 26 35-15 24 6 39 6 57-1 6-14 47 22 8-7 33-2 48 3 44-9-9 12 44 3 54-18 29 8-2-4 64 21 27-18 35 10 15-4 25 5-35 8-18-12-31 0-54 3-17-2-38 2-24 11-30-7-39-5-29 11-16-4-31-7-19 17-35-24-44 18-41-6-15-5-31 12-41-7-17 4-31-6-52-5-6 8-37-8-44 2-19 26-27-21-61 13-29 9-3-21-49 6-28 4-28 4 23 8 48-16 41 18 23-24 29 24 41-13 16 14 19 0 24-14 63 9-2 8 59-12-1 1 49 8 9-13 55 9 9-14 35 6 50 17 12-14 39 17 32-14 44 2 36 6 21-10 18 5 38 16 53-13 22 6 32-15 37 8 15 14 9-6 52 4 18-6 40-2-26-4-25 17-56-16-14 16-45-18-14-1-38 22-13-6-54 2-32-7-32-11 5 12-35-9-51 15-30-11-40 23-36-13-28-6-22 15-29-21-21 12-28 11-39-16-40-1-9 4-61 11-18-1-27 3-8 8-60-15-16 6-50-10-31 19-12-22-11 2-30 15-47 5-25-9-43 0-28-6 38 10 0 7 65-16 35 0 14-1 21 10 20-7 33 12 29-16 66 21 26-11 7 13 45-3 2 0 62-2 18-8 16 7 25-5 42 3 56 1 5-4 37-2 20-1 34 13 50-10 17 20 49-16-4 5 56 11 16-4 12-13 38 19 31-16 25 13 46-4 30 5-24 9-43-8-43-16 7 2-44 8-57-6-7 17-16 5-58-2-43-11-13 1-35 12-24-20-14 22-52-18-11 6-30 5-63 12-2-19-60 8-32 0-22 6-27-5-30 11-1-17-54-6-50 23 5-17-30 5-62 10-17 3-48-15-3 3-27-8-59 27-13-11-35-2-27 3 29-3 49-8-1 5 36 7 36 9 22-21 28 0 29 14 42-10 47 23-1-2 42-7 30-13 28 3 56-4 34 13 25-10 39 8 21 9 2 0 69 0 23 5 21-14 24 13 40-5 39-8 9 20 37-7 27 12 13-9 48-3 34 6-25-15-33 13-25-4-38 3-53 9-14-14-30 9-45-10-18 10-14 5-56-12-27 17-33 2-9-6-25 11-67-4-18 7-17 0-25-8-44-9-21 13-46-14-26 5-31 5-31 5 30-5 19 9 42 5 21-21 57 0 10 0 48 15 27 1 24-4 3 2 51 3 12-11 64 23 13-20 38 14 10 10 56-9-6-7 45-1 51 20 27-6 26-17 34 2 4 7 61-4 9 6 39 3 27 0-34 6-19 2-55 3-9-10-54 4-30 10-32-16-2-4-53 15-3 7-24-23-46 24-34-18-40 16-14-12-18-7-62 9-20 2-11 12-40 0-41-16-43 5-12 2-17-11-45 26-10-11-43 6-26-7-43 7-44-10-2 6-62 6 5-10-41 15-16-13-38 1-35 6-28-7-30 4-39-3 30 10 48-14-4 20 50-6 12-9 65 22 11-11 28 7 36 3 27 3 22 12 26-22 58 5 43 0-9 16 51-17 51 18 27 2 20-14 29 11 27 7 10 2 41-6 60 13-3-4 63 7-5-11 34 9 44-1 33 1-40-2 1-7-59 11-18 11-33 2-33-7-49 5-5-4-58-6-22 20-11-22-24 8-28 8-36 16-34 1-18-10-53-7-11 1-65 12-23-7-38 10-6 0-43-10-6 3-49-2-25 15-43-11-22 17-47-18 3 18-59-4-20 8-26 5-37-10-14-2-23-1-72-2-1 26-41-17-10 18-43-8-56 7-25-14-8 11-23-7-42 7-27 11-52-13 6 17-56-4-42 6 2 2-42-1-35 0-31-5 35 18 30 2 33-19 8 24 50-3 43-18 32 14 22 0 19 8 19-3 58 8 16-3 17 12 71-23 8 19 47-7-2-4 65-1 9 25 25-11 52-8 37 22-4 0 64-6-3-9 55 1 28-3 19 24 52-1 13-4 40 9-23-15-58 23 0 6-20-20-73 23-29-2-10 2-19-5-27 12-47 5-46-12-31-1 1 21-42 4-29-14-51 10-30-4-16 7-34 12-33 1-8 10-50 16-23 6 32 0 9-7 30 6 37-8 33 2 55 20 39-18-9 21 46-8 51 2 23 12 40-9 18 9 31-13 5 19 59-18 15 24 40-10 23 0 52-4 32 2-6 0 38 9 44 5 26-2-38 15-15 8-26-1-66 15-18-14-34 11-30 4 26 12 30-8 39-1 14 11 66 1 28-17 0 1 40 11 15 1 39 0 47 8 9 9 45-1 22-8 36 6 28 6 27-15 45 6 19 14 49 2 40-5 4 2 25 4 41 2 36-2 30 6 33 32-9 33-23 6-41-14 1 2-46 18-28-7-36-4-28 4-33-9-38 6-29 0-44 12-14-18-24-1-25-9-40 19-26-19-17 10-64 13-30-16-31 11-34-10-3 6-41-1 35 1 36 7 30 10 25-12 33 16 11-7 45-1 46-2 17 5 33 0 17-9 61-2 20 9 17-5 42 4 12 10 27-11 35 21 30-10 37-7 37 22 28-13 41 7 31 8-40-1-27 2-14 1-58 15-31-7-33 18-33-2-4 17-43-2-41 3-37-8-12 10-38 3-17 14-56-6-42-11 5-4-56 12-13-11-54 25-22-5-46-7-30 6-3-12-62 16-17 5-26-2-42 13-17-11-39 2-26 5 42 11 39-13 31-4 11 10 22 17 34 3 43-8 8-3 63 26 15-9 28 12 54 5 22-2 2-3 33-1 44 5 14 2 48 10 28-15 55 12 25 5 21 0-28-1-29 0-50 17-17-3-32-15-38 7-33 2-12 8-41-8 0-6-32 16-58 1-37-3-15-13-32-2-50 16 5-1-33 14-54-9-19-13-24 2-55 6-2 6-24 5-52-12-31 10-11-1-40 0 31 1 14-7 36-4 56 26 19-8 26-1 40-13 28 26 33-10 31 1 30 9 35 2 36-22 8-2 41 25 0-5 39-11 46 10 10-5 31 8 51-16 41 1-3 3 59 14 23-3 27 5-29 4-46 0-21-11-8 10-68 8-25-6-28-5-43-9-30 0-32 24 3-20-49 8-22-9-30 17-56-4-20-3-32-6-7 16-42-5-36-3-28-4-17 16-39-5-37 6 28-3 22-6 20 5 43-7 59 9-2 11 58 7 3-10 63 1 8 5 32 1 37-10 9-5 29 13 40 2 39 6-40-11-21 1-9-1-42 6-39 7-30-7-16 21-32-5-56 6-14-12-53 3-12 1-28 4-29 7 26-19 27 27 48-12 38 12 28 0 42 3 1-4 42-11 29-6 53 1-4 21 55-2 29 7 44-7-8 7 30-22 30 8 55 0 40-7 36 5 25 3 25 7 28-2-32-9-42 19-18 4-52-5-34 1 1 9-41-5-16-12-47 11-14-12-37 27-32-1-33-7-56-11-24 13-26-16-27 14-28 1-41 3 34 1 11-6 52 1 31 13 4 7 54-6 41-19 34 24-5-12 52 18 10-26 34 28 61-5 6-14 35 13 52 9 26 1 8-18 29 7 38 1-39-12-26 18-11-14-40 1-17 10-42 3-21 13-48 0-13-3-42-2-36 9-34-7-13-12-53 20-33-9-31 4-9-16-37 14-32-6-26-1-45 7-30 4 35-4 47 10-2 4 48-11 22 5 10-2 50 3 42 0-2 7 42-10 19 1 66-12 7 0 50 22 13-9 14-5 48 3 45 0 38-4-7 20 45-3 37-20 15 22 60 0-11-11 53 13 39 0 6 3 26-18 26-5 52 2 18 16 42-14 46 25 10-19 24 11 36 5 20 1 55-22 33 17 31 7 8-11 37 9 31-7 29 4 28 15 25 20 60-4 23 14 27 49 32 8-35 11-42 2-5-12-19 12-49 2-23 6-33 8-36 3-46-10-26 8-25-9-24 25-39-4-23-2-29 0 33 9 42 11 8-14 20 22 42 6 17-6 57 14 25-10 30 2 47 8 11 8 34-1 23-6-29-5-33 2-25 21-34 3-8-7-48-10-37 13-10 2-35-5-48-11-31 2-30-6-46 8-14 10-3 9-60-20-33 11-26-1-24-1 30 10 54 7-7-10 51-11 31 8 26 1 30 3 55 8 23 1 28-9 54 7 7 7 37-5-34 19-8-14-55 14-9-10-36 12-49-11-20 12-27-6-32-2-39 8-56-11 6 12-44 3-36 8 30-17 36 1 15 14 60 10 5-10 59 15 30-19 1 19 43-19 19 22 22-23 57 4 8 4 51 9 41 4 0-12 22-2 38 16 55-17 12 11 29 3 41 2-42-5-12 14-32-14-19 7-33-5-43 6-49 9-8 1-32-12-54 9-12 8-55-11 7-2-36-3-29 13-31-4-62 8-27 1-10 1-44-2-29 3 30 13 51-9 27 11 38-19-6 4 27 6 58 5 14-12 35 18 27-19 58 20 20 3 23-20 28 22 52-19 4 11 44 1 33 2 23 0-38 14-39-5-6 6-49-22-21 15-17 6-48-11-36-4-6-1-42-4-44 5-1 6-58-2-32 11-42-12-16 6-41-6-30 5 1-5-28 23-39-15-51 15-8 4-30-16-64 5-26 6-30-1-13-6-42 3-16-3-47 4-21 6 31-6 32 10 17 0 21 1 51-1 36-9 32 3 41-5-2 18 62 3 28-9 1-5 66-4 0-5 23 6 59 19 0-20 57 2 17 15 45 0 25-9 37-6 18-1 26 0 34 13 49 15 12-21 37 9 18 7 39-4 12-3 46-11 41 7 21 6 31-1-22 14-53-19-38-1-20 17-28-14-12 7-21-4-62-5-25 11-15-4-27-2-24 18-42-1-33 1-57 3-30-7-17-3-22 5-45-11-9-3-49 1-34 24-12-26-26 9-39 3-37 13-47-14-1-3-47 15-21-20-24 19-23-7-69-7 6 24-57-24-3 7-38-5-57 3-32 4-18 5-25 13 32 2 26 10 15-3 56-4 37 6 7-11 34 7 44-9 33 9 38 2 5-11 54 2 13-4 29 16 16-14 39 5 23 10 63-4 28 11 10-21 23 12 52 6 38-17 23 7 16 2 25 8 40-12 56 12-11 1 61 8 7-15 55 15 20-7 47 7 32-19 11 15 13-19 65 21 24-19 33 17 29-3 20 1-20 1-53-5-32 11-33 1-15-12-50 12-29-10 2 3-27 10-56-3-2 13-48-7-27 4-46 7-3-25-50 20-4 5-70 4 6-15-37-4-55 11-8-2-38 2 41 11 4-6 44 3 33 4 48-21 2 24 33-23 44 22 37 5 15 0 35-23 31 16 42 7 4-15 69 12 22 1 41-5 22 5 35 1-6-6 69 9 10-4 33 2-34-14-35 22-20-15-38 14-8-12-70 22-25-20-15 8-29 7-15 2-55-18-31 25-17-21-20 1-33 21-41 1-20-4-46 6-48 2-21-1-7-14-61 6-21 4 34-15 14 5 66 16-9 6 51-23 36 25 38-9-4-4 46 14 30-23 25 16 29-10 39 17 49 4 14-12 50 7 22 9 30 2 21-4 25-18 46-1 12 23 32-12 44 5 29 8 39 9 35-5 12 4 28 5 60 24-1-5 59 9 28 6 19 4 27 0 45 4 49-15 20 12 23 4 16-9 25 3 37 14 38-7 38 14 21 2 31 33 33 3-32 4-37 3-20-4-38 18-54-3 6 1-34 8-62-3-19-2-34 7-33 6 22 11 55 11 28 8 33-4 21 7 36-5-40 1-18 0-51 2-20 16-25 4-15-22-47-2-4 22-43-10-27 15-64-4-4 5-24-17-44-3-7 18-50-12-48 20-25 3-12 1-20-26-47 4-25 17-13-15-57 11-44 8-7 1-44-6-20 27 23 22 42 7-30-10-15-1-36 8-24-6-66 0 3 18-57-14-18 10-29 3-22-8-52 12 6-1-42 16-38-13-41 18-17-4-56-6-16 3-24 49 33-2 39 6 20-11 17 17 64-18 14 11 46-5 14 9 42-8 42 26 16-11 5 3 38 3 51-12 39 2 19 8 10-11 56 26 35-5 28 0 3 6 48-21 48 5 34-2 15 7 49 10 26-1 26-6 14 7 40 48 0-3-40 9-24-9-35 18-8 1-28 0-68-11 6 4-58 4 0 16-67-2-11-1-39 6-36 4-31-5-5-12-55 11-21 7-34-4-30-4-39-7-6 15-27 12-30-1-44-14-25 3-63 1 7 11-66 11-22-10-33-7-36 18-9-9-38 12-9-21-47 26-52-9-10-7-51 3 8 11-57-2-22 3 20 16 34-12 18 27 62-12 8 23 50-1-3-7 32 26 53-9 26 11 24 10-40-5-44 18-6 10-59-2-29 15-15-16-12 17-51 2-36 16 22 22 34 11 42 4-40-12-37 11-1-3-26 0-61 13-26-10-4 18-55 7-41-18-11-3-37 6-43-2-28 16-13-13-51 23-10-2-23-6-51 3-27 29-32 36-17 1 22 10 52 0 12 8 32-20 32 18 49 7-6-12 66-1-2 18 46 9 37-3 37-4 21-2 14 2 31 15 46-1 31-6 43 8 14 1 36 1 21-1 41 8 19 3 54-9 14 4 21 7 31 24 40-21 27 10 43 7 34 8 41-9 8 17 64-14 4 6 25 11 53 0 0 2 55-14 12 24 35 3 36-22 17 12 60 13 31 2 17 3 27-7 27 9 52-22 18 12 38-10 38 10 21 13 18 10 60-3 14-9 33 4 30 49 0-3-39 12-21-2-44-9-12-1-28 2-36 6-17 18-42-1-24-8-51 10-33 0-44 4-29-12-5-4-23 7-30-3-34 18-28-8-40 3-32 3-37 30 23 19 41-5 25 20 33-19 21-2 23 18 61-7 15 17 35-14 35 4 7 17 34-11 29-10 51 10 25 1 27 12 23-15 59 13 22 6 18-10 43 7 8-3 29 19 22 0 29-2 63-18-2 15 60 6 24-9 19 8 39-2-32 10-22-13-54 3-37 0-18 8-4 13-41-11-27 17-53 7-36-9-18 8-43 0 1-13-44 30-44 1-10-17-37 3-28 16-30-10-59 10-19-2-27 1 28 15 16 3 73-11 21 4 16 11 61 11 22-1 23 8 23-5 40-8 50 7 25-5 20 11 11 11 71 4 18-5 45-11 13 4 44 14 38 3 2-5 25-3 35 1 33 10 33 1 42 0-20 12-62-12-27 19-27 12-21 3-10-5-53 4-23 3-36-13-29 12-32 13-10 2-51-15-19 18-20-22-37 22-42-5-50-9 10-2-46 16-46-11-14-1-39 3-22 15-40-13-39 19-19-9-37 5-40-10-38 26-31-22 5 3-65 21-1 1-58-10-6-10-57 3-17 20-27-19-16 3-44 20-24-11-27 5-40 33 10-3 30 4 46 3 14-5 22-1 32 0 40 3 28 2 54 9 23-3 5 9 55 7 27 2 28-14 28 13 25 4 15-5 51 18 22-7 44-10 8 8 70 23-1-14 41 4 28 1 34 18 36 15 45 6-30 11-52 15-31 2-41-5-12 14-57-19-24 3-16-6-18 4-61 5-13 2-32-9-23-1-37 18-30-11-12 3-43 8-16 8-69-18-30-5 3 1-39 12-17 1-28 11-34-15-43 14-38 5-19 1-42 0-43-8-6-6-49-1-37-2-33 18-11-3-15-18-59 18 1-22-65 0 1 16-52 4-40-13-29 18-11-10-21 4-54-3 2 11-68 0-14 2-47-14-22 3-20-1-31 16-15 7-56 5-16 10-45 3-31-10-32 5-32 4-45 9-22 2 30-3 23 19 31 2 39-6 47-14 0 4 44 5 37 4 36 12 2-2 74-9-1-8 45 20 33-4 18 4 25 11 35-13 57 2 29 1 4 8 51-1 16-1 39 11-37-2-21 9-59 3 8 24-49-1-42 5-27 4-39 3-24 3-24-9-56 3-19-2-14 10-58 9-5-14-23-5-31-5-46 14-33-2-16 10-19-12-55 6-44 5 7-12-42 8-28 18-52-6-32 8-16-5-27-1-38-11-24 12-15-8-44 20-55-20-12 8-39-4-17 7-34 1-25-12-43 14-17 3-34-9-37-4-21 15-23-13-35 21-35-14-16 19-55-7-14 10-31-6-28 4-62-14 1 14-46-1-35 12-15-13-16-4-47 21-43-14-19-4-24 0-18 15-50 0-12 9-56-15-17 4-36 0 23 11 32 3 34-10 24 7 46 2 46 0 6 13 15-3 42-1 31 0 27 17 63-2 11-17 12 17 46-14 12 19 45-3 37 2-30 7-40 7-32-12-4 4-54 11-19 0-50-4-18 0-38-7-27 30-1-18-61 6-8 14-31-18-54 25-19-17-41 22-27-13-25 5-22 1-37 5-37 11-1-1-32-18-49 15-31 2-24-3 0 0 32 12 25 4 42-1 16-20 41 4 35 6 42 16 3-9 38-9 55 19 23-26 11 2 48 22 6 6 58-16 29-6 18 2 48-2 25 21 42 6 6-22 43-3 5 17 60 5 5-13 64-4-6 26 61 1 31-6 12 8 56-26 0 16 26 6 27-9 63 13 28-13 31 5 20 10 28 13 43 7 39-11 29 16 28-11 31 14 25 11 37 23 23 26 42 23 39 9 33 17 25 32 32 4-31 4-18-3-25-10-60-3-30 0-20 15-50-12-11 7-28 7-20 0-24 13-58 0-22-2-25 7-31-4-52 6-34-13 4-3-45 12-33-6-14 12-66-23 7 16-66-5-7 5-59 8-31 4-8-21-30 18-25 2-17-20-34 20-38-11-28 7-40 2-35-3-28 4-32-2-36 1-32 3-4 15-59-5-30-2-14 18-41 6-41-19-8 22-41 8-26-13-20 4-34 16-51-12-6 5-43 2-38 1 34 9 36-6 9-13 46 4 20 4 58 4 10 2 52 1-8-6 38 0 37 17 46 4-2 1 72-18 9 8 42 9 5-7 47-13 9 2 54 9 32-3 35 13 1-16 33 3 63 11 24-2 40 10 25-11 21 2 22-5 27-6 47 4 7 21 54-5 26 9 39 0-1-17 33 1 54 0 41 16 23-8 24 0 30-4 14-7 49 24 20-15 43 3 31 3 23 0-38-9-21 13-47-9-26 3-7 12-44 2-35-13-14 16-57 4-42-6-17 8-5-2-35 0-63 7 2 6-61-11-21 9-22-5-47 16-16-9-25-12-62 8-22 4-22 4-37 5-24 2-11-14-42 17-19-20-46 17-20 9-58-17-28 9 1 6-48-19-23 5-43 3-5 13-46-10-41-1-22-7-35 17-43-2 6-14-65 4-23 22-28-16-2 3-58-3-23 14-16 1-36-13-22 10-46-14-24 8-59 7-16 6-19-6-34 10 25 13 56 15-13-1 55 16 24 2 31-1 30 13 42-7 18-11 12 12 37-6 21 6 53 0 37-1-1-8 41 16 63-1 9-3 31-16 50 6 14 20 11-14 24-6 70-2 9 14 36 5 7-6 58 0 3-10 29 20 44-12 47-6 35 16-6-14 71 12 20-12 26 5 3 9 62 7 20-22 45 3-1 14 65-2 7-8 36 12 32-5 24-2-37 5-24 6-44-3-37 16-12-10-17 7-36 8-34-5-33 5-19 5-43 0-28 3-33-8-31 7-38-2-21 1 23 5 41-1 18 6 22 6 61-13 25-2 29-1 44-3-2 2 25-4 66 19 6 10 35-2 36-1 44-19 19 20 8 3 49-22 44 25 20-1 19-4 36-17 46 17 31-7 9 1 58 4 3-9 35 25 62-12 6 3 20-7 38 18 58-17-10 17 54-8 22 0 36 1-38 16-22-17-36 0-37 6-21 7-9-4-65 11 4-12-52 19-14-18-49 5-17-6-43 21-46-4-14-6-37 0-33 11-26-16-37 24-10-13-41 8-50-5-29 11 7 1-55-9-43 7-14-3-53-3-19 4 0 10-61-9-39 5-16-6-30 17-29-4-30 13-21 5-25 1-42 3-25 23-48 4-33 8-37-13-21 28-47 5-6 0-52 2-10 9-30 3-16-12-59 14 0 7-63-4-28 2-21 7-39 15-45-4-25 14-24-14-25 20-39 4-30 4 40 19 23-14 42 19 15-16 46 9-9 20 32 3 60 10 22-13 14 13 35 1 37-2 20 13 26-22 28 6 31-1 66 2 22 4 42 7 24-8 19 22 43-20 13 22 31-18 34 18 29-8 12-14 58 22 21-19 37 11 6 15 38-1 56-11 18-4 9 2 46 19 40-22 13 13 27 1 49 4 10-11 49 17 35-14 33 7 13 3 34 5 48-6 24-4-37 7-13 1-47-3-18-2-42 1-41 18-23-22-23 6-29-5-15 14-33 6-54-13-39 2-25 15-14-15-32 21-48-18 2 17-40-4-33 5-28-17-35 16-30-1-13-6-62 5-11 15-55-20-21 2-24 20-36-7-25-1-30 12 31 7 50 8-8-12 66 19 17 8 22 2 42 4 18 0 55 8 1-9 56 3 27 3 39 8-6 21 27-10 48 9 34 3 30-3 47 5 0 7 34-15 48 1 15-6 47 0 21 17 19-10 62-5 4 0 61 5-12 20 34-14 68-2-10 20 34-2 29-1 56 3 41 4 14-4 17 3 43-9 49-7 33 15 1-6 35-13 34 12 39-3 13 9 60 9 25 1 19-16 34 0 25-4 20 21 23-22 68 10 17 0 33-2 31 15 40 4 23-21 21 5 27 1 12-4 60 6 16 0 30 6 36 1 31 14 49-15-7-8 65 26 24-23 33 7-4-3 41 1 51 6 2 7 25-8 63-1 0 18 31 0 39 1 56-4 10-3 33 7 33-2 8-12 52 26 50-22-9 7 42 6 54 0 35-7 17 15 43 0-5 8 65-17 31 18 30 1 31-1 17 1 52 6 13-4 33-1 22 3 35 5 35-3 21-3 41 7 34 13 18 14 67-11 29 9 34 5 11-3 35-4-22 17-26-19-59 7-27 5-7 14-60-2-28 4-13-3-54 8 1-9-39 1-48 8-9 10-24 3-64-8 0 0-41-2 32 3 35 11 26-11 15 12 39 0 19-18 54 10 31 13 40-8 9 16 48-9-2-15 50 14 41 5 11 0 39 12 11-8 56-9 9 6 26 8 65-6-3 10 46-8 21 2 14 6 52-6 37 5 23-1 41 0 31 11 26 11 30-15 29 23 38 3 29-19 54 20 21-1 26-5 33-4 31 16 13-12 32 6 59 17 18-5 10-6 57-4 15 6 19 13 29-18 52 6 20 17 26-15 22 11 52-8 9 3 68 13 13-19 26 12 36-9 11 5 61 15 3-1 31-2 58 8-8-19 53 7 41 5 19 32 33-5-36 5-28 0-5-4-33 1-65-3-32 10-20 18-21-19-48-3 0 13-52-6-39-2-6 24-56-17-20 5-37 14-16-12-20 11-58-20-30 14-17 6-33-5-21-3-29-3-20 0-30 0-25 3-66-2-33 8-7 14-29 4-20-2-63-19 1 9-31 19-31-10-51-9-36 0 4-2-36 15-32 11-59-14-15 5-31 3 41-7 13 16 32-9 22 4 54 12 3 1 39 0 46-10 26 15 34-3 32-22 16 8 39-4 22 3 50 19 9-5 32-12 40 8 17-7 47 15 1 5 38-8 32-4 61 18-1 1 55 0 14-5 31 6-21-6-27 7-52 8-41 10-24-14-28-5-24 7-13 0-61 19-28-14-24 17-8-5-69-6-2 26-23-6-28-14-30 11-60 8-22 8 35-4 15-2 50-8 31 22 3 4 52-13 27-2 29 23 20-13 43 6 52 1 32 7 17-15 5 9 57 9 29-7 24 7 31-1-39 5-9 10-44-8-34 15-15 1-34-7-24 8-29 3-30-1-60 6-27 11-10-1-31 5-70-3-20-5-32 1-10 3-52 9-27-13-8 4-37-2-27 19-46-3-32 3 36 5 12-8 34 10 24-3 39 1 27-8 57 12 21 4 35-17 39 11 11 8 20 0 59-9 25 8 19-9 46 5-11 5 59-3 25-12 40 18 37-4 29-8 31 16 16-17 36 8 42 13-2-8 24 0 60-17 14 23 34 5 32-26 17 8 60 10 1 8 56-10 32 11 19-20 14 17 30-13 45 6 48 1 6 2 34 3-30-5-32 7-52 11-30 5-23-12-7 18-38-6-41-10-9 20-34 3-50-1-31-4-44-4-32-6-19 25-40-11-28 11-24 3-29 7-41-12-20 6-28-4 28-1 51 12 8-14 57 27 22-24 35 27 0-13 47 16 25-23 35 10 27 17 48-21 42 15 3 5 43-10 33 11 17-12 54 8 21-1 7 3 52-10 49 13 10 2 33 48 32-3-22-2-44 7-28 14-10-19-58 21-25-9-33 14-25-16-24 3-54 0 3-10-65 11-29 15-13-15-27 12-46-2-25 4-36-4-5 0-49-6-15 0-34 13-52-9-2 8-22-11-39 11-29 8-40 4-54-10-5 4-35 6 29-4 33 8 13 0 39 7 29 6 33-16 45 3 25-1 33 4 31 0 40-1 30 23 18-21 19 6 30-5 23 17 43 0 39 2-41 4-8 0-59-5-7 18-54-8-20 12-19 2-43-4-13-8-35 11-31-1-33-14-56-3-36 24-2 5-52-5-22-3-44 6-30-13-17 3-43 9-24 1-25 6 22-12 65 30 20-2 40-1 27-5 42 9 7 4 34 3 35 0-24 9-20 2-24-9-38 2-53 16-6-8-34-3-25-11-55 10-16 3-52-11 3 8-61 19-28-14-15 14-38-17-18-2-50 9-13 8-49-15-14 22-21-17-31 7-30 3-43 4-41-13 2 19-62-12-1-7-59 12-18 6-28-1-28-2 34 11 25-17 52 5 24 13 1-8 42-1 26 24 22 3 26 4 53-3 19-15 39 11 26 8 55-9-10 0 56 15 12-1 54 1 41 13 1 6 58-11 2 2 40 8-40-6-33 6-29-5-21 22-30-2-25-2-49 0-21 8-26 5-34-8-42-1-48-2-24 14-3 3-44 2-34 8 38 0 4 3 55 27 10-8 37 9 34 7 29-17 52 25-3-22 22 22 61-18 43 27-3 0 46 4 14-25 55 24 28-18 23 1 19 4 51 24 10-2 21-17 62 1 13 1 48 17-3 0 58-3 29 11 1 3 30 3 46-7 55-13-7 7 58 4 20 5 32 15 36 8 28 20 33 6-21-12-20 0-47 18-47-11-20 17-18-15-48 17-18-2-43-19-7-1-59 5 4-2-48 22-44-3-12-4-55 7-21-9-10-5-32 18-47-18-45-2-24 20-14-15-56 10-10-2-15-4-25-4-34 17-40-3-29 4-59-7-24-3 3 8-65 10-19-10-28 13-9-15-36 10-28-11-64 12-30-1-7 1-37 12-49-10-33 2-1 0-41-2-29 7 23-2 61 9-1 4 25-8 49-10 25 9 41 21 40-22 9 20 27-14 50 21 10-8 24 12 42-9 47 13 44-4-10-12 42 8 41 14 24-12 23 14 54-3 24 4-23-3-30-5-35 23-33-20-26 8-54 4-18-1-19 2-29-7-35 22-26-21-31 24-40-4-43-4-27-9-4 18-57 11-8-24-56 12-27-4-8 2-57 5 6 3-58 13-3-10-52-8-19 26-45 1-40-13-13 4-31 0 28-10 21 9 48-2 19 7 15-2 36-5 25 4 66 23 7-6 28 6 53-4 37 7 27-8 12-1 14 7 36 0 31-16 48 16 40-6 19 17 25-4 34 6 37-9 22-4 34 12 18-9 18 10 58-6 20 1-38-3-18 6-23 3-38-5-34-3-49 15-12 8-52-26-23 17 3-6-36-4-24 17-51-16-38 17-11-10-28 10-35 2-34 0-36-10-27 18-42 4-5-23-66 22-35-18-10 20-36 3-7-20-49 1-43 12 6-8-58 9-23 1-49 13-35-17-5 0-27 15-27-17-52 6-31 1 2 16-44-2-20-5-65 6-6 8-59-23-19 17-25-3-27-4 21 6 52 1 31-9 25 21 22-10 14-2 33-2 36 20 28 0 43-12 37 22 38 2 3-1 38 1 54-7 30 13 6-22 24 20 58-15 22 20 35-7 9-3 27 10 54 4 31-9-3 2 43 16 46-18 29 15 25-3 31 7-21 4-38-11-15 18-44 0-45-12-25-5-25 11-14-1-59-3-12 4-35 20-17-15-73-8-16 7-37 22-20-20-37 12-28 8-42-18 3 25-58-22-1 10-72-3 11 15-65 9-29-2-37-22-33 13 4 2-57 4-21 10-29 6-42 10-40 7-31-10-24 12-54 8-27-6-6-6-27 16-56-3-29 11-30 3-36 6-11 2-55 8-29-18-7 13-69 4 8 13-51-8-47 2 7-11-45 15-50 6-24-18-7 28-64-10-20 13-24-14-40 8-21 30-38 19-27 5 28 7 13-8 54 13 6-22 43 6 32 6 35-7 31 10 31-12 18 5 56 22 20-3 26-9 33 12 22-16 55 13 18-14 34 24 4-6 47-5 17 2 28 6 39 6 19-16 56-1 19 21 19-22 30 8 53 7 23 3-35-7-21 13-39-17-28 5-46 20 6-20-63 11-11 16-44-11-8-8-44 16-28 1-44-1-24 8-21-9-54-11-1 1-32 10-34 11-26 9-25-13-36 14-40-7-24-8-41 0-14 2-32 14-44 8-25-12-51 13-28-18-31 22-14-16-43 19-36-18-13 3-20 6-38 7 39-15 3 16 31-10 33 22 62 0-3-2 30-15 51 17 16-6 21-1 34 8 42-9 23-3 29 19 32-6 25 13 32-15 22 3 69 3 32 16 19-7 40 11 14-8 7 5 66-10 33 12 2-9 58 7 27 8 29-19 33 5 31 7 10 5 30-5-40 9-31-11-3 2-37 11-35 7-35 7-43-21 0 5-54 18-27-15-43 10-5-14-29 7-69 12-14-8-43 13-1 4-30-18-37 5-51 21 3-21-48 6-37 5-17-7-58 24-1-20-29 7-66 9-1-17-52 23-7 3-60-15-21-2-18-1-16 9-59 8-15-2-39-3 36 14 41 6 8-26 36 12 11-10 73 26 19 2 29-18 42 3 7-10 17 9 66 11-6-7 50 17 23-10 44 3 44 8 21-15 19 11 17-19 64 10 28 18 20-24 35 5 25 4 35 6 6 0 59 8 23-10 36 19 6-2 60-3 37-9-5 11 62 0 16-4 28 0 36-4-29 8-19-2-31-11-60 21-16-12-34 15-9-14-53-4-30 20-18-15-24 13-40-8-14 15-24-9-67 8-2-14-43-1-16 5-29 17-31-16-42 17-47-11-9-1-38 0-10 14-64 6-8 3-41-16-43 2-14 13-30 6-38-5-20 6-49-8-35-16-3 20-35-18-27 7-25 4-42-1-24 6-39 2-26 0 27 17 47-5 39-1 23-16 12 17 54 11-3-5 69 2 2-13 29 6 38 14 21-5 48 4 46 3 27 6-3 5 42-6 37-14 50 7 8 17 43-5 26-3 20 20 57-6 34 1-3 5 44 9 8-3 31-5 39 6 33 18 34-18 22 23 47 1 38 2 29-1 21 9-30-7-27 0-39 30-30-14-37 17-26 15-44-10-24 8-35 5 31 15 22-19 64 24-4-11 43 10 33 1 17 8 50-3 32 3 37 6 38-15 27 5 40 14 15-16 11 9 50 1 41 1 36-3 31 7 24 5 0 11 57-4 38-13 9-1 54 17-11-10 37 0 48 9 3 17 69 1 32-10 6 4 32-3 33 10-38 1-13-3-24 4-38 3-56 11-22 2-35 1-9-16-26 3-41 8-39 11-34-7-35 4-26 6-12 7-15-5-47 1-36 22-37-11-22 3-30 8-32 2-21 30 26 35 7-2 40-5 22 20 7-22 56 21 8-16 63 19 16-8 38-2 33 13 37-11 25-4 14 10 20-13 66-1-8 15 49 13 46-13 17 3 34-1 23 5-21-10-31 13-56 6-29 5 4-2-55-1-26-3-17-1-39 14-29-8-42 9 2 8-44-1-38 10-34 8-45-5-11 2-31 19 27-6 26 22 39 14 28 8 21-8 20-6 66 24 36-16 23 19 37-12 32 3 27-6 36 15-2 9 26-1 63-11 27 13 32 7 2-17 39 5 43 6 24 18-25 31-40 3 38-8 18 15 39 8 30-25 28 23 21-17 21 17 63 8 11-16 44 8 22 2 26-10 47 20 6-16 20-1 32 1 45 16 31-6 28 4 21-11 57 21 3-20 33 2 34-3 60 26 29-24 31 23 1-3 48-5 22-2-21 12-22 6-43-8-49 20-8-3-54 9 1 0-31-3-41 6-25-5-48 7-43 11-5-1-33 0 29-10 33 23 45 6 1-14 43 3 27 7 35-8 45 23 26-19-1 14 58 9 6-18 33 23 56-25 12 3 34 15 7 13 71 1 16 5 37 0 21 3 8-9 46 11 53-12 14 5 24-3-29 17-23 2-38-22-40 10-20 14-13-3-68-4 8 3-63 6-32 4-17-10-8 12-59 2-15-4-23 4-45-11-5 14-36-9-28 4-40-2-53 28-11-24-36 4-6 1-69 21-20-5-23 7 27-5 50 10 16-6 25 6 37-6 49-3 14 7 23 0 36-7 37 18 14 12 52 2 26-3 11-16 52 14 30-15 31 5 24-2 15 21 25 7 41-10 20 9 25-19 60 12 34 1 19 5 20-1 40 5 24 7-31 2-17 7-47-14-28 7-47 3-21 20-33-18-6 13-31-7-46 11-14 7-27-3-35 13-28-4-47 5-29 7 34-16 22 12 28-1 49 3 31-4 28 6 15 3 15-10 69 15 11 7 18-17 53 10 3 13 28-15 44 23 51-10-6-10 53 7 34 13 14-14 42 6 10 3 61-7 33 2 15 10 24 6 33 0-19-4-50 15-31 4-7 2-60 2-20-10-36 5-13-6-16 11-51-1-13 6-62-14 1 19-26-8-66 11-16-19-22 1-21 26-29-11-63-5-27 7-8 1-36-5-9 8-45 4-35 9 29 10 34 12 34 18 33 1-36 5-12-1-39 24-51-19 0 3-33 6-43 10-34-3-48 16-3 6-42-4 23-6 48 7 3 7 27 6 38-3 62-4 17 7 43 5 8 1 20-2 43 6 14-12 40 2 50 12 0-6 62-2 38 27 24-4 27-4 2-7 37 7 40-3-27 16-53-3-10 15-34 0-44 1-6-14-37 23-25 1-32-4-23 3-47 13-18-1-35-16-31 12-29 6-36 1 38 6 30-10 41 22-4-11 48 15 27 0 30-13 38 24 8-10 48 8 21 5 57-6 24 10 10-5 23 12 57 0 24 23-34 26-31 2-31 14-9-9-32-5-69 18-17 4-5-3-56 14-16-11-30 21-21-5-27 14-33-16-48 11-29 5-33 10-28 13-41-6-9 5-30 8-32-13-24 14-47 17-26-2-46 7-26 1-14 6-33 5 22 0 37 9 16 1 28-17 32 15 29-1 61 4 8-5 28 9 27-7 62 12 14-7 14 7 32 2 40 10 48-12 24 9 40 4 19-13 22-3 29 21 56-2-2-3 33 13 28-11 55-11 15 27 21-11 58 8 17-5 28-2-29 0-12 14-38 8-46 5-19 0-25 4-55 1 1 11-58-8-4 9-36 7-36 1 35 2 49 8 18-7 16-6 44 19 34 6 2-4 68-16-1 7 35 0 52-2 14 15 53 3 34-1 10 9 44-11 31 13 16-3 31 10-37-5-40 21-7 11-54-14-15 11-32 5-35 9-40 3 21 18 26-2 43 10 29-20 32 4 45 11 19 18 44-3 36-3 32 2 12 11 34 7-29 11-7 13-50 18-27 7-21-5-28 13-33-22-47 12-16 0-59 7-26-1-2 4-64 0-7-4-33 19-21-24-44 7-14 2-54 9-7 1-46 11-28-17-52 10-12 3-36 6-37-3-16 9-26 18-32 7-47 6-39-10-24-1-32 10-34 7-37 6 28 1 14 2 42-5 41 19 47-11 30 11 20-8 24 1 35 18 43-11 36 4 25 6 4 2 49-6 27-2 19 9 42-1 26-3 16 10 41 7 40 6-31 4-38-7-26 4-42-6-34 1-12 14-40 0-10 1-44-9-47 1 3 10-38 1-38 0-24 7-45-4-44-3-17 20-16-12-64 22-20-19-22 8-23 14-51-5-24-3-32 8-35-14-15-1-38 24-51-12-24 6-24-12-29 2-18 12-49-5-8 7-38 6-22-17-42 9-14 2-58 2-6-15-30-1-55 10-3-5-32 19-48-8-10-13-57 4 6 14-36 4-40-20-17-1-33 20-37-15-18 1-65-5-35 2-17 15-32-18-13 0-26 23-37-21-22-4-45 4-40 21-11-8-27 8-60-5-4-4-38-2 33 8 42-2 33 3-6-7 61 9 37-8 5 1 41 22 51-20 20 25 39-8 8 0 27 0 50 1 35 18 12-12 22-5 52 3 16 10 25-11 45 24 19-15 14-3 48 23 51-11 15-3 35 0 26 14 46-9 1 19 41-6 38 0 26-7 27-7 39 12 12 6 48 2 37 2 12-1 40 7-29-15-13 21-43 3-45-8-39 3-14 2-26 1-56 9 7 13-62-19-7 19-40-10-47 17-35-7-12 4-35-1-14 8-43 1-20 0-48 1-28-2 27 16 19-11 45-5 47 16 9-19 22 29 69-8-12-5 60 5 25 0 9-9 47 4 56 1 12 1 40 12 21 3 44-14 19 12 18 13 60 0 1-3 37-3 39-2-29 9-21-11-40 17-25-22-53 2-27 20-26-4-19-14-27 25-56-22-6 27-25-10-43 7-43-7 1-1-61 0 3-2-55-2-1 2-57 17-22-14-47-7-26 9-23 16-10-19-39 13-48 5-1 9-72-4 5-7-62 14-34-18-3 6-37 12-33 21-32 6-40 11-24-19-43 3-15-4-37 22-20 1-41-15-13 19-27 10-50-17-17 7-45-4-32 8-39 4-27 8 37 10 11 4 28-11 49 12 17 11 35-6 20 20 38 1 41 10 24 8 51 7 14-1 59 18 18 4 35 2 26 7 36 5 42 0 37 13 0-12 23 4 58 6 17 9 47 1 22-1 38-5 36 22 29-14 23-1 37 7 36 4 26 15 11 0 23-5 48 8 42 4-3-6 63 5 13-1 32 0 31-2 14 21 38-20 45 12 33 4 40 16 21-14 5 8 48-11 18 21 38 1 42 3-4 9 70-11-4 6 34-12 22 11 49 7 28-1-30 5-32 11-45 8-24-13-20 2-42 21-21 1-31 2-41-3-30 0-25 2-23-7-23 7-63 9-28-5 2 0-40 9-20-2-69 10-28-11-28-1 4 11-34-3-53-1-31 3-1 8-46-5-14 17-59-6-22-8-36 16-39-2-26 1-21-5 26-4 41 4 44 13 11-8 42 10 6 9 61-10 17 11 45-4 10-1 42 21 21-19 24 2 69 28 7-8 38 0 32 1-34 19-21-17-39 22-27-7-41-9-30 25 1-12-61 18-26 5-39-1-17 7-10-7-43 4-35 11 24-6 48 15 22 3 39-10 14 0 12 12 50 21 8-1 47 1 26-7 41 10 26 0 39 6 9 24 63-18 4 23 39 12 61-2 8 4 37 8-38-5-19 1-18-2-49-5-19 12-30 14-35-1-20-1-54-10-32 19-45-4-3-8-26 2-46 1-32 7-14 22-65-3-23-19-1 3-58 21-17-3-42 0-28-4-33 19-40-16-12 5-23-9-63 25-21-15-20 18-22-20-51 3-34 23-13-1-31-22-44 1-11 15-43-6-8 13-40-13-45 9-19-9-21 13-44 3-34 2-22 8-58-4-10 31-52-8-19 10-33 10-39 19-17 13-42 5 19 14 25-8 56 5 21-14 38 13 30-11 36 10 11 21 55-3 5-18 34 19 35 0 25 2-22 8-50 6-42-9-17-7-24 8-41 0-8 10-48-14-26 23-9-7-59 15-18 0-46-21-41 21-26-17-34 6-3 8-38 15-35 23-14 17-32-1 27 12 25-8 18 10 57-13 10 10 46-8 22 22 26 5 30-18 60 2 11 7 41 12 14-4 55 14 23-5 29-9 30 16 7 1 34-7 56 8 26-10 13 6 38 9-32 0-14-11-52 4-6 20-39-18-43 20-17-6-26-11-42 26-21-21-29 10-61 0-29 17-8-16-48-2-41 27-3-17-34 3-44 9-28 17-34 10-25 12-22 18 32 21 16 3 40-10 6 20 59 4 5 0 60-8 28-13 29 24 19-20 42 13 0 10 29-9 49-7 41 9 30-14 6 9 59-8 31 10 5-11 30 28 59-14 30-10-12 5 40 8 45 12 14-16 32 11 29-6 64 0 5 6 35 0 34 0 37 13 35-23 12 23 40-2 25-3 16-3 36-2 18-11 53 4 24 2 23 2 62 10 7 1 47 4 31-3 34-13 28-2 12-4 28 22 46-1 3-14 36 3 62 7 27 0 15-12 8 1 58 6 3 5 55 1 21-7 43-9 32 5 17 6 33 7-40-3-16 8-26 0-28-3-26-9-69-1-7 1-53 9 7-7-68-3-8 15-39-1-8 6-50-8-10-3-33-3-33 10-58-6-26 10-23 10-33 5-6-24-70 2-6 17-51 4-30 1-37-4-9-2-16 8-28-5-45 4-49-1-3 3-43 3-33-12-26 0-45 8-1 7-31-7-38 6-41-4 23 9 29 16 37 3 33-16 14 14 65 2 15-9 7 18 27 5 71-5 14 3 6 0 51 4 31 15 28-22 26 9 17 0 41 21 21 0 23-1 46-11 38 11 34 3 23-3-33-4-23 13-41 3-20-5-51 0-23 9-9 17-31 0-32-21-30 5-59 0-12 21-53-10-19 8-25 12-40 0-38 18-14 2-44 0-20 13-23 3-46 0-34 33-49 6 24-1 53 9 4-10 61 9-8-1 34-20 57 8 29 8 36 2 26-16 6 10 65 0 28 9 23 1 4-10 35 8 23-7 69 14 15-2 39-23 8 15 50-9 38 3 27-4 7 13 36-10 29 15 44-9 25-6 18 12 45 11 4-4 68 0-5 0 62-13 20-4 35 7 14 4 40-11 32 20 20-1 22-21 52 26 10-8 53-4 25-1 34 0 29-1 41-6 20 9 13 5 61 2 35-7 25-8 26 7 34 14 26-14 30 6 28-9 16 17 50 8 26-17 22-4 13 1 51 4 33 8 44-2 11 1 45 0 20 5 18 6 20-11 38 17 26-22 53 1 30 19 10-12 27 7 34 11 26-21 44 13 25 8 30 1 23-22 36 5 48 1 40-2 9 17 50 5-4-13 60 1 14-9 49 6 28 8 4 4 27-3 49 5 22-3 41-2 29-5-33 3-12-11-32 26-39 2-20-11-67-6 1 12-27 0-34-12-40 9-33-5-10 6-65-14-31 20-31 5-7-8-48-6-31 15-28-1 2-19-64 15-39 5-18-8-15-10-39 10-28-8-30 19-34-11-31-9-25 19-33-1-51-6-13-11-29 9-16 2-57 5-32-2-16-13-40 6-38 12 11-13-69-1-5 17-20 3-63-18-12 9-41-3-39-3-12 0-21-6-30 9-48 4-13-12-47 11-43 9-31-11 1 11-34 1-60-6-33-11-8 21-35-23-25 14-32-8-12-6-54 13-17 5-42-8-41 14-19-4-11 8-42-5-14-6-63 1-7 9-24-17-58 9 2-12-72 21-2 5-53-25-31 17-16-4-30 1 21 6 37 8 11 1 66-18 18 18 33-7 31 6 37-4 35 3 31-16 25 1-3 10 47 8 49-2 33 9 3-16 49 14 31 0 35 7 4-2 58-10 21 16 35-13 23 5 20 8 41-13 12 8 45 1 44 3 28-2 0-13 25 5 51 3 18 17 20-9 60-14 23 21 18-13 54 15 0-1 42-4 22-6 32-4 43 20 19-21 27 23 37-7 24-4 25 18 58-23 28 11 28 6 7-3 60 5 7-3 40 0-23 10-48 7-38 4-7-22-27 5-55 23-32-18-17 4-16 23-25-20-31 6-57 19-45-18-5 17-57 9-7-4-36 8-9-10-53 5-29 49 33 5 25 1 53 12 27-12 16-3 17 12 32 11 37-8 21 9 62-7 23 9 27 3 38-4 10 23 49-11 36 1 36 11-1 10 53 7 47-13 9 5 44 4 20 7-36-16-26 7-19 2-28 5-50 10-42-18-24 3 4 27-65-17-39 1-23 3-24-3-31 6-28 4-15-4-56 4-18 4-29 6-23-9-55 19-6-1-52 9-24-24-21 6-46 0-29 3-8 12-55-2 8-1-61 6-20 11-34 23-21 15-43 48-32-3 24-7 16 7 51 9 32 2 46 5 35-15 29-2 14 17 30-17 30 1 26-2 54 26 3 1 59-23 12 25 36-11 33-8-1 6 66-1 32-2 20 8 23 0 14 1 71-10 18 12 39-8 7 18 40-19 20 1 19 3 60 13 21-5 19-10 33 9 28-7 30 23 41-24 14-1 32 24 39 3 45-2 29-17 18 20 29-3 26-19 33 6 40 2 40 19 37-10 9-2 37-3-41 9-13-11-53 21-8-15-18 14-60-5-34 6-30-3-21 14-37-24-14 17-48-4-30 11-8-4-43 6-39-5-32-7 1 9-38 3-32-6-22 18-43 0-18 3-38-22-64 13 3 11-59-15-12 20-50 4-33-12-20 16-2-7-53-4-30 8 40 12 9-20 59 11 26 1 15 24 57-22 28 7 15 14 48 4 28-4 32 20 35-3 29 4 10-4 57-4 35-9 37-2 6 21 48-19-4 24 70-15 1 12 59 0 33-7-4-11 22 26 43-16 57 16 17-9 25-5 42 2 20 10 38 1 7-13 24 14 74-15 31 20-11-15 59-3 13 15 59 0 23-11 6 3 42 19 17-2 57 1 24-4 42 1 8 8 53 2 17-18 32 8 21 3 42 10 8-10 63 5 4-3 38 4-22-11-53 7-26 3-39-12-2 17-50-8-39 1-35 10 6 4-29 4-36 5-37-10-38 5-11 2-33-3-59 0-33-8-29 12-15-16-53 6-19-6-11 12-26-6-70 7-19-3-34 12 3 2-34 8-48-2-19-9-52 8-5 6-38 2-37-11-53-7-6 7-35 42-33-1 22-8 44 21 4-10 47 10 13-4 70 2 12-16 49 19 18-1 39 7-8-15 42 11 26 0 55-11 16 9 49-3 22 11 37-23 21 5 28 0 24-1 52 25 28-6 19 0 26-4 25-4 49-9 30 16 17-1 21 5 46 6 6-18 51 19 38-8 28-8 1 9 27 0 34-7 36 6 38 5-24-13-45 22-12-10-31 9-40 2-30-10-45 0-16 19-47 0-32-2 0-9-36 22-34-8-17 7-40-3-33-5-15 0-54 11-17-5-16 3-61 4-32-5-34 4-28 1-11 0-46 5-9 5-40 4 31 9 49-12 23 2 31-9 37 23 0-4 24-3 67-7 23 5 22 13 8-14 42 6 29 13 43 7 26-18 41 14 8-3 22 10 35-12 20 10 58-9 17 2 52 6 33 12 34-8-3 18 59 0 15-5 17-2 40 20-30 23-28-1-26 0-38 3-9 15-49 0-13-3-30-19-25 26-51-10-39 5-14 8-16-6-57 0-22-5-25 6-40-14-44 5-25 4-10-3-42-5-37 23-39 1-19-2-44 0-29-11-4 20-30-8-35-4-17 10-25 5-59-18-13-3-38 18-39-5-20 3 36 7 26 15 16 0 32 4 63-12 1 16 20 0 53 6 29 6 31 5 31-1 37 15 16-1 31-5 42 13 44-20-9 2 32 17 69 1 24 8 11 4 52-6 32 11 23 0 21 8-38-12-46-2-23 9 1 0-66 6-2 7-24-12-52 8-19 22-28 1-21-2-63-11-29 8-30-5-41 21-3-15-25 1-45 2-22 12-43 2-30 12-22 4-47 5-21 5-43-3-22 18-21-8-48 6-27 10-42 2 33-4 28 13 11-6 54 16 17-3 61 5 13-19 48 21-8 2 57-14 33 12 16-10 36 7 45-6 23 20 18-10 24 13 23-17 56 28 2-15 46 1 25 6 37-1-22 12-47-15-15 15-41-9-35 22-7-12-74 20-9-6-49 4-4 1-23 14-49-24-50 18-17 0-28-3 27-1 33 25 46-21 5 14 57-1-3 8 41-6 30-5 42 5 13 6 26 7 51 19 29-24 37 28 8-13 63 11 7-9 39 9 33-6-41-5-12 18-31-18-37 12-34 3-45-2 1-8-34 7-53 3-9-10-38 2-51-1-29 3 2 2-27 14-33-2-55-6-15-11-30 19-38 6-37 1-3-14-61 15-24-25-26 5-12 20-26-23-36 13-47-5-13 15-51 3-17-2-37-1-22-5-39 7-39 0-2-14-71-9-25 4-31 12-6-8-27-3-27 12-44-2-32-4-28-7-36 13-26 14-38-6-9 4-58-20-39-1-31 13-30 11-19-2 0-9-48 9-49-13-16 12-43 9-35-22 3 1-54 5-13 16-38-3-21 9-39 3-37-23-23 5-53 13-28-5-24-10-22 15-11 3-48 7-27-12-55-9-5 10-17 5-57 1-21 5-28-16-54 4-25 16-3 2-32-16-39 7-37 2-10 2-51 6-22 5-27-6-52-11-31 7-20-3 34 0 21 12 17-3 31-7 66 7-1 7 41 3 46-19-1 9 54 8 25-9 29-6 48 1 30 1 24-3 41 3 23 10 8-9 26-9 61 1 30 17 12-1 22 0 41 7 16-1 45-4 51-2 9-1 26 2 39 4 19-6 26 8 48-13 35 17 40-9 12-1 32 4 15-18 20 5 44 0 51 9 15 3 36 8 10-8 59-2 22 12 32-17 18 15 47 2 30-16 9 18 61-9-1 0 22-15 44 19 43 1 41-1 30-18-7 11 45-12 33 21 30 3 46-3 7-2 29 8 39 0 29-21 24 23 47-8 14-15 44 20 40-5 19-6 32 3 28 9-24 14-62 8-17-5-12 2-47 11-33 1-40 9-30-6-42-10-23 23-18-23-37 4-24-3-53 6-9-3-35-1-8 19-54-12-25 1-25 20-33-10-39-1-23 11-29-14-26-4-46 23-45-7-15 4-42 1-17-11-21 11-42 2-26-1-38-15-8 1-70 5-13 15-8-12-64 19-29-19-30 9-24-2-17 2-41 7 23-16 28 7 57 17 12 8 40-18 26-1 52 13 8-3 25 11 20-3 55 6 42-14 12 27 32-14 27 16 36-4 39-4 32 11 16-10 27 14 41-15 20 16 35-2 42 0-31 5-50-5 1 9-40 5-19 6-41 5-12-20-49 8-21 13-60-22 1 17-45-13-28 28-15-26-54 3-13 20-19-7-64 16-39-23-17 4-29 21-15-6-56 11 7 2-58-3-39-10-35 3-22-3-5 13-35-2-39 2 39 7 41 13-8-7 54 5 8 13 64-9 35 2 27 3-3-8 64 14-4 5 47 7 28 1 30-2-39 17-29-10-1-8-73 3 2 4-25 5-31 3-52 13-40-9-29 11-23 5-24 11-43 2-19-8-19 2-27 7-50-1-28-1-10 5-41 26-16 2 26-6 54 20 16-8 23-13 44 12 33-7 36-3 11 20 27 8 37-13 9-8 38 7 60-3 26 18 4 2 36-1 47 2 31-12 6 10 58-11 23 5 12 17 21-14 55 6 8 6 56 10 21-10 17 8 54-5 20 7-29 0-25-16-17 23-72-8-25 4-33 5-6-13-55 2-9 19-47 3-29-18-15 4-34 11-22-9-28 16-67-6-26-6-18 22-46-4-23-4-23 0 35 10 24 5 30 2 54 10 29-23 25 12 3 3 43 17 26-10 55-2 21 15 19 0 52-13 5 15 42 2 21 1 45 5 23 4-39-17-36 19-7 9-33-9-31-5-25 2-22-12-28 18-59-4-3-10-52 3-48-2-30 12-9 6-21-17-32 21-24-18-61-5 5 14-33 1-48-3-9-4-71 2-16 0-26 11-18 5-33-14-55 0-6 17-40-18-30 12-18-2-24 3-40 6-26-15-63 12 5-18-65-2 11 1-71 26-5-19-24 1-35 5-37 1 0 0-33 2-39 18-41 3-14-13-45 4-35 25 1-14-52 11-23 1-37 15-9-5-34 1-70-4-12 18-43 4-31 3-24 1-41-9 0 26-48-7-52 11-3-8-57-3-11 15-38-4-26-4 39 3 35-9 9 21 48 0 21 1 46 2 15-2 16-10 63 16 21-14 32 5 3-8 26 6 31 9 61-8 10 14 59-14 9-10 47 0 15 9 41-4 8 0 59 3 17 5 16-8 52 21 8-9 55 10 4-5 33-16 54 2 2-1 56 25-1-6 70-10-1 5 41 4-27 3-43-5-19 3-18-9-36 20-30-5-53-2-3 6-48-22-48 0 12 16-54 2-11-12-67 8-31-9-3 15-34 4-30-19-31 4-28 0-36 2-32-2-50-2-25 21 6-8-45 1-42-11-40 8-8 0-53 9-18-11-46 13-17 9-18-16-42 3-28 3 22-11 56 17 30-17 29 12 22-2 42 12-4-22 55 24 41-16 16 11 37 8-4 1 31-9 54 8 30-7 23-1 33 7 30 1 38-7 3 9 53 0 40-2 30 5-2-24 65 7 3 8 36-7 34-6 32 25 42-18 15 5 11 2 33-9 34 16 44-4 31-4-28-7-13 13-69-1 4 5-26 2-62-4-7 8-30-18-29 18-60-4-18-4-30 8-31-12-20-4-31 15-39-11-34-3 1 7-70 4-8-6-43 19-40 1 11-4-41 5-61-11-12 17-33-9-16 6-30-10-49 2-21 1 37 3 2 10 60-20 31 1 39 9 34-13 0 2 24 8 69-8-4 24 29-8 65-5 0-4 60 19-4 3 52 0 24-9 18 11 36-15 17-10 34 5 43 16 46-16 31 9 38 6 7-3 26 9 37 0 24-15 53 18 27-17 26 20 27-6 24-6 37 1-36-10-43 9-10-2-53-6-8 11-44 14-32-5-30-11-29 10-13-17-53 6-31 5-2 16-47-17-24 12-41-16-5 6-49-10-41 17-33-4-6 2-43 10-29-15-26 11-38-15-33-1-36 10-25 7-29-12-15 19-17-7-58 3-38-3-13-6-49 3-20 4-25 3 19 5 44-3 8 3 45-9 41 18 10-18 29 4 59 0 21 12 36-12 24-10 3 9 73-2-11 3 29 11 55-16 46 8 18-1 18 7 24-2 28 1 27 2 51-13 14 9 23 12 52-14 41 20 33-20 24 6 33 16 34-10 30-5-4-4 34 3 47 5 22-5-41 12-11-13-17 6-37-2-26 10-51-12-18 6-20 9-33 7-29-16-58 10-22-6-30-1-31-6-18 10-24-6-53 18-26-7-50-3-4-3-46 16-11-21-40 18-54-8-30 6-17-15-37 1-23 20-32-12-41-9-18-2-23 0-17 24-45 2-49-11-20-7-33 3-29 6-24 6 28-17 41 20 12 2 37-22 33 7 32 19 10-11 53-11 37 12 27 0 24 11 24-8 38-13 14 9 66-3 20 18 25-1 37-18 31 8 25 14 27-19 12-4 68 4 3 15 61 1 15 6 33-3 8-16 26 18 56 2 20 4 12-6 59-6 24 6-30-10-32 9-13 4-38 5-34-21-41 17-13-10-35-1-39 2-47-2-29 21-4-11-35 0-63 1-13 2-14 2-42-16-48 8-4-3-29-2-30 23-61-11-3 4-27-9-31 12-62-2-15 1-34-1 38 9 16-9 25 9 46-11 12 7 28 11 62 1 21-6 20-3 19 12 35-15 35-4 30 5 30 21 50-9 34-11 36 20-1-1 38-3 39-4 34 7-36-4-34-9-14 10-28 13-64-15-18 13-11 2-51-6-30-16-15 3-31 5-59 8-15 12-53-4 2-13-59 0-1 3-52 9-32-7-22-2-29 17-27-17-39 9-25 1-37 2 28-13 38 5 23-3 17 5 29 15 48-6 13-4 52 16 22-19 51 0 4 3 49-4-3 6 57 17 25-20 24-6 26 21 53 5 8-9 52 9 7-3 36-14 53-5 10 0 47 26-5-23 40 22 49-16 21 18 38-8 12 1 49-10 28 12 24-11 23 3 32-5 18 15 25-7 60 3 19 6-22 0-25 7-45-15-28 11-45 7-37 1-13-1-8-13-63 1-26-11-18 18-46-10-19 3-41 15-14-2-24-7-66-11 8 16-53-8-7 4-47-2-28 10-36-15-50-5-14 24-43-19-33 17 9-16-44 1-18 5-70 7 7 1-35-5-24 15-64-25-19 25-37-25-6 21-30-7-41 1-37-2 30 5 45-1 4-6 25 8 29-1 60-13 9 13 30 13 44 0 10-18 61-5 18 15 41 8 1-20 38 14 51-14 37 23 23-2 15-11 49 13-1 5 44-10 24 11 28-9 22-14 60 2 13 23 47-14 22 0 34 17 29-5 20 2 32-7 14 6 49-8 45 6 0-10 29-8 61 26 8-14 50-8 19 9 25-4 57 13 25-10-4-8 33 22 62 7 30-11 24-2 21 0-40-8-13 6-54-5 1 21-42-15-39 3-28 14-24 3-31-20-28 16-18 4-64-14-6 0-46-4-5 12-34-5-53-4-3 21-46-17-46 4-31-5 6 15-60-12-10 1-45 13-24-14-33-4-38 23-6-1-48-18-48-3-18 17-40-7-6-9-16 9-64-8-33 9-1-3-55-3-30 14-27 0-20 3 21-6 22 16 59-14 0 1 34 12 29-21 68 20 23 0 36-13-5-3 59 13 9 4 29 11 51-6 19-7 37 2 15 7 47-16 15-2 44 22 32-3 15 8 34-5 23-12 40 13 21-9 56 10 7-4 50 0 21-3-29 12-21-20-22 9-55 17-11-9-49-14-26 18-38-2-13 2-47-11-17 6-42-7-23 23-17-8-39 8-48-6-35 8-5 5-27-18-34 11-53 4-9-13-64 10-13 4-21-17-53 15-14-3-38-5 34 14 37-4 32-14 21 6 6-5 37 1 36 25 34-18 40 4 24 13 17-19 28 8 47 18 16-20 30 1 32 1 22 14 71-13 31 3 24 11 25 2 3 3 38-10 46 5 26-2-36 14-7-21-40 15-19-5-31 5-35 7-62-3 4-15-42 8-38 1-8-1-66 10-4 10-26-17-39 0-18-3-61 12-4 0-42 5-38-8-16 12-21-15-34 14-61 7-16-11-24-7-44 10-1-8-44 7-34-5 40 2 19-4 27 24 35-10 42-11 14 8 22-2 45-1 26-1 53 16 24 0 26-10 18 16 32 0 53-17 17 4 24 0 57 14 11-2 39-4-23-7-53 3-19 25-43-3-5-10-52 16-26-18-7 19-32-1-56-19-31 24-23-10-48 6-6-10-18 6-69 10-19-5-21-2 29 4 27-10 22 12 38 13 57-17 18-4 23 24 41-13 38-1 30-4 22 17 15-4 49 11 4-4 30-3 62 10 18 1 42-9 32 1 20-1 24-6-25 8-27 7-32-14-42 9-42-4-32 17-29-18-31-5-34 23-37 3 5-3-25-13-48-2-15 9-35-3-65-5-21 21-31-3-37 5-21 4-38-7-36-8-25 6-21 3 31-6 17 9 48 8 44-21 13 14 39 10 37-1 18-2 15-5 56-4-5 13 67-19 4 12 52 1-1 12 59-15 31-6 19-1 42 23 31-10 34 1 8-11 49 10 32 8 9 5 40-2 17-5 37-4-25 18-55 1-27-16 2 5-69-9 8 19-58-5-29-10-40 8-16-3-33 17-35-13-3 5-33-15-41 5-36 8-50 7-9 1-41 8-32-20-42 14 1-17-59 12-37-4-23 11-38-8-15 6-25 0 26-11 32 11 20-3 56 3 38-6 29 16 29-12 3 1 38 4 14 8 28-8 48-8 41 19 14 1 58-18-10 12 69-10-2 15 63-9 27 14 19-1 16-9 38 0 24-2 24 20 46-19 25 5 46 15 14-12 49 12 25-5 18-1 28-1 38 4-25-2-41 13-10-22-48 0-10 14-48-3-28 13-17-26-47 7-14 7-62 5-16 3-14 6-57-25-6 20-41-19-10 13-57 4-1-6-41 3-32 16-59 1 2-2-38-17-49 13-36-16-17 8-20 2-20-1-51 3-15 1-54 8-18-17-29 12-15 4-30-15-63 10-4-5-25 7-41 2 30-13 40 21 35 2-1-7 63-6-3 6 51-16 41 25 12-25 49 0 19 24 29-20 45 19 14-22 18 17 45 5 39 2 30-22 3 9 42 9 36-16 23 6 47-4 9 2 24 13 36 9 26 1 55-5 4 3 32-6 46-15 11 11 36 8 53 2 0-23 52 22 13 5 30-9 54-8-2 6 32 8 48 1 28-14 49 9 7 6 54-14 10-8 29 17 41 8 35-20 30 22 2-1 57-6 19-17 40 5 12-3 62 20 26 0 10-16 17-4 62 10 25-6 32 22 13-24 26 7 28 3 20 12 53-8 43-11 0-5 42 18 23 4 33-6 29-8 32 7 38-6-38 0-32 12-36-16-34-1-15 19-13-14-40 9-22 0-61-2-12 4-29-7-26 15-60-4 9 7-52-21-20 1-42 20-26-6-42-2-15 2-23-11-41 18-42-1-25 9-5 0-32-21-46-3-12 6-36 8-34-6-31-6-51 17-20 10-20-26-54 24 1-15-61 8-23 6-43-10-14-5-25 12-40-9-31 2-22-4-14 17-62-12-19 12-33-1-39-1-27-18-36 22-27-2-25-4-25 6 24 2 54 2 10-16 48 2 23 5 26 17 32-16 13 9 53 2 7 6 50-15 41 3 8 9 20-13 43 17 29-13 49 5 20 13 39-12 4-4 42 1 40 20 8-19 32 12 66-12 24 19 3-2 72-16 20 18 9-19 51 6 16 0 55 2 13 4 32 3 28 0-25 2-20-5-50 18-39-26-32 21-24-6-25-7-34-4-23 3-31 19-53-23-28 13-9-5-21 0-48 21-29-3-40-16-26 17-27-3-33 7-11 3-42-8-46-18-33 0 6 18-33 9-52-17-33 15-13 4-33-24-14-1-71 23 3 0-34-1-47 6-39-7-2 2-39-14-29 11-22-7-28-3-33 22-63-25-15 24-20-14-48 5-21-1 28-9 38 15 35 14 26-16 13 2 53 11 15 9 25-12 43 10 28 0 56 6-11 2 57-20 31-2 28 6 27 4 14 7 39-7 40 9 37 1 27 3-35 12-12-1-28-19-24 14-59-8-31-5-30 20-13 1-17-10-60 1-29 19-36-13-4-11-34 25-49-16-22-1-33 24-27-11-12 8-64-17 0 9-24-10-58 13-22 11-43-1-24-5-21 6 22 6 32-2 52-17 37 1-1 9 32 13 53-11 38 7-2 8 38-3 43-7 43-3-1 13 59-18 2 22 40 0 52-5 21 0 7-20 63 18-3 5 30-13 43 1 22 7 53-1 26 3 31 8 17-13 60-1 33 20-4-26 33 21 45-12 38-2 19 15 41-6 22 0-37-2-5 14-68-2-14-11-11 4-52-2-28-6-47 15-14-7-45-3-28 6-20 7-20-9-20 4-62-4-19 7-35 18-11-18-48 20-42 1-13-17-22-6-38 3-49 6-5 15-35-20-34 19-46-14-10 8-31-5-22 8-33-7-57 21 9-7-64-10-35-4-23 13-27-4-12 13-34-6-17 5-31-5-69-2-21-1-36 15-27-12-20 15-38-13-8 13-48 5-12-5-42 6-50-18-20 19-15-10-64 0-23 15-9-3-35 7-35-13-29 13-11-9-54-2-27 6 23 9 26-15 57 20 7-9 18 9 30-11 36 10 49 15 32 3 18 6 51-16 5 12 55-7 19 18 32-1 29 7 36-17 39 20 23-13 29 19 26-8 27 19 36-20 47 22 37-22 28 6 30 17 15 5 19-9 27-1 43 2 53 15-10 7 54-10 20-12 60 20 1-5 42 4-40 7-8-4-54 9 2 2-38-23-38 12-39 11-39-3-15-10-30 14-48-4-31 8-1 3-44 6-51-14-26 10-19 11-3-5-54 2-15-5-38-8-39 17-35-20-29 23-15-1-28-3-39 0-30-3 19 5 23 9 49-5 47 12 33-19-3 12 24-3 53 5 29 10 13 10 36-20 58 4 5 0 42 19 38 3 5-11 44-4 32 17 36-11 17-4 27 25 51-7 4 4 35 5 39-8 27 4 28 4-32-4-28 11-22-7-21 17-36-15-63 5-4 15-57-5-36 4-31-8-25-5-30 1-26 14-26-2-45 7 1 5-31 4-54-16-20 7-40 1-23 8-30-11-50 3-32 9-12 15-16-13-57 13-20-6-36-3-27 21-22-16-14 10-34 2-40 49-16 8 35-13 7-1 71 6 19-7 5 26 62-25 0 13 33-1 57-1 30 2 29 1 37 15 14-9 34 0 41 11 11-12 49 18 10-2 32-2 42-14 35 4 13 17 41-7 29 5 51 0-3 1 69-6 8 5 32 5 25-4 45 11 6 5 37-1 30-11 30-1 50 14 44-2 25-16 2 13 60 4 2 6 25 7 32-12 28 3 50 13 53-15-7-4 26 15 51-8 25-7 34 24 46-9 16 3 34-5-33 14-23-13-19 14-64 7-11-22-22 11-22 0-26-2-68 14-25-1-36 13 4-3-29 1-50 4-33-6-14 7-24-2-47 12-30 1-11-19-64 18-18-8-29-4-50-4-19 18-30-10-36 16-9-15-39 21-18 0-63-3-3 10-32-17-16 15-67-7-8 2-34 7-34 8-29-2-54-7 7 14-35-9-64 20-18 0-30 10 23-4 58-5 37 6 17 15 54 9 12-1 33-2-28-7-31 13-35 1-20 18-20 1-36-21-36 12-31 13-42-20-49 5-13-1-46 20-7-13-23 1-35 8-39 8 38-12 40 22 26-21 2 1 52 0 38 13 10 10 38-10 53 19-4-11 24 9 48-4 32 6-25-8-39 14-45-11-16 13-11-21-53 24-13-12-38-5-41 1-7 10-67-1-27 18-19-6-50-14-11 25-26-8-38 2-24-4-34-5 22-4 41 22 33-5 15-8 27 22 29-9 44-9 32 23 9 2 49-21 51 21 14-1 33-5 22 0-26-8-36 9-11-12-40 5-33 16-22-15-28 2-63 19-26-18-34 3-27 0-36 3-26 2-23-9-44 4-2 15-35-5-41 4-39-1-33 3-38 8 10-23-31 1-48 15-32-10-22-3-55 13-23 1-24 7 20-5 60-8 11 21 47-13 8 6 50-9 12 4 27-2 38-1 26 17 51 1 31-3 2 7 47-19 16 22 59-25 7 9 20 2 47 9 43-6 12 5 39-3 28-1-27-2-51 0-33 13-7-14-18-3-34 6-30 5-29-12-64 12-4 10-57-2-12-11-15-4-41 20-37-7-57-13-10 2-25 7-51 11-20-2-11-20-56 24-35-18-20-3-29 5-33 17-16-19-28 5-45 11-34-5-30-2 38 8 6-9 67 18 17-20 40-2 16 15 49-15 8 19 25-6 53 8 13-13 43 18 3-5 51-9 23-6 41 9 10 11 30-2 27 7 40-15 34 19 37-23 23 5 49 15 18 3 16-9 48-2 43 1 18 1 26 5-22-9-48 4-31-6-38 12-6 5-29 3-47-7-16-7-34 11-29-8-44-5-25 3-38 18-21-11-36-13-5 14-49-7-16 7-24 8-50 5-8-7-46-16-31 1-34 1-27 23-40-2-33 2-5-15-67 12-28-4-15-10-14 13-23-8-34-1-57 6-15 1-37 2 23-6 18 3 46-7 19 1 41 12 33 11 28-10 49 7 2 1 26 5 37-24 25 3 23 21 43-23 29 4 55-4 26 2 17 17 10 10 60-5 21-19 34 4 30 21 29-2 43 4 34-20-1 3 32 9 46-10 9 15 60-20 11 21 42-3 19-4 33 6-27-15-13 13-57-5-10-10-65 21 3-17-23 3-46 12-28 4-45-15-12 6-42 15-43-6-9-9-55-4-22 10-37-5-18 15-36-8-6 14-32-18-52 13-14 4-18 3-32-19-59 14-23-14-13 13-21-9-33-2-35 20-35 0-57-8-28-8-14 5-30 5 25-15 48 7 32 9 35-16 32 10-6 5 42 4 51-3 5-3 65 13-8-23 30 13 68 5 22-9 25 17 23-22 26 7 52-2 30 12 36-7 31 9 2 0 36 6 37 3 14-2 28-8 30 15 40-21 64 18 9-23 48 9 3 6 42 4-30-13-14-2-47 22-13-11-61-7-24 10-15 0-39 0-37 15-44-25-13 18-35-15-10 1-20 0-60 8-27 0-23 9-11 0-31-17-53 3-40 9-8-5-21-2-27 7-55 3-42 3-14-3-38-10-6 9-33 2-58 3-10 3-57-2-23-4-12 5-36-1 30 10 39 0 44-2 25-14 0 8 64 15 9-18 31 18 18-9 56-12 24 22 47-8 24 8 1-22 61 9 25 16 34-13 38-3 22-1 40 8-1 11 54 1 31 1 20-16 47 15 22-20 1 15 36-2 59 14 11-15 18-3 33 6 41 1 36 5-22-5-43 10-44-3-15-18-9 25-66-15 4 6-71 7-2-11-20 17-45 0-42-16-22 17-11-1-48-15-42 7-12 1-19-1-53 7-50 1-26-12-26 7-20-2-49-14-25 28-17-10-27 4-35-1-20-12-18 11-69-4-17 12-37-6-4-4-53 1-24 0 41 15 39-24 14 1 17 18 36-14 54 7 8 5 40 5 23-1 36-12 47 4 15 1 48 5 26 14 2-2 53-11 39 6 23 5-22-10-54 9-13-14-51 28-11-1-42 2-32-5-36 7-16-10-34 0-12-5-73 10 4 11-52-9-19 3-20-3-35-6-45 6-33-4 34 14 8 5 69-16 8 12 19-2 24-7 39 7 29-11 21-1 44 1 46 25 10-11 48 10 41-20 32 8 19-4 20 18 22-5 40-1-35-5-13 19-64 4-20-10-33 9-22-12-38-9-32 24-41-10-14-6-21 0-23 23-73-1 11-6-54 9-22 2-60-7-6-4-36 4 35 3 44-14 15-3 27 5 50-1 2 5 57 10 30 1 28-8 37 15 8-9 24-5 65 3 16 4 6-8 71 16 14 1 25 5 42-6 23 8-23 6-28 1-37 0-47-20 4 16-68-20-26 4-21 19-39-6-16 0-24-4-52 12-30-5-31-9-16 12-27 1-43-16-11 12-32-5-35 6-29 1 29-8 18 10 28-16 64 21 21 5 2-17 38 4 26 0 28 16 49-24 11 11 30-11 38 19 35 1 46-19 26 10 22 15 43-5 37-21 30 22 6-8 26-5 67-8 21 12 17-2 16 7 58-5-1 3 43-10 17 9 70-10 20 3 3 10 68-7 26 5 36 3 21-4 34-9 13 23 43-24 42 7 13 1 39-2 15 5 45-5 36 11 36-3 32-5-7 12 66-3 19 0 24-3 28 1-41-8-21 3-12 15-51-2-11-4-25 0-73 3-4-13-34 9-17-6-49-3-9 19-66-6-26 5 2-4-33-11-68 10-1 13-27 0-47-4-25-4-51-10-30 5-22-7-17 15-15-7-30-2-35 10-51-3-22 0-23-6-54 13-29-14 1 14-40 3-57-7-21 9-42-15 9 10-47-12-31 12-56-1 8 5-69 11-25 1-25-5-28-6-28 2-28 19-23-2 31 6 24 8 29-10 54 14 20-15 9 4 67 2 2-7 59-2 1 21 17-9 64 13 1-1 54-5 33 7 12-2 20 2 49-7 31 1 31 3-41 11-19-6-14-2-59 1-6-8-48 7-12-5-31 7-37-7-46 2-3 14-44-15-39 19-38-4-10 4-61-10-7-7-16 12-44-2-33 6 37 5 35-20 17 0 48 1 3 26 54 1 38-3 36-9-6-3 34 4 30-5 47 13 35 6 29-17 29-2 36 13 19-3 21 9 50 6 8-5 44-4 34 1-34 3-23 7-59 2-9-18-44 22-34-7-40 7-19-4-15 2-49-13-13 17-20-9-68 13-27-7-37-1-24-1-23 3-26 11-40-24-28 13-40 1-22 6-25-8-38 0-27-8-51 25 1-17-42 9-40-6-3 14-62-8-11-2-37 2-24 11-29 1-38 2-39-14-10-6-28 8-71-7-14 19-13 1-52-11-34-5-22 10-39-4-31 2-27-12-55 18-27-4-9-13-36 25-28-23-31 23-9-3-67 3-6 0-16-16-47-2-44 2-24 10-49-5-13 2-26 0 32 8 9-4 39 11 59-5 33-16 13 13 44 11 31-18 4 1 56 6 33 4-1-3 59 4-2-13 30 5 55 6 20 5 30-1 26 6 41 6 16-22 48 14 37-15 34 5 9 9 19 6 48-2 6-3 28 2 44-1 35 40-24 30 29 6 27 2 37-21 17 18 23-15 64 21-4 3 32-22 31 23 52-12 32 7 25-5 33-3 38 2 38 3 18-10 11 3 55-2 39 22 37-13 2-3 50-2 42 10 32 1-4 8 52-12 12 3 58 5 33 4 11-3 39-12 43 18 31-10-6-2 47 11 15-18 44 24 51-7 24-2 23-5-28 6-52-1-15-6-28 2-26-1-46-4-10 3-62 8-33 5-6 12-46-21-16 23-49-19-22 7-36-5-16 5-42 1-23-5-44 14-8-19-48 27-40-13-21 2-32 0 20-6 54 5 10 8 23-12 53 1 34-4 29 3 23 19 53-12 5-3 41 23 25-26 59 14 2-11 58 19 16 0 30-4 41-13 29 14 41-4 10 4 33 2-20 12-26-5-24-16-55 11-12 7-65 1-20 1-15-11-20-4-61 8-21 5-38 2-20 3-25 7 39-7 7-1 53-3 39 18 5-16 33-3 55-3 16 11 29 3 19 9 40 7 49-16 21 5 19 5 25 0 27 4 42-6 39 1 29 2-32-12-40 20-40 6-8-1-41-16-49 13-26 0-28-11-19 3-27-4-22 7-32 4-45 2-43 2-25-2 24-3 34 18 53-4-8-4 66 4 32 3 36-12-5 7 25-8 42 19 21-9 61 6 25 1 28 4-20 9-59-9-10 0-23 6-39 6-18-15-21 9-54-6-21 13-18-10-47-4-28 11-17-16-49 24-37-14-32-2-7-1-40 20-19-19-37 16-44-14-18 7-34 6 32 2 26-15 30 22 56-10 9 0 42 3 13 8 49-13 22-3 43 10 24-7 30 1 6-4 37 12 23 10 54-6 12-16 38 20 42-4 29 5-31 2-16-15-65 10-6 12-18-7-38-3-51-8-6 5-62 14 3-20-30 12-63-7-11-4-17 15-51 3-48 10 5 1-45-7-21 7-62-17-6 7-42-3 35 9 42-7-6-10 51 6 41 11-3-11 44 1 44-2 25 1 34 0 33 15 21 7 26-9 42-3 44 10 18 8 14 4 43-16 12 6 52-15 12 20 40-17 23 15 56 9 24-6 12-4 39 3 41 5 9 3 58 3 19-14 34-6 12 10 61 17 23-1 25-16 44 20-2-14 33 16 23-18 63 10 12 1 36 11 24-2 40 14 29 7 30 4 32-17 22 24 30 4 37-3 17 4 61-5 17 1 35 2 21 8 61 6 7-15 32 15 25 2 41 1 27 15 49 10 20-15 18 3 52 13 11 6 35 9 39-14 41 6-3 29 50-5 30 8 28-1 43-4 39 13 25-6 45-13-8 3 59 5 17 5 56 12 16-19 23 7 13 12 50-16 20 16 36-8 32 2 32-13 18 11 26-10 37 1 62 12 31 6 15-15 20 5 45 8 5 6 65-19 21 19 44-4-7 3 57-9 21 6 32-2-38 0-4 18-67-8 5 12-45-3-21 11-56-15-23 8-22-4-41 12-3-6-28 5-39 16-55-18 2 4-27 20-46 0-21-1-39 2-29 3-49-12 7 9-66 6 2-16-55 5-4 7-46 2-28-5-47 4-5-6-51 8-39 5-32-2-2-3-55-5-14 5-48 11-32-6-24-4-42 3-8 5-37 3-35 2-30 7-30 14-44 5-31 11-25 3 38 9 15 1 27-15 64 15-1 0 23-3 61-3 4 18 26-3 62 6 8 4 42-2 31 4 27-2 37-5 42 0 14 4 40 12 36-4 21 0-39 17-20-20-14 7-70 19-10-15-52 2-12 7-25 3-20 9-31-5-62 13 7-12-35-6-38 18-25-4-41 49-32 19 31 13 33-1 37 1 15 16 49-23 42 18 18 4 27-14 30 4 18 6 25 5 60-11 27 0 27 8 36 4 8 3 64-10 31-12 34 14 9 11 29-12 43-11 2 11 31-6 42-3 30 26 40-16 45 10 9-6 39 13 22 13 38-14 47 22 14 2 36 13 37 2-27 1-41 5-44 0-26-15 1 10-54 13-5-6-61-8-11 1-29 10-46-2-31 10-11-11-26-7-53-5-31 24-31-22-45 9-13 15-46-23-11 15-24-1-37 11-47-17-1 5-58 2-25 3 35 11 34-19 3 9 36 3 35-6 38-6 32-1 23 13 24 10 51-12 34 5 36 13 5-23 61 13 2 10 31-12 21 1 43 14 58-4 4 7 57-8-8 7 39-9 25 14 23-3 67-4-2-9 59 6 10-5 47-4 12 9 23 14 35-16 53 2 4-4 68 10 2-5 35 3 37 6 31 18 23 21 40 9 34 9-23 0-48-3-35 22-24-24-13 17-47 9-27-12-28 4-42 22-15-8-62 13-7 1-47-1-20-2 30 10 50 0 6-14 27 25 49 2 24 5 55-18 4 15 21-8 39 3 56 5 19-3 42 11 24-4 21-4 29 14 43-4 29 48 33-4 28-5 41 27 37-24-2 22 50-13 18 19 39-20 16 26 49-2 17-13 28-6 47 21 55-9-3 16 45-1 42 0 39-16-9 2 70 12 8 1 34-1 32 6 32 4 39-10 35 4 37-6-9 0 30 21 31 0 55-13 30 12 15 7 62 8 14-2 30 6 8-13 56-7 40 9 2 6 55 1 23-3-34 11-11 0-54 3-10 5-34-3-61-13-31-1-23 22-31-13-36 18-21-25-15 0-39 19-45-17-17 9-7 14-53-18-9 6-33 18-51-20-8-2-45 18-44-16-19 22-28-8-34 14-20-2-39-9-47 3-33-4-11-2-43 14-29-17-25 22-15-6-53-13-8 11-33-2-35 7-34 6 22-12 17 17 37-6 48-5 43-1 23 22 35-17 4 4 57 10 5 13 25-4 56-2-2-2 35 4 57-2-1 1 40 3 24 10 54 0 22-3 35 11 16 10 55-24 34 26 18-21 44 4 9-1 49 13 9-2 54 9 31 12 32-9 16 3 25-16 48 20 24 11 4-12 49 2 33 12 22 16 32 6 45 15 30-4-27 5-45-2-5-2-53-2-6 16-48-17-33-2-34 14-5 9-30 3-49-18-41 18-7-22-23 5-62 0 10 11-74 0-5-4-52 14-5 0-41-5-24 1-10 8-40-3-24-15-44-1-54 16-10-6-31 14-47-13 2 5-51-1-22 13 32 9 45 3 42 1 27 35 1 30-1"/>
</g>
<g fill="none" stroke-linecap="round" stroke-width="10">
<path stroke="#BBBDC0" d="M667 2046 H755"/>
<path stroke="#DCC190" d="M667 2133 H755"/>
</g></svg>
<div class="t" style="left:46.70px;top:1009.75px;font-size:57px;line-height:74px;letter-spacing:3.456px;word-spacing:0.000px;-webkit-text-stroke:0.25px #CCA461;color:#CCA461">Chart 9. European equities tend to outperform with better economic growth</div>
<div class="t" style="left:764.00px;top:2008.25px;font-size:57px;line-height:74px;letter-spacing:-0.229px;word-spacing:0.000px;-webkit-text-stroke:0.9px #fff;color:#000">EU economic surprise - US economic surprise, LHS</div>
<div class="t" style="left:764.00px;top:2095.25px;font-size:57px;line-height:74px;letter-spacing:-1.889px;word-spacing:0.000px;-webkit-text-stroke:0.9px #fff;color:#000">Stoxx 600 vs SP 500 (YoY, %), RHS</div>
<div class="t" style="left:42.00px;top:2289.82px;font-size:41.5px;line-height:54px;letter-spacing:1.119px;word-spacing:0.000px;-webkit-text-stroke:0.7px #fff;color:#000">Source: CitiBank, Bloomberg, CIGP</div>
<div class="t" style="right:3555.50px;top:1093.41px;font-size:47px;line-height:61px;letter-spacing:-3.3px;-webkit-text-stroke:0.9px #fff;color:#000">300</div>
<div class="t" style="right:3555.50px;top:1240.31px;font-size:47px;line-height:61px;letter-spacing:-3.3px;-webkit-text-stroke:0.9px #fff;color:#000">200</div>
<div class="t" style="right:3555.50px;top:1387.21px;font-size:47px;line-height:61px;letter-spacing:-3.3px;-webkit-text-stroke:0.9px #fff;color:#000">100</div>
<div class="t" style="right:3555.50px;top:1534.11px;font-size:47px;line-height:61px;letter-spacing:-3.3px;-webkit-text-stroke:0.9px #fff;color:#000">0</div>
<div class="t" style="right:3555.50px;top:1681.01px;font-size:47px;line-height:61px;letter-spacing:-3.3px;-webkit-text-stroke:0.9px #fff;color:#000">-100</div>
<div class="t" style="right:3555.50px;top:1827.91px;font-size:47px;line-height:61px;letter-spacing:-3.3px;-webkit-text-stroke:0.9px #fff;color:#000">-200</div>
<div class="t" style="right:3555.50px;top:1974.81px;font-size:47px;line-height:61px;letter-spacing:-3.3px;-webkit-text-stroke:0.9px #fff;color:#000">-300</div>
<div class="t" style="right:3555.50px;top:2121.71px;font-size:47px;line-height:61px;letter-spacing:-3.3px;-webkit-text-stroke:0.9px #fff;color:#000">-400</div>
<div class="t" style="left:2731.50px;top:1092.61px;font-size:47px;line-height:61px;letter-spacing:-3.3px;-webkit-text-stroke:0.9px #fff;color:#000">25</div>
<div class="t" style="left:2731.50px;top:1186.11px;font-size:47px;line-height:61px;letter-spacing:-3.3px;-webkit-text-stroke:0.9px #fff;color:#000">20</div>
<div class="t" style="left:2731.50px;top:1279.61px;font-size:47px;line-height:61px;letter-spacing:-3.3px;-webkit-text-stroke:0.9px #fff;color:#000">15</div>
<div class="t" style="left:2731.50px;top:1373.11px;font-size:47px;line-height:61px;letter-spacing:-3.3px;-webkit-text-stroke:0.9px #fff;color:#000">10</div>
<div class="t" style="left:2731.50px;top:1466.61px;font-size:47px;line-height:61px;letter-spacing:-3.3px;-webkit-text-stroke:0.9px #fff;color:#000">5</div>
<div class="t" style="left:2731.50px;top:1560.11px;font-size:47px;line-height:61px;letter-spacing:-3.3px;-webkit-text-stroke:0.9px #fff;color:#000">0</div>
<div class="t" style="left:2731.50px;top:1653.61px;font-size:47px;line-height:61px;letter-spacing:-3.3px;-webkit-text-stroke:0.9px #fff;color:#000">-5</div>
<div class="t" style="left:2731.50px;top:1747.11px;font-size:47px;line-height:61px;letter-spacing:-3.3px;-webkit-text-stroke:0.9px #fff;color:#000">-10</div>
<div class="t" style="left:2731.50px;top:1840.61px;font-size:47px;line-height:61px;letter-spacing:-3.3px;-webkit-text-stroke:0.9px #fff;color:#000">-15</div>
<div class="t" style="left:2731.50px;top:1934.11px;font-size:47px;line-height:61px;letter-spacing:-3.3px;-webkit-text-stroke:0.9px #fff;color:#000">-20</div>
<div class="t" style="left:2731.50px;top:2027.61px;font-size:47px;line-height:61px;letter-spacing:-3.3px;-webkit-text-stroke:0.9px #fff;color:#000">-25</div>
<div class="t" style="left:2731.50px;top:2121.11px;font-size:47px;line-height:61px;letter-spacing:-3.3px;-webkit-text-stroke:0.9px #fff;color:#000">-30</div>
<div class="t" style="left:54.30px;width:200px;text-align:center;top:2174.41px;font-size:47px;line-height:61px;letter-spacing:-3.3px;-webkit-text-stroke:0.9px #fff;color:#000">03</div>
<div class="t" style="left:173.60px;width:200px;text-align:center;top:2174.41px;font-size:47px;line-height:61px;letter-spacing:-3.3px;-webkit-text-stroke:0.9px #fff;color:#000">04</div>
<div class="t" style="left:292.90px;width:200px;text-align:center;top:2174.41px;font-size:47px;line-height:61px;letter-spacing:-3.3px;-webkit-text-stroke:0.9px #fff;color:#000">05</div>
<div class="t" style="left:412.20px;width:200px;text-align:center;top:2174.41px;font-size:47px;line-height:61px;letter-spacing:-3.3px;-webkit-text-stroke:0.9px #fff;color:#000">06</div>
<div class="t" style="left:531.50px;width:200px;text-align:center;top:2174.41px;font-size:47px;line-height:61px;letter-spacing:-3.3px;-webkit-text-stroke:0.9px #fff;color:#000">07</div>
<div class="t" style="left:650.80px;width:200px;text-align:center;top:2174.41px;font-size:47px;line-height:61px;letter-spacing:-3.3px;-webkit-text-stroke:0.9px #fff;color:#000">08</div>
<div class="t" style="left:770.10px;width:200px;text-align:center;top:2174.41px;font-size:47px;line-height:61px;letter-spacing:-3.3px;-webkit-text-stroke:0.9px #fff;color:#000">09</div>
<div class="t" style="left:889.40px;width:200px;text-align:center;top:2174.41px;font-size:47px;line-height:61px;letter-spacing:-3.3px;-webkit-text-stroke:0.9px #fff;color:#000">10</div>
<div class="t" style="left:1008.70px;width:200px;text-align:center;top:2174.41px;font-size:47px;line-height:61px;letter-spacing:-3.3px;-webkit-text-stroke:0.9px #fff;color:#000">11</div>
<div class="t" style="left:1128.00px;width:200px;text-align:center;top:2174.41px;font-size:47px;line-height:61px;letter-spacing:-3.3px;-webkit-text-stroke:0.9px #fff;color:#000">12</div>
<div class="t" style="left:1247.30px;width:200px;text-align:center;top:2174.41px;font-size:47px;line-height:61px;letter-spacing:-3.3px;-webkit-text-stroke:0.9px #fff;color:#000">13</div>
<div class="t" style="left:1366.60px;width:200px;text-align:center;top:2174.41px;font-size:47px;line-height:61px;letter-spacing:-3.3px;-webkit-text-stroke:0.9px #fff;color:#000">14</div>
<div class="t" style="left:1485.90px;width:200px;text-align:center;top:2174.41px;font-size:47px;line-height:61px;letter-spacing:-3.3px;-webkit-text-stroke:0.9px #fff;color:#000">15</div>
<div class="t" style="left:1605.20px;width:200px;text-align:center;top:2174.41px;font-size:47px;line-height:61px;letter-spacing:-3.3px;-webkit-text-stroke:0.9px #fff;color:#000">16</div>
<div class="t" style="left:1724.50px;width:200px;text-align:center;top:2174.41px;font-size:47px;line-height:61px;letter-spacing:-3.3px;-webkit-text-stroke:0.9px #fff;color:#000">17</div>
<div class="t" style="left:1843.80px;width:200px;text-align:center;top:2174.41px;font-size:47px;line-height:61px;letter-spacing:-3.3px;-webkit-text-stroke:0.9px #fff;color:#000">18</div>
<div class="t" style="left:1963.10px;width:200px;text-align:center;top:2174.41px;font-size:47px;line-height:61px;letter-spacing:-3.3px;-webkit-text-stroke:0.9px #fff;color:#000">19</div>
<div class="t" style="left:2082.40px;width:200px;text-align:center;top:2174.41px;font-size:47px;line-height:61px;letter-spacing:-3.3px;-webkit-text-stroke:0.9px #fff;color:#000">20</div>
<div class="t" style="left:2201.70px;width:200px;text-align:center;top:2174.41px;font-size:47px;line-height:61px;letter-spacing:-3.3px;-webkit-text-stroke:0.9px #fff;color:#000">21</div>
<div class="t" style="left:2321.00px;width:200px;text-align:center;top:2174.41px;font-size:47px;line-height:61px;letter-spacing:-3.3px;-webkit-text-stroke:0.9px #fff;color:#000">22</div>
<div class="t" style="left:2440.30px;width:200px;text-align:center;top:2174.41px;font-size:47px;line-height:61px;letter-spacing:-3.3px;-webkit-text-stroke:0.9px #fff;color:#000">23</div>
<div class="t" style="left:2559.60px;width:200px;text-align:center;top:2174.41px;font-size:47px;line-height:61px;letter-spacing:-3.3px;-webkit-text-stroke:0.9px #fff;color:#000">24</div>
</body></html>
